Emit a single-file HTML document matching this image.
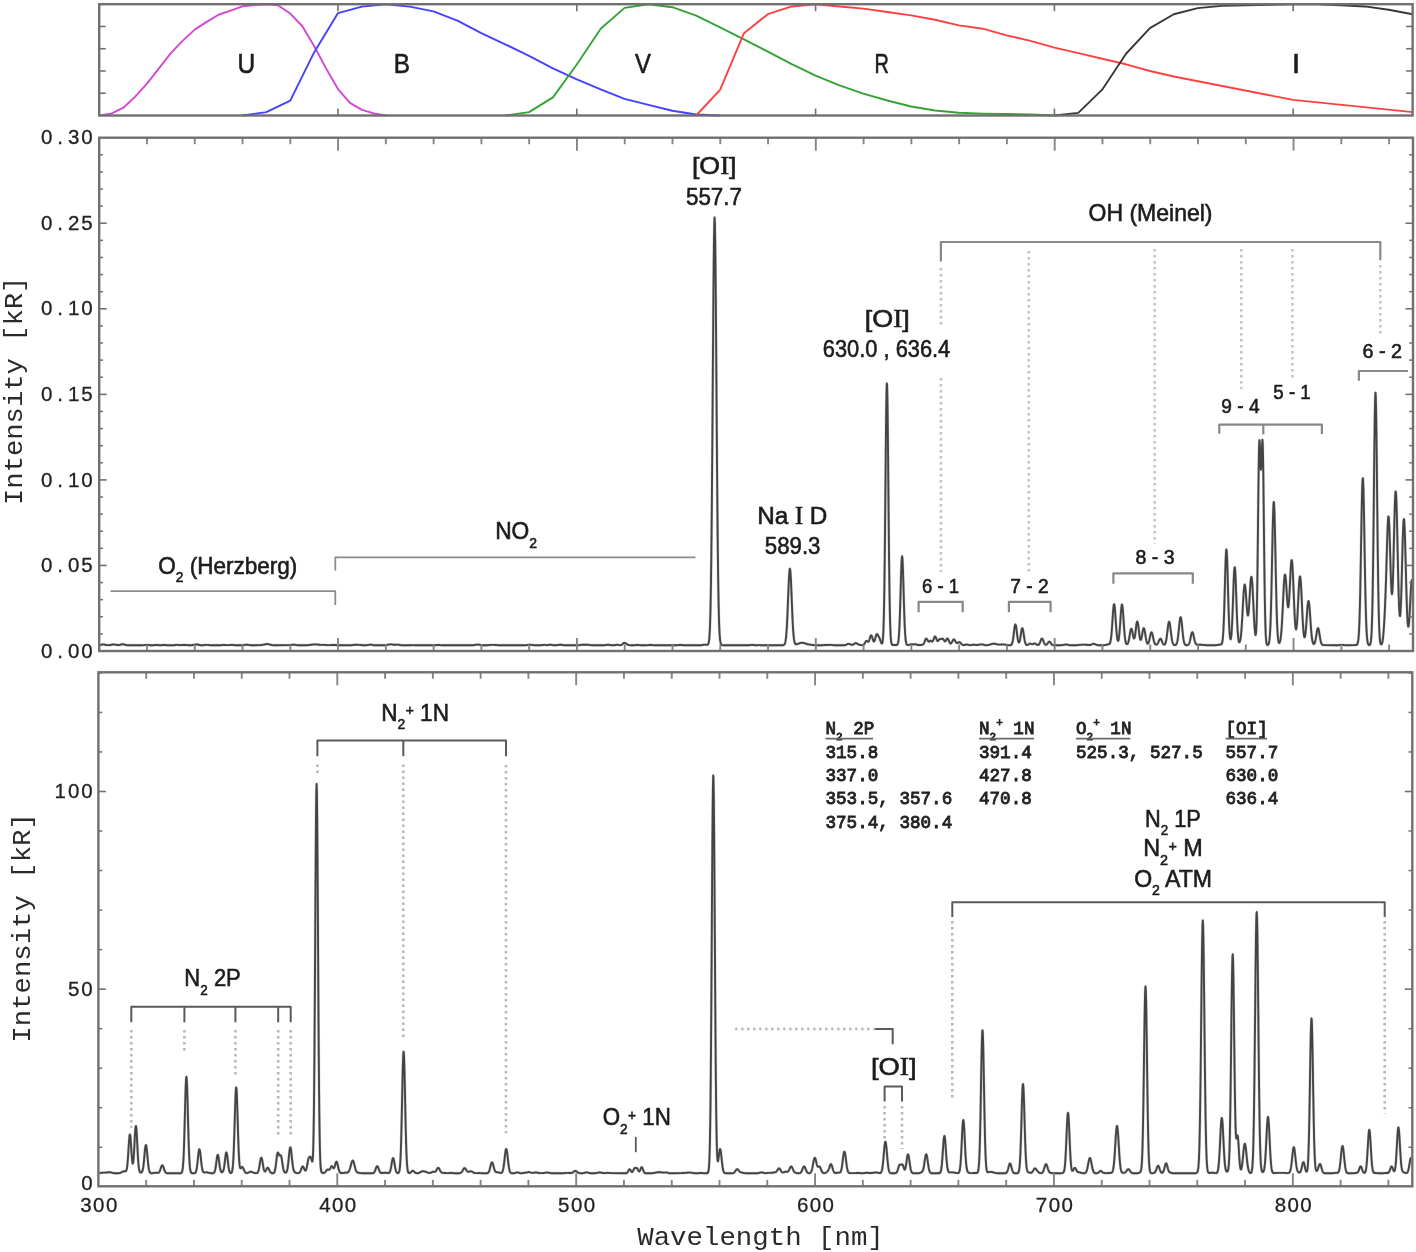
<!DOCTYPE html>
<html><head><meta charset="utf-8"><title>Airglow spectrum</title>
<style>html,body{margin:0;padding:0;background:#fff;} svg{display:block;will-change:transform;} text{filter:grayscale(0%);}</style>
</head><body>
<svg width="1416" height="1252" viewBox="0 0 1416 1252">
<rect width="1416" height="1252" fill="#fff"/>
<line x1="99.20" y1="93.24" x2="105.70" y2="93.24" stroke="#707070" stroke-width="1.6" />
<line x1="1412.60" y1="93.24" x2="1406.10" y2="93.24" stroke="#707070" stroke-width="1.6" />
<line x1="99.20" y1="70.98" x2="105.70" y2="70.98" stroke="#707070" stroke-width="1.6" />
<line x1="1412.60" y1="70.98" x2="1406.10" y2="70.98" stroke="#707070" stroke-width="1.6" />
<line x1="99.20" y1="48.72" x2="105.70" y2="48.72" stroke="#707070" stroke-width="1.6" />
<line x1="1412.60" y1="48.72" x2="1406.10" y2="48.72" stroke="#707070" stroke-width="1.6" />
<line x1="99.20" y1="26.46" x2="105.70" y2="26.46" stroke="#707070" stroke-width="1.6" />
<line x1="1412.60" y1="26.46" x2="1406.10" y2="26.46" stroke="#707070" stroke-width="1.6" />
<line x1="338.00" y1="4.20" x2="338.00" y2="11.20" stroke="#707070" stroke-width="1.6" />
<line x1="338.00" y1="115.50" x2="338.00" y2="108.50" stroke="#707070" stroke-width="1.6" />
<line x1="576.80" y1="4.20" x2="576.80" y2="11.20" stroke="#707070" stroke-width="1.6" />
<line x1="576.80" y1="115.50" x2="576.80" y2="108.50" stroke="#707070" stroke-width="1.6" />
<line x1="815.60" y1="4.20" x2="815.60" y2="11.20" stroke="#707070" stroke-width="1.6" />
<line x1="815.60" y1="115.50" x2="815.60" y2="108.50" stroke="#707070" stroke-width="1.6" />
<line x1="1054.40" y1="4.20" x2="1054.40" y2="11.20" stroke="#707070" stroke-width="1.6" />
<line x1="1054.40" y1="115.50" x2="1054.40" y2="108.50" stroke="#707070" stroke-width="1.6" />
<line x1="1293.20" y1="4.20" x2="1293.20" y2="11.20" stroke="#707070" stroke-width="1.6" />
<line x1="1293.20" y1="115.50" x2="1293.20" y2="108.50" stroke="#707070" stroke-width="1.6" />
<path d="M99.20,115.50 L111.14,113.72 L123.08,107.93 L135.02,96.91 L146.96,83.56 L158.90,68.42 L170.84,53.17 L182.78,40.60 L194.72,29.58 L206.66,21.90 L218.60,14.77 L230.54,10.54 L242.48,6.31 L254.42,4.98 L266.36,4.20 L278.30,5.42 L290.24,13.55 L302.18,26.01 L314.12,45.94 L326.06,68.42 L338.00,89.01 L349.94,102.81 L361.88,109.82 L373.82,113.39 L385.76,115.50" fill="none" stroke="#d048d4" stroke-width="1.9" stroke-linejoin="round" />
<path d="M242.48,115.50 L266.36,112.16 L290.24,100.59 L314.12,52.39 L338.00,13.10 L361.88,6.65 L385.76,4.20 L409.64,6.65 L433.52,11.43 L457.40,20.56 L481.28,33.14 L505.16,44.27 L529.04,55.84 L552.92,68.31 L576.80,79.33 L600.68,89.34 L624.56,98.81 L648.44,104.93 L672.32,110.71 L696.20,114.50 L720.08,115.50" fill="none" stroke="#4242ff" stroke-width="1.9" stroke-linejoin="round" />
<path d="M505.16,115.50 L529.04,112.16 L552.92,97.36 L576.80,64.52 L600.68,28.69 L624.56,7.87 L648.44,4.20 L672.32,7.21 L696.20,15.55 L720.08,27.35 L743.96,39.37 L767.84,51.61 L791.72,64.19 L815.60,75.54 L839.48,85.45 L863.36,93.57 L887.24,100.47 L911.12,106.48 L935.00,110.49 L958.88,112.72 L982.76,113.61 L1006.64,114.05 L1030.52,114.50 L1054.40,115.50" fill="none" stroke="#36a236" stroke-width="1.9" stroke-linejoin="round" />
<path d="M696.20,115.50 L720.08,89.90 L743.96,33.14 L767.84,14.22 L791.72,6.43 L815.60,4.20 L839.48,6.43 L863.36,8.65 L887.24,11.99 L911.12,15.33 L935.00,19.78 L958.88,25.35 L982.76,28.69 L1006.64,35.36 L1030.52,40.93 L1054.40,47.61 L1078.28,53.17 L1102.16,58.74 L1126.04,64.30 L1149.92,70.98 L1173.80,76.55 L1293.20,99.92 L1412.60,112.16" fill="none" stroke="#ff4040" stroke-width="1.9" stroke-linejoin="round" />
<path d="M1054.40,115.50 L1078.28,112.83 L1102.16,89.68 L1126.04,53.73 L1149.92,28.13 L1173.80,14.22 L1197.68,8.10 L1221.56,5.87 L1245.44,5.31 L1269.32,4.76 L1293.20,4.20 L1317.08,4.20 L1340.96,5.31 L1364.84,6.43 L1388.72,9.77 L1412.60,14.22" fill="none" stroke="#383838" stroke-width="1.9" stroke-linejoin="round" />
<rect x="99.2" y="4.2" width="1313.40" height="111.30" fill="none" stroke="#707070" stroke-width="2.4"/>
<text id="t0" x="246.00" y="72.70" font-family="Liberation Sans" font-size="27" text-anchor="middle" fill="#1c1c1c" stroke="#1c1c1c" stroke-width="0.6" transform="matrix(0.9068 0 0 1.0000 23.27 0.00)" >U</text>
<text id="t1" x="402.20" y="72.70" font-family="Liberation Sans" font-size="27" text-anchor="middle" fill="#1c1c1c" stroke="#1c1c1c" stroke-width="0.6" transform="matrix(0.8983 0 0 1.0000 40.63 0.00)" >B</text>
<text id="t2" x="643.00" y="72.70" font-family="Liberation Sans" font-size="27" text-anchor="middle" fill="#1c1c1c" stroke="#1c1c1c" stroke-width="0.6" transform="matrix(0.8829 0 0 1.0000 75.34 0.00)" >V</text>
<text id="t3" x="881.60" y="72.70" font-family="Liberation Sans" font-size="27" text-anchor="middle" fill="#1c1c1c" stroke="#1c1c1c" stroke-width="0.6" transform="matrix(0.7373 0 0 1.0000 231.70 0.00)" >R</text>
<text id="t4" x="1296.00" y="72.70" font-family="Liberation Sans" font-size="27" text-anchor="middle" fill="#1c1c1c" stroke="#1c1c1c" stroke-width="0.6" transform="matrix(1.0814 0 0 1.0000 -105.51 0.00)" >I</text>
<path d="M100.20,645.03 100.50,644.97 100.80,644.90 101.10,644.82 101.40,644.73 101.70,644.64 102.00,644.55 102.30,644.47 102.60,644.40 102.90,644.36 103.20,644.34 103.50,644.35 103.80,644.38 104.10,644.44 104.40,644.52 104.70,644.61 105.00,644.71 105.30,644.81 105.60,644.89 105.90,644.96 106.20,645.01 106.50,645.05 106.80,645.08 109.80,645.07 110.10,645.04 110.40,645.01 110.70,644.96 111.00,644.90 111.30,644.83 111.60,644.75 111.90,644.67 112.20,644.59 112.50,644.53 112.80,644.48 113.10,644.46 113.70,644.46 114.00,644.49 114.30,644.53 114.60,644.58 114.90,644.63 115.20,644.68 115.50,644.73 115.80,644.78 116.10,644.82 116.40,644.86 116.70,644.89 117.00,644.92 117.30,644.94 118.80,644.97 119.10,644.94 119.40,644.91 119.70,644.87 120.00,644.81 120.30,644.75 120.60,644.68 120.90,644.60 121.20,644.52 121.50,644.45 121.80,644.38 122.10,644.33 122.40,644.29 123.00,644.28 123.30,644.31 123.60,644.36 123.90,644.42 124.20,644.50 124.50,644.59 124.80,644.68 125.10,644.77 125.40,644.86 125.70,644.94 126.00,645.01 126.30,645.07 126.60,645.12 126.90,645.16 127.20,645.20 127.50,645.22 127.80,645.24 143.10,645.20 143.40,645.17 143.70,645.15 144.00,645.11 144.30,645.07 144.60,645.03 144.90,644.99 145.20,644.94 145.50,644.90 145.80,644.87 146.10,644.84 147.30,644.83 147.60,644.86 147.90,644.89 148.20,644.94 148.50,644.98 148.80,645.03 149.10,645.08 149.40,645.12 149.70,645.16 150.00,645.19 150.30,645.22 150.60,645.24 153.30,645.23 153.60,645.21 153.90,645.19 154.20,645.16 154.50,645.12 154.80,645.09 155.10,645.05 155.40,645.02 155.70,644.99 156.00,644.97 157.20,644.98 157.50,645.00 157.80,645.03 158.10,645.06 158.40,645.10 158.70,645.13 159.00,645.16 159.30,645.18 161.10,645.19 161.40,645.16 161.70,645.13 162.00,645.10 162.30,645.06 162.60,645.03 162.90,645.00 163.20,644.97 164.40,644.96 164.70,644.98 165.00,645.01 165.30,645.04 165.60,645.08 165.90,645.12 166.20,645.15 166.50,645.18 166.80,645.21 167.10,645.23 173.70,645.24 174.00,645.21 174.30,645.18 174.60,645.14 174.90,645.10 175.20,645.05 175.50,645.00 175.80,644.95 176.10,644.90 176.40,644.87 176.70,644.84 177.60,644.85 177.90,644.87 178.20,644.91 178.50,644.95 178.80,644.99 179.10,645.03 179.40,645.06 179.70,645.09 181.50,645.07 181.80,645.05 182.10,645.03 182.40,645.00 182.70,644.98 183.00,644.96 185.40,644.96 185.70,644.98 186.00,645.01 186.30,645.03 186.60,645.06 186.90,645.09 187.20,645.12 187.50,645.14 187.80,645.16 188.10,645.18 191.10,645.18 191.40,645.15 191.70,645.12 192.00,645.09 192.30,645.06 192.60,645.02 192.90,644.97 193.20,644.93 193.50,644.88 193.80,644.84 194.10,644.79 194.40,644.74 194.70,644.69 195.00,644.64 195.30,644.59 195.60,644.54 195.90,644.50 196.20,644.46 196.50,644.43 197.10,644.43 197.40,644.45 197.70,644.50 198.00,644.56 198.30,644.64 198.60,644.72 198.90,644.81 199.20,644.90 199.50,644.98 199.80,645.05 200.10,645.10 200.40,645.15 200.70,645.19 201.00,645.21 202.80,645.20 203.10,645.18 203.40,645.15 203.70,645.12 204.00,645.08 204.30,645.04 204.60,645.00 204.90,644.96 205.20,644.92 205.50,644.88 205.80,644.85 206.10,644.83 207.30,644.83 207.60,644.85 207.90,644.88 208.20,644.92 208.50,644.96 208.80,645.00 209.10,645.05 209.40,645.09 209.70,645.12 210.00,645.16 210.30,645.19 210.60,645.21 210.90,645.23 220.80,645.20 221.10,645.18 221.40,645.16 221.70,645.13 222.00,645.11 222.30,645.09 222.60,645.06 225.60,645.07 225.90,645.09 226.20,645.11 228.60,645.14 228.90,645.11 229.20,645.08 229.50,645.05 229.80,645.02 230.10,644.98 230.40,644.95 230.70,644.93 231.00,644.90 232.20,644.91 232.50,644.93 232.80,644.96 233.10,645.00 233.40,645.03 233.70,645.07 234.00,645.11 234.30,645.15 234.60,645.18 234.90,645.20 235.20,645.23 242.70,645.24 243.00,645.21 243.30,645.19 243.60,645.15 243.90,645.11 244.20,645.07 244.50,645.02 244.80,644.96 245.10,644.91 245.40,644.86 245.70,644.81 246.00,644.78 246.30,644.75 247.20,644.73 247.50,644.76 247.80,644.79 248.10,644.83 248.40,644.88 248.70,644.93 249.00,644.98 249.30,645.03 249.60,645.08 249.90,645.12 250.20,645.16 250.50,645.19 250.80,645.21 260.40,645.15 260.70,645.12 261.00,645.09 261.30,645.05 261.60,645.01 261.90,644.97 262.20,644.91 262.50,644.86 262.80,644.80 263.10,644.75 263.40,644.69 263.70,644.63 264.00,644.57 264.30,644.51 264.60,644.45 264.90,644.40 265.20,644.34 265.50,644.28 265.80,644.22 266.10,644.17 266.40,644.13 266.70,644.09 267.00,644.06 267.60,644.06 267.90,644.08 268.20,644.11 268.50,644.17 268.80,644.23 269.10,644.31 269.40,644.39 269.70,644.48 270.00,644.57 270.30,644.65 270.60,644.74 270.90,644.82 271.20,644.89 271.50,644.96 271.80,645.02 272.10,645.07 272.40,645.12 272.70,645.16 273.00,645.19 273.30,645.22 273.60,645.24 289.80,645.08 290.10,645.06 290.40,645.03 290.70,645.00 291.00,644.97 291.30,644.93 291.60,644.90 291.90,644.86 292.20,644.83 292.50,644.80 292.80,644.78 294.30,644.78 294.60,644.80 294.90,644.84 295.20,644.87 295.50,644.91 295.80,644.95 296.10,644.99 296.40,645.03 296.70,645.07 297.00,645.11 297.30,645.14 297.60,645.17 297.90,645.20 298.20,645.22 306.90,645.22 307.20,645.20 307.50,645.17 307.80,645.14 308.10,645.10 308.40,645.06 308.70,645.02 309.00,644.98 309.30,644.94 309.60,644.90 309.90,644.86 310.20,644.83 310.50,644.79 310.80,644.76 311.10,644.74 311.40,644.71 311.70,644.68 312.00,644.66 312.30,644.63 312.60,644.60 312.90,644.57 313.20,644.53 313.50,644.50 313.80,644.46 314.10,644.43 314.40,644.41 314.70,644.38 315.90,644.39 316.20,644.41 316.50,644.44 316.80,644.47 317.10,644.51 317.40,644.55 317.70,644.58 318.00,644.62 318.30,644.66 318.60,644.69 318.90,644.72 319.20,644.75 319.50,644.77 319.80,644.79 324.90,644.92 325.20,644.95 325.50,644.97 325.80,645.00 326.10,645.03 326.40,645.06 326.70,645.08 327.00,645.11 327.30,645.14 327.60,645.16 330.30,645.17 330.60,645.14 330.90,645.12 331.20,645.09 331.50,645.06 331.80,645.03 332.10,645.00 332.40,644.97 332.70,644.95 334.50,644.95 334.80,644.97 335.10,645.00 335.40,645.03 335.70,645.06 336.00,645.09 336.30,645.12 336.60,645.15 336.90,645.18 337.20,645.20 351.00,645.22 351.30,645.20 351.60,645.17 351.90,645.14 352.20,645.11 352.50,645.07 352.80,645.03 353.10,644.99 353.40,644.95 353.70,644.91 354.00,644.87 354.30,644.83 354.60,644.80 354.90,644.78 359.70,644.85 360.00,644.88 360.30,644.92 360.60,644.96 360.90,645.01 361.20,645.06 361.50,645.11 361.80,645.15 362.10,645.19 362.40,645.22 362.70,645.24 365.70,645.24 366.00,645.22 366.30,645.19 366.60,645.15 366.90,645.11 367.20,645.07 367.50,645.03 367.80,644.98 368.10,644.93 368.40,644.89 368.70,644.84 369.00,644.80 369.30,644.75 369.60,644.71 369.90,644.68 370.20,644.65 371.10,644.64 371.40,644.67 371.70,644.72 372.00,644.78 372.30,644.85 372.60,644.92 372.90,645.00 373.20,645.07 373.50,645.13 373.80,645.18 374.10,645.21 374.40,645.24 374.70,645.26 385.20,645.25 385.50,645.23 385.80,645.19 386.10,645.15 386.40,645.10 386.70,645.04 387.00,644.97 387.30,644.89 387.60,644.81 387.90,644.73 388.20,644.65 388.50,644.58 388.80,644.52 389.10,644.46 389.40,644.42 389.70,644.39 391.50,644.40 391.80,644.42 392.10,644.46 392.40,644.50 392.70,644.54 393.00,644.59 393.30,644.64 393.60,644.69 393.90,644.73 394.20,644.77 394.50,644.80 395.40,644.81 395.70,644.79 396.00,644.76 396.30,644.72 396.60,644.67 396.90,644.64 397.20,644.61 397.80,644.60 398.10,644.62 398.40,644.66 398.70,644.72 399.00,644.78 399.30,644.85 399.60,644.92 399.90,644.99 400.20,645.05 400.50,645.11 400.80,645.16 401.10,645.19 401.40,645.22 401.70,645.25 410.70,645.24 411.00,645.22 411.30,645.20 411.60,645.17 411.90,645.14 412.20,645.11 412.50,645.09 413.70,645.10 414.00,645.12 414.30,645.15 414.60,645.18 414.90,645.20 415.20,645.23 415.50,645.25 435.00,645.25 435.30,645.23 435.60,645.20 435.90,645.17 436.20,645.13 436.50,645.08 436.80,645.04 437.10,645.00 437.40,644.96 437.70,644.93 438.60,644.92 438.90,644.95 439.20,644.98 439.50,645.02 439.80,645.06 440.10,645.10 440.40,645.14 440.70,645.17 441.00,645.19 472.20,645.23 472.50,645.21 472.80,645.18 473.10,645.15 473.40,645.12 473.70,645.08 474.00,645.04 474.30,645.00 474.60,644.95 474.90,644.91 475.20,644.86 475.50,644.82 475.80,644.77 476.10,644.74 476.40,644.70 476.70,644.67 477.00,644.65 478.50,644.62 478.80,644.65 479.10,644.68 479.40,644.72 479.70,644.78 480.00,644.83 480.30,644.90 480.60,644.96 480.90,645.02 481.20,645.08 481.50,645.13 481.80,645.17 482.10,645.21 482.40,645.23 482.70,645.25 487.50,645.21 487.80,645.19 488.10,645.17 488.40,645.14 488.70,645.11 489.00,645.08 489.30,645.04 489.60,645.01 489.90,644.97 490.20,644.94 490.50,644.90 490.80,644.87 491.10,644.85 491.40,644.83 494.10,644.85 494.40,644.87 494.70,644.89 495.00,644.92 495.30,644.95 495.60,644.97 495.90,645.00 496.20,645.03 496.50,645.06 496.80,645.09 497.10,645.11 497.40,645.14 497.70,645.16 498.00,645.18 525.30,645.22 525.60,645.19 525.90,645.17 526.20,645.14 526.50,645.10 526.80,645.07 527.10,645.03 527.40,644.99 527.70,644.95 528.00,644.91 528.30,644.87 528.60,644.84 528.90,644.81 529.20,644.79 530.70,644.80 531.00,644.83 531.30,644.86 531.60,644.89 531.90,644.93 532.20,644.97 532.50,645.01 532.80,645.05 533.10,645.09 533.40,645.13 533.70,645.16 534.00,645.19 534.30,645.21 540.60,645.24 540.90,645.22 541.20,645.19 541.50,645.15 541.80,645.11 542.10,645.06 542.40,645.01 542.70,644.95 543.00,644.91 543.30,644.87 543.60,644.84 544.50,644.83 544.80,644.86 545.10,644.90 545.40,644.94 545.70,644.99 546.00,645.04 546.30,645.08 546.60,645.11 547.50,645.12 547.80,645.09 548.10,645.05 548.40,644.99 548.70,644.93 549.00,644.87 549.30,644.81 549.60,644.76 549.90,644.73 550.50,644.72 550.80,644.75 551.10,644.80 551.40,644.86 551.70,644.92 552.00,644.99 552.30,645.05 552.60,645.11 552.90,645.16 553.20,645.20 553.50,645.23 553.80,645.25 556.20,645.23 556.50,645.21 556.80,645.18 557.10,645.14 557.40,645.10 557.70,645.05 558.00,645.00 558.30,644.94 558.60,644.89 558.90,644.84 559.20,644.79 559.50,644.76 559.80,644.73 560.70,644.74 561.00,644.77 561.30,644.81 561.60,644.85 561.90,644.90 562.20,644.96 562.50,645.01 562.80,645.06 563.10,645.11 563.40,645.15 563.70,645.19 564.00,645.21 564.30,645.24 578.10,645.22 578.40,645.20 578.70,645.18 579.00,645.15 579.30,645.12 579.60,645.09 579.90,645.05 580.20,645.01 580.50,644.97 580.80,644.92 581.10,644.88 581.40,644.84 581.70,644.80 582.00,644.77 582.30,644.74 582.60,644.71 587.40,644.71 587.70,644.73 588.00,644.76 588.30,644.80 588.60,644.83 588.90,644.87 589.20,644.92 589.50,644.96 589.80,645.00 590.10,645.03 590.40,645.07 590.70,645.10 591.00,645.13 591.30,645.16 591.60,645.18 591.90,645.21 603.90,645.24 604.20,645.22 604.50,645.20 604.80,645.17 605.10,645.13 605.40,645.09 605.70,645.04 606.00,644.99 606.30,644.95 606.60,644.90 606.90,644.86 607.20,644.82 607.50,644.79 608.70,644.80 609.00,644.83 609.30,644.87 609.60,644.91 609.90,644.96 610.20,645.01 610.50,645.05 610.80,645.10 611.10,645.14 611.40,645.17 611.70,645.20 612.00,645.22 613.80,645.23 614.10,645.20 614.40,645.17 614.70,645.12 615.00,645.07 615.30,645.01 615.60,644.95 615.90,644.89 616.20,644.84 616.50,644.81 617.10,644.79 617.40,644.82 617.70,644.86 618.00,644.91 618.30,644.97 618.60,645.03 618.90,645.08 619.20,645.13 619.50,645.16 620.10,645.17 620.40,645.14 620.70,645.09 621.00,645.02 621.30,644.91 621.60,644.76 621.90,644.58 622.20,644.36 622.50,644.12 622.80,643.85 623.10,643.59 623.40,643.34 623.70,643.12 624.00,642.96 624.30,642.86 624.60,642.84 624.90,642.88 625.20,643.00 625.50,643.17 625.80,643.38 626.10,643.61 626.40,643.84 626.70,644.06 627.00,644.27 627.30,644.45 627.60,644.60 627.90,644.73 628.20,644.84 628.50,644.92 628.80,645.00 629.10,645.06 629.40,645.10 629.70,645.14 630.00,645.18 630.30,645.20 630.60,645.23 634.20,645.25 634.50,645.23 634.80,645.20 635.10,645.17 635.40,645.14 635.70,645.10 636.00,645.06 636.30,645.02 636.60,644.98 636.90,644.96 637.80,644.94 638.10,644.96 638.40,644.99 638.70,645.03 639.00,645.07 639.30,645.11 639.60,645.15 639.90,645.18 640.20,645.21 640.50,645.24 647.10,645.19 647.40,645.17 647.70,645.15 648.00,645.12 648.30,645.10 648.60,645.08 648.90,645.06 651.90,645.05 652.20,645.07 652.50,645.10 652.80,645.12 653.10,645.14 653.40,645.17 653.70,645.19 676.80,645.23 677.10,645.21 677.40,645.18 677.70,645.16 678.00,645.13 678.30,645.09 678.60,645.06 678.90,645.03 679.20,645.01 681.00,645.01 681.30,645.03 681.60,645.06 681.90,645.09 682.20,645.12 682.50,645.15 682.80,645.18 683.10,645.21 683.40,645.23 700.80,645.24 701.10,645.21 701.40,645.18 701.70,645.14 702.00,645.09 702.30,645.04 702.60,644.97 702.90,644.91 703.20,644.84 703.50,644.77 703.80,644.71 704.10,644.67 704.40,644.64 705.00,644.63 705.30,644.66 705.60,644.69 705.90,644.74 706.20,644.79 706.50,644.83 706.80,644.86 707.10,644.86 707.40,644.81 707.70,644.66 708.00,644.37 708.30,643.85 708.60,642.95 708.90,641.48 709.20,639.17 709.50,635.66 709.80,630.47 710.10,623.05 710.40,612.76 710.70,598.91 711.00,580.88 711.30,558.15 711.60,530.44 711.90,497.85 712.20,460.92 712.50,420.73 712.80,378.87 713.10,337.41 713.40,298.73 713.70,265.32 714.00,239.49 714.30,223.16 714.60,217.57 714.90,223.15 715.20,239.47 715.50,265.27 715.80,298.67 716.10,337.33 716.40,378.78 716.70,420.62 717.00,460.80 717.30,497.71 717.60,530.29 717.90,557.98 718.20,580.71 718.50,598.74 718.80,612.59 719.10,622.89 719.40,630.32 719.70,635.52 720.00,639.05 720.30,641.39 720.60,642.89 720.90,643.83 721.20,644.40 721.50,644.75 721.80,644.95 722.10,645.07 722.40,645.14 722.70,645.19 723.00,645.22 748.50,645.24 748.80,645.21 749.10,645.19 749.40,645.15 749.70,645.11 750.00,645.07 750.30,645.03 750.60,644.98 750.90,644.94 751.20,644.91 751.50,644.88 752.70,644.88 753.00,644.90 753.30,644.94 753.60,644.98 753.90,645.02 754.20,645.07 754.50,645.11 754.80,645.15 755.10,645.18 755.40,645.20 756.90,645.20 757.20,645.18 757.50,645.15 757.80,645.13 759.60,645.13 759.90,645.15 760.20,645.18 760.50,645.20 760.80,645.23 761.10,645.25 782.70,645.26 783.00,645.23 783.30,645.18 783.60,645.10 783.90,644.96 784.20,644.73 784.50,644.37 784.80,643.81 785.10,642.98 785.40,641.78 785.70,640.08 786.00,637.76 786.30,634.69 786.60,630.76 786.90,625.91 787.20,620.14 787.50,613.51 787.80,606.23 788.10,598.57 788.40,590.93 788.70,583.76 789.00,577.54 789.30,572.72 789.60,569.68 789.90,568.66 790.20,569.75 790.50,572.85 790.80,577.72 791.10,583.98 791.40,591.18 791.70,598.83 792.00,606.48 792.30,613.74 792.60,620.33 792.90,626.06 793.20,630.84 793.50,634.70 793.80,637.69 794.10,639.92 794.40,641.53 794.70,642.64 795.00,643.38 795.30,643.84 795.60,644.10 795.90,644.22 796.20,644.26 796.50,644.24 796.80,644.18 797.10,644.09 797.40,644.00 797.70,643.89 798.00,643.78 798.30,643.67 798.60,643.56 798.90,643.45 799.20,643.34 799.50,643.24 799.80,643.15 800.10,643.07 800.40,642.99 800.70,642.93 801.00,642.88 801.30,642.84 801.60,642.81 802.50,642.82 802.80,642.85 803.10,642.89 803.40,642.95 803.70,643.01 804.00,643.09 804.30,643.17 804.60,643.26 804.90,643.36 805.20,643.46 805.50,643.56 805.80,643.67 806.10,643.77 806.40,643.87 806.70,643.96 807.00,644.05 807.30,644.14 807.60,644.22 807.90,644.29 808.20,644.35 808.50,644.41 808.80,644.46 809.10,644.51 809.40,644.56 809.70,644.60 810.00,644.64 810.30,644.67 810.60,644.71 810.90,644.74 811.20,644.78 811.50,644.82 811.80,644.86 812.10,644.90 812.40,644.94 812.70,644.97 813.00,645.01 813.30,645.05 813.60,645.08 813.90,645.11 814.20,645.14 814.50,645.17 814.80,645.19 815.10,645.21 822.60,645.23 822.90,645.21 823.20,645.18 823.50,645.15 823.80,645.12 824.10,645.08 824.40,645.05 824.70,645.01 825.00,644.98 825.30,644.96 830.70,644.83 831.00,644.85 831.30,644.89 831.60,644.93 831.90,644.98 832.20,645.03 832.50,645.08 832.80,645.13 833.10,645.17 833.40,645.20 833.70,645.23 834.00,645.25 844.20,645.25 844.50,645.22 844.80,645.18 845.10,645.12 845.40,645.04 845.70,644.94 846.00,644.82 846.30,644.68 846.60,644.53 846.90,644.37 847.20,644.22 847.50,644.08 847.80,643.97 848.10,643.90 848.40,643.86 848.70,643.87 849.00,643.92 849.30,644.00 849.60,644.11 849.90,644.23 850.20,644.36 850.50,644.48 850.80,644.59 851.10,644.68 851.40,644.74 851.70,644.78 852.30,644.78 852.60,644.72 852.90,644.63 853.20,644.50 853.50,644.34 853.80,644.15 854.10,643.94 854.40,643.73 854.70,643.53 855.00,643.35 855.30,643.23 855.60,643.16 855.90,643.14 856.20,643.19 856.50,643.29 856.80,643.43 857.10,643.60 857.40,643.77 857.70,643.95 858.00,644.13 858.30,644.29 858.60,644.43 858.90,644.56 859.20,644.67 859.50,644.77 859.80,644.86 860.10,644.93 860.40,645.00 860.70,645.06 861.00,645.11 861.30,645.14 861.60,645.17 862.20,645.17 862.50,645.14 862.80,645.07 863.10,644.96 863.40,644.79 863.70,644.55 864.00,644.24 864.30,643.86 864.60,643.40 864.90,642.90 865.20,642.39 865.50,641.91 865.80,641.49 866.10,641.19 866.40,641.02 866.70,641.00 867.00,641.10 867.30,641.29 867.60,641.51 867.90,641.68 868.20,641.73 868.50,641.59 868.80,641.23 869.10,640.62 869.40,639.80 869.70,638.83 870.00,637.79 870.30,636.81 870.60,636.01 870.90,635.48 871.20,635.30 871.50,635.50 871.80,636.05 872.10,636.88 872.40,637.90 872.70,638.96 873.00,639.95 873.30,640.76 873.60,641.29 873.90,641.49 874.20,641.33 874.50,640.83 874.80,640.03 875.10,639.00 875.40,637.84 875.70,636.69 876.00,635.65 876.30,634.83 876.60,634.30 876.90,634.09 877.20,634.16 877.50,634.46 877.80,634.92 878.10,635.44 878.40,635.99 878.70,636.53 879.00,637.09 879.30,637.69 879.60,638.37 879.90,639.14 880.20,639.98 880.50,640.86 880.80,641.72 881.10,642.49 881.40,643.09 881.70,643.44 882.00,643.44 882.30,642.91 882.60,641.59 882.90,639.11 883.20,634.90 883.50,628.26 883.80,618.36 884.10,604.39 884.40,585.71 884.70,562.06 885.00,533.87 885.30,502.34 885.60,469.55 885.90,438.27 886.20,411.61 886.50,392.55 886.80,383.38 887.10,385.23 887.40,397.87 887.70,419.74 888.00,448.27 888.30,480.38 888.60,513.02 888.90,543.62 889.20,570.38 889.50,592.38 889.80,609.46 890.10,622.00 890.40,630.76 890.70,636.56 891.00,640.23 891.30,642.44 891.60,643.71 891.90,644.41 892.20,644.77 892.50,644.95 892.80,645.02 893.10,645.05 896.40,644.99 896.70,644.94 897.00,644.83 897.30,644.60 897.60,644.16 897.90,643.41 898.20,642.16 898.50,640.21 898.80,637.31 899.10,633.19 899.40,627.63 899.70,620.50 900.00,611.84 900.30,601.93 900.60,591.27 900.90,580.63 901.20,570.93 901.50,563.12 901.80,558.05 902.10,556.30 902.40,558.07 902.70,563.16 903.00,570.98 903.30,580.70 903.60,591.34 903.90,602.00 904.20,611.91 904.50,620.56 904.80,627.68 905.10,633.24 905.40,637.35 905.70,640.25 906.00,642.20 906.30,643.44 906.60,644.19 906.90,644.62 907.20,644.85 907.50,644.95 907.80,644.99 908.10,644.99 908.40,644.96 908.70,644.92 909.00,644.87 909.30,644.80 909.60,644.72 909.90,644.62 910.20,644.52 910.50,644.43 910.80,644.34 911.10,644.27 911.40,644.24 911.70,644.23 912.00,644.26 912.30,644.31 912.60,644.36 912.90,644.41 913.20,644.44 913.50,644.44 913.80,644.41 914.10,644.36 914.40,644.29 914.70,644.24 915.00,644.20 915.30,644.19 915.60,644.23 915.90,644.30 916.20,644.40 916.50,644.52 916.80,644.65 917.10,644.77 917.40,644.88 917.70,644.96 918.00,645.01 918.30,645.04 919.20,645.03 919.50,645.01 919.80,644.98 920.10,644.96 920.40,644.94 921.60,644.88 921.90,644.86 922.20,644.81 922.50,644.73 922.80,644.59 923.10,644.38 923.40,644.07 923.70,643.65 924.00,643.10 924.30,642.45 924.60,641.71 924.90,640.92 925.20,640.16 925.50,639.48 925.80,638.96 926.10,638.65 926.40,638.59 926.70,638.76 927.00,639.14 927.30,639.66 927.60,640.24 927.90,640.78 928.20,641.23 928.50,641.52 928.80,641.63 929.10,641.58 929.40,641.40 929.70,641.17 930.00,640.95 930.30,640.80 930.60,640.76 930.90,640.83 931.20,641.01 931.50,641.22 931.80,641.42 932.10,641.52 932.40,641.46 932.70,641.21 933.00,640.74 933.30,640.08 933.60,639.29 933.90,638.45 934.20,637.65 934.50,637.01 934.80,636.60 935.10,636.48 935.40,636.67 935.70,637.15 936.00,637.83 936.30,638.63 936.60,639.44 936.90,640.14 937.20,640.66 937.50,640.95 937.80,641.00 938.10,640.82 938.40,640.49 938.70,640.09 939.00,639.69 939.30,639.36 939.60,639.14 939.90,639.05 940.20,639.05 940.50,639.09 940.80,639.13 941.10,639.12 941.40,639.05 941.70,638.92 942.00,638.78 942.30,638.69 942.60,638.68 942.90,638.82 943.20,639.10 943.50,639.51 943.80,640.01 944.10,640.51 944.40,640.95 944.70,641.26 945.00,641.38 945.30,641.28 945.60,640.99 945.90,640.53 946.20,639.98 946.50,639.42 946.80,638.94 947.10,638.61 947.40,638.50 947.70,638.64 948.00,639.00 948.30,639.55 948.60,640.24 948.90,640.98 949.20,641.71 949.50,642.36 949.80,642.89 950.10,643.26 950.40,643.47 950.70,643.50 951.00,643.37 951.30,643.09 951.60,642.68 951.90,642.17 952.20,641.60 952.50,641.01 952.80,640.45 953.10,639.99 953.40,639.65 953.70,639.47 954.00,639.48 954.30,639.66 954.60,640.00 954.90,640.45 955.20,640.97 955.50,641.51 955.80,642.01 956.10,642.44 956.40,642.77 956.70,642.98 957.00,643.06 957.30,643.04 957.60,642.92 957.90,642.75 958.20,642.54 958.50,642.35 958.80,642.19 959.10,642.10 959.40,642.10 959.70,642.19 960.00,642.38 960.30,642.64 960.60,642.96 960.90,643.31 961.20,643.67 961.50,644.00 961.80,644.30 962.10,644.55 962.40,644.75 962.70,644.90 963.00,645.00 963.30,645.06 963.60,645.08 963.90,645.07 964.20,645.03 964.50,644.97 964.80,644.89 965.10,644.81 965.40,644.72 965.70,644.64 966.00,644.57 966.30,644.52 966.60,644.50 966.90,644.51 967.20,644.54 967.50,644.59 967.80,644.67 968.10,644.75 968.40,644.84 968.70,644.92 969.00,645.00 969.30,645.06 969.60,645.11 969.90,645.14 970.50,645.14 970.80,645.12 971.10,645.08 971.40,645.03 971.70,644.98 972.00,644.92 972.30,644.86 972.60,644.81 972.90,644.77 973.20,644.73 974.10,644.73 974.40,644.76 974.70,644.80 975.00,644.85 975.30,644.89 975.60,644.93 975.90,644.97 976.20,644.99 977.10,644.99 977.40,644.97 977.70,644.94 978.00,644.89 978.30,644.84 978.60,644.79 978.90,644.73 979.20,644.67 979.50,644.61 979.80,644.55 980.10,644.49 980.40,644.44 980.70,644.40 981.00,644.37 981.90,644.37 982.20,644.41 982.50,644.46 982.80,644.53 983.10,644.61 983.40,644.70 983.70,644.79 984.00,644.88 984.30,644.95 984.60,645.02 984.90,645.08 985.20,645.12 985.50,645.16 985.80,645.18 987.00,645.16 987.30,645.13 987.60,645.10 987.90,645.06 988.20,645.01 988.50,644.95 988.80,644.88 989.10,644.80 989.40,644.72 989.70,644.63 990.00,644.54 990.30,644.44 990.60,644.34 990.90,644.25 991.20,644.16 991.50,644.07 991.80,643.99 992.10,643.93 992.40,643.87 992.70,643.82 993.00,643.79 993.30,643.76 994.50,643.77 994.80,643.80 995.10,643.84 995.40,643.88 995.70,643.94 996.00,644.00 996.30,644.07 996.60,644.15 996.90,644.23 997.20,644.32 997.50,644.40 997.80,644.47 998.10,644.54 998.40,644.59 998.70,644.63 999.00,644.66 999.90,644.65 1000.20,644.62 1000.50,644.58 1000.80,644.54 1001.10,644.50 1001.40,644.46 1001.70,644.43 1002.00,644.41 1003.20,644.42 1003.50,644.45 1003.80,644.48 1004.10,644.52 1004.40,644.57 1004.70,644.62 1005.00,644.67 1005.30,644.71 1005.60,644.76 1005.90,644.80 1006.20,644.84 1006.50,644.88 1006.80,644.92 1007.10,644.96 1007.40,645.00 1007.70,645.03 1008.00,645.07 1008.30,645.11 1008.60,645.14 1008.90,645.17 1009.20,645.19 1010.10,645.22 1010.40,645.19 1010.70,645.13 1011.00,645.00 1011.30,644.79 1011.60,644.45 1011.90,643.93 1012.20,643.16 1012.50,642.10 1012.80,640.68 1013.10,638.89 1013.40,636.77 1013.70,634.38 1014.00,631.87 1014.30,629.43 1014.60,627.28 1014.90,625.64 1015.20,624.69 1015.50,624.54 1015.80,625.20 1016.10,626.60 1016.40,628.58 1016.70,630.91 1017.00,633.39 1017.30,635.79 1017.60,637.95 1017.90,639.75 1018.20,641.11 1018.50,642.01 1018.80,642.44 1019.10,642.42 1019.40,641.94 1019.70,641.03 1020.00,639.72 1020.30,638.06 1020.60,636.15 1020.90,634.12 1021.20,632.13 1021.50,630.38 1021.80,629.05 1022.10,628.28 1022.40,628.17 1022.70,628.74 1023.00,629.91 1023.30,631.55 1023.60,633.50 1023.90,635.57 1024.20,637.59 1024.50,639.43 1024.80,641.00 1025.10,642.27 1025.40,643.24 1025.70,643.95 1026.00,644.43 1026.30,644.73 1026.60,644.90 1026.90,644.97 1027.20,644.95 1027.50,644.88 1027.80,644.76 1028.10,644.60 1028.40,644.42 1028.70,644.22 1029.00,644.03 1029.30,643.86 1029.60,643.72 1029.90,643.65 1030.20,643.63 1030.50,643.66 1030.80,643.75 1031.10,643.86 1031.40,643.98 1031.70,644.09 1032.00,644.16 1032.30,644.19 1032.60,644.15 1032.90,644.07 1033.20,643.95 1033.50,643.81 1033.80,643.67 1034.10,643.56 1034.40,643.50 1034.70,643.50 1035.00,643.57 1035.30,643.69 1035.60,643.87 1035.90,644.07 1036.20,644.28 1036.50,644.49 1036.80,644.67 1037.10,644.82 1037.40,644.93 1037.70,644.98 1038.00,644.97 1038.30,644.89 1038.60,644.74 1038.90,644.48 1039.20,644.11 1039.50,643.62 1039.80,643.01 1040.10,642.29 1040.40,641.51 1040.70,640.70 1041.00,639.93 1041.30,639.29 1041.60,638.83 1041.90,638.61 1042.20,638.66 1042.50,638.96 1042.80,639.49 1043.10,640.18 1043.40,640.96 1043.70,641.77 1044.00,642.54 1044.30,643.22 1044.60,643.78 1044.90,644.22 1045.20,644.53 1045.50,644.71 1045.80,644.79 1046.10,644.77 1046.40,644.65 1046.70,644.45 1047.00,644.16 1047.30,643.81 1047.60,643.40 1047.90,642.97 1048.20,642.55 1048.50,642.18 1048.80,641.89 1049.10,641.73 1049.40,641.71 1049.70,641.83 1050.00,642.07 1050.30,642.42 1050.60,642.83 1050.90,643.26 1051.20,643.69 1051.50,644.07 1051.80,644.40 1052.10,644.67 1052.40,644.87 1052.70,645.02 1053.00,645.13 1053.30,645.20 1053.60,645.24 1053.90,645.27 1060.80,645.20 1061.10,645.18 1061.40,645.15 1061.70,645.12 1062.00,645.09 1062.30,645.06 1062.60,645.02 1062.90,644.98 1063.20,644.93 1063.50,644.88 1063.80,644.83 1064.10,644.78 1064.40,644.73 1064.70,644.68 1065.00,644.63 1065.30,644.59 1065.60,644.56 1066.50,644.57 1066.80,644.60 1067.10,644.65 1067.40,644.71 1067.70,644.78 1068.00,644.85 1068.30,644.92 1068.60,644.98 1068.90,645.04 1069.20,645.09 1069.50,645.13 1069.80,645.16 1070.10,645.19 1070.40,645.22 1076.10,645.24 1076.40,645.22 1076.70,645.19 1077.00,645.16 1077.30,645.13 1077.60,645.09 1077.90,645.05 1078.20,645.01 1078.50,644.98 1078.80,644.95 1079.10,644.92 1080.90,644.84 1081.20,644.82 1081.50,644.79 1081.80,644.76 1082.10,644.73 1082.40,644.70 1082.70,644.67 1083.00,644.64 1083.30,644.62 1084.80,644.62 1085.10,644.65 1085.40,644.68 1085.70,644.72 1086.00,644.76 1086.30,644.80 1086.60,644.84 1086.90,644.89 1087.20,644.93 1087.50,644.97 1087.80,645.01 1088.10,645.04 1088.40,645.06 1089.30,645.07 1089.60,645.05 1089.90,645.01 1090.20,644.95 1090.50,644.87 1090.80,644.77 1091.10,644.66 1091.40,644.52 1091.70,644.39 1092.00,644.25 1092.30,644.11 1092.60,644.00 1092.90,643.92 1093.20,643.86 1093.80,643.87 1094.10,643.92 1094.40,644.00 1094.70,644.11 1095.00,644.22 1095.30,644.35 1095.60,644.47 1095.90,644.59 1096.20,644.70 1096.50,644.81 1096.80,644.90 1097.10,644.98 1097.40,645.05 1097.70,645.10 1098.00,645.15 1098.30,645.19 1098.60,645.22 1098.90,645.24 1103.40,645.23 1103.70,645.21 1104.00,645.18 1104.30,645.15 1104.60,645.11 1104.90,645.07 1105.20,645.01 1105.50,644.95 1105.80,644.89 1106.10,644.82 1106.40,644.75 1106.70,644.67 1107.00,644.60 1107.30,644.54 1107.60,644.48 1107.90,644.43 1108.20,644.38 1108.50,644.32 1108.80,644.24 1109.10,644.11 1109.40,643.89 1109.70,643.53 1110.00,642.97 1110.30,642.10 1110.60,640.85 1110.90,639.10 1111.20,636.77 1111.50,633.82 1111.80,630.24 1112.10,626.13 1112.40,621.65 1112.70,617.08 1113.00,612.73 1113.30,608.97 1113.60,606.14 1113.90,604.52 1114.20,604.28 1114.50,605.44 1114.80,607.88 1115.10,611.35 1115.40,615.53 1115.70,620.06 1116.00,624.59 1116.30,628.82 1116.60,632.54 1116.90,635.62 1117.20,637.98 1117.50,639.63 1117.80,640.56 1118.10,640.80 1118.40,640.35 1118.70,639.19 1119.00,637.32 1119.30,634.73 1119.60,631.44 1119.90,627.55 1120.20,623.21 1120.50,618.67 1120.80,614.24 1121.10,610.29 1121.40,607.16 1121.70,605.17 1122.00,604.51 1122.30,605.25 1122.60,607.32 1122.90,610.51 1123.20,614.51 1123.50,618.97 1123.80,623.53 1124.10,627.89 1124.40,631.81 1124.70,635.16 1125.00,637.88 1125.30,639.99 1125.60,641.56 1125.90,642.67 1126.20,643.42 1126.50,643.88 1126.80,644.12 1127.10,644.15 1127.40,644.00 1127.70,643.66 1128.00,643.09 1128.30,642.27 1128.60,641.19 1128.90,639.83 1129.20,638.23 1129.50,636.45 1129.80,634.59 1130.10,632.77 1130.40,631.13 1130.70,629.83 1131.00,628.99 1131.30,628.70 1131.60,628.97 1131.90,629.76 1132.20,631.00 1132.50,632.52 1132.80,634.15 1133.10,635.72 1133.40,637.06 1133.70,638.00 1134.00,638.44 1134.30,638.30 1134.60,637.55 1134.90,636.21 1135.20,634.35 1135.50,632.09 1135.80,629.61 1136.10,627.12 1136.40,624.86 1136.70,623.06 1137.00,621.90 1137.30,621.51 1137.60,621.94 1137.90,623.14 1138.20,624.99 1138.50,627.30 1138.80,629.86 1139.10,632.43 1139.40,634.82 1139.70,636.85 1140.00,638.42 1140.30,639.45 1140.60,639.90 1140.90,639.80 1141.20,639.17 1141.50,638.07 1141.80,636.62 1142.10,634.92 1142.40,633.13 1142.70,631.41 1143.00,629.92 1143.30,628.82 1143.60,628.23 1143.90,628.20 1144.20,628.75 1144.50,629.83 1144.80,631.33 1145.10,633.12 1145.40,635.03 1145.70,636.94 1146.00,638.71 1146.30,640.26 1146.60,641.54 1146.90,642.51 1147.20,643.19 1147.50,643.57 1147.80,643.66 1148.10,643.49 1148.40,643.04 1148.70,642.33 1149.00,641.38 1149.30,640.20 1149.60,638.85 1149.90,637.40 1150.20,635.95 1150.50,634.60 1150.80,633.48 1151.10,632.69 1151.40,632.31 1151.70,632.38 1152.00,632.89 1152.30,633.79 1152.60,634.99 1152.90,636.37 1153.20,637.82 1153.50,639.24 1153.80,640.54 1154.10,641.66 1154.40,642.59 1154.70,643.31 1155.00,643.84 1155.30,644.20 1155.60,644.43 1155.90,644.55 1156.20,644.58 1156.50,644.52 1156.80,644.39 1157.10,644.17 1157.40,643.85 1157.70,643.44 1158.00,642.92 1158.30,642.32 1158.60,641.64 1158.90,640.94 1159.20,640.25 1159.50,639.64 1159.80,639.15 1160.10,638.84 1160.40,638.75 1160.70,638.87 1161.00,639.21 1161.30,639.73 1161.60,640.38 1161.90,641.10 1162.20,641.84 1162.50,642.54 1162.80,643.17 1163.10,643.70 1163.40,644.12 1163.70,644.41 1164.00,644.59 1164.30,644.63 1164.60,644.52 1164.90,644.26 1165.20,643.79 1165.50,643.09 1165.80,642.11 1166.10,640.80 1166.40,639.15 1166.70,637.15 1167.00,634.86 1167.30,632.36 1167.60,629.77 1167.90,627.27 1168.20,625.05 1168.50,623.29 1168.80,622.16 1169.10,621.74 1169.40,622.10 1169.70,623.18 1170.00,624.89 1170.30,627.07 1170.60,629.53 1170.90,632.08 1171.20,634.57 1171.50,636.85 1171.80,638.84 1172.10,640.50 1172.40,641.83 1172.70,642.86 1173.00,643.62 1173.30,644.16 1173.60,644.53 1173.90,644.79 1174.20,644.95 1174.50,645.05 1174.80,645.09 1175.10,645.09 1175.40,645.04 1175.70,644.91 1176.00,644.69 1176.30,644.34 1176.60,643.81 1176.90,643.03 1177.20,641.95 1177.50,640.52 1177.80,638.68 1178.10,636.44 1178.40,633.82 1178.70,630.91 1179.00,627.84 1179.30,624.81 1179.60,622.02 1179.90,619.72 1180.20,618.10 1180.50,617.31 1180.80,617.43 1181.10,618.44 1181.40,620.26 1181.70,622.71 1182.00,625.57 1182.30,628.63 1182.60,631.66 1182.90,634.50 1183.20,637.02 1183.50,639.16 1183.80,640.89 1184.10,642.23 1184.40,643.23 1184.70,643.95 1185.00,644.44 1185.30,644.77 1185.60,644.99 1185.90,645.12 1186.20,645.19 1186.50,645.23 1187.10,645.22 1187.40,645.17 1187.70,645.09 1188.00,644.95 1188.30,644.73 1188.60,644.40 1188.90,643.94 1189.20,643.31 1189.50,642.48 1189.80,641.46 1190.10,640.24 1190.40,638.86 1190.70,637.39 1191.00,635.93 1191.30,634.57 1191.60,633.43 1191.90,632.63 1192.20,632.24 1192.50,632.29 1192.80,632.78 1193.10,633.65 1193.40,634.82 1193.70,636.18 1194.00,637.62 1194.30,639.02 1194.60,640.31 1194.90,641.43 1195.20,642.35 1195.50,643.09 1195.80,643.64 1196.10,644.04 1196.40,644.33 1196.70,644.52 1197.00,644.65 1197.30,644.74 1197.60,644.79 1197.90,644.82 1201.20,644.79 1201.50,644.81 1201.80,644.83 1202.10,644.85 1203.90,644.95 1204.20,644.97 1204.50,645.00 1204.80,645.03 1205.10,645.06 1205.40,645.10 1205.70,645.14 1206.00,645.17 1206.30,645.20 1206.60,645.23 1206.90,645.25 1215.00,645.23 1215.30,645.20 1215.60,645.18 1215.90,645.15 1216.20,645.11 1216.50,645.07 1216.80,645.03 1217.10,644.98 1217.40,644.94 1217.70,644.89 1218.00,644.84 1218.30,644.80 1218.60,644.76 1218.90,644.73 1219.20,644.70 1219.50,644.67 1219.80,644.65 1220.10,644.63 1220.40,644.60 1220.70,644.55 1221.00,644.45 1221.30,644.27 1221.60,643.93 1221.90,643.34 1222.20,642.36 1222.50,640.80 1222.80,638.43 1223.10,635.01 1223.40,630.28 1223.70,624.05 1224.00,616.22 1224.30,606.90 1224.60,596.40 1224.90,585.28 1225.20,574.29 1225.50,564.36 1225.80,556.41 1226.10,551.26 1226.40,549.45 1226.70,551.17 1227.00,556.24 1227.30,564.11 1227.60,573.98 1227.90,584.91 1228.20,596.00 1228.50,606.46 1228.80,615.74 1229.10,623.50 1229.40,629.62 1229.70,634.13 1230.00,637.15 1230.30,638.84 1230.60,639.32 1230.90,638.65 1231.20,636.82 1231.50,633.80 1231.80,629.51 1232.10,623.92 1232.40,617.09 1232.70,609.20 1233.00,600.61 1233.30,591.81 1233.60,583.45 1233.90,576.23 1234.20,570.80 1234.50,567.70 1234.80,567.25 1235.10,569.50 1235.40,574.21 1235.70,580.92 1236.00,589.00 1236.30,597.74 1236.60,606.49 1236.90,614.69 1237.20,621.94 1237.50,628.03 1237.80,632.88 1238.10,636.55 1238.40,639.17 1238.70,640.89 1239.00,641.88 1239.30,642.27 1239.60,642.14 1239.90,641.54 1240.20,640.46 1240.50,638.88 1240.80,636.74 1241.10,634.00 1241.40,630.62 1241.70,626.60 1242.00,621.98 1242.30,616.85 1242.60,611.38 1242.90,605.77 1243.20,600.30 1243.50,595.24 1243.80,590.91 1244.10,587.55 1244.40,585.40 1244.70,584.59 1245.00,585.14 1245.30,587.00 1245.60,589.97 1245.90,593.80 1246.20,598.15 1246.50,602.65 1246.80,606.93 1247.10,610.63 1247.40,613.43 1247.70,615.12 1248.00,615.52 1248.30,614.58 1248.60,612.33 1248.90,608.90 1249.20,604.53 1249.50,599.51 1249.80,594.20 1250.10,589.00 1250.40,584.32 1250.70,580.53 1251.00,577.95 1251.30,576.80 1251.60,577.19 1251.90,579.12 1252.20,582.49 1252.50,587.06 1252.80,592.55 1253.10,598.64 1253.40,604.98 1253.70,611.27 1254.00,617.22 1254.30,622.62 1254.60,627.28 1254.90,631.05 1255.20,633.74 1255.50,635.09 1255.80,634.72 1256.10,632.08 1256.40,626.46 1256.70,617.05 1257.00,603.17 1257.30,584.49 1257.60,561.35 1257.90,534.94 1258.20,507.41 1258.50,481.57 1258.80,460.37 1259.10,446.20 1259.40,440.21 1259.70,441.85 1260.00,448.96 1260.30,458.22 1260.60,466.07 1260.90,469.68 1261.20,467.79 1261.50,461.05 1261.80,451.84 1262.10,443.57 1262.40,439.77 1262.70,443.05 1263.00,454.55 1263.30,473.65 1263.60,498.33 1263.90,525.73 1264.20,552.96 1264.50,577.63 1264.80,598.25 1265.10,614.26 1265.40,625.87 1265.70,633.76 1266.00,638.79 1266.30,641.80 1266.60,643.50 1266.90,644.39 1267.20,644.81 1267.50,644.96 1267.80,644.93 1268.10,644.74 1268.40,644.36 1268.70,643.70 1269.00,642.63 1269.30,640.98 1269.60,638.52 1269.90,634.98 1270.20,630.07 1270.50,623.51 1270.80,615.08 1271.10,604.67 1271.40,592.36 1271.70,578.44 1272.00,563.43 1272.30,548.14 1272.60,533.52 1272.90,520.65 1273.20,510.56 1273.50,504.11 1273.80,501.90 1274.10,504.11 1274.40,510.55 1274.70,520.64 1275.00,533.51 1275.30,548.12 1275.60,563.41 1275.90,578.40 1276.20,592.31 1276.50,604.60 1276.80,614.97 1277.10,623.37 1277.40,629.87 1277.70,634.71 1278.00,638.16 1278.30,640.49 1278.60,641.95 1278.90,642.74 1279.20,643.01 1279.50,642.85 1279.80,642.29 1280.10,641.33 1280.40,639.92 1280.70,638.00 1281.00,635.49 1281.30,632.34 1281.60,628.49 1281.90,623.94 1282.20,618.72 1282.50,612.93 1282.80,606.73 1283.10,600.35 1283.40,594.06 1283.70,588.18 1284.00,583.02 1284.30,578.90 1284.60,576.04 1284.90,574.63 1285.20,574.73 1285.50,576.28 1285.80,579.13 1286.10,583.02 1286.40,587.59 1286.70,592.45 1287.00,597.17 1287.30,601.35 1287.60,604.62 1287.90,606.68 1288.20,607.31 1288.50,606.41 1288.80,603.99 1289.10,600.15 1289.40,595.14 1289.70,589.27 1290.00,582.95 1290.30,576.64 1290.60,570.80 1290.90,565.89 1291.20,562.30 1291.50,560.33 1291.80,560.14 1292.10,561.81 1292.40,565.22 1292.70,570.17 1293.00,576.35 1293.30,583.40 1293.60,590.90 1293.90,598.46 1294.20,605.71 1294.50,612.34 1294.80,618.09 1295.10,622.77 1295.40,626.26 1295.70,628.46 1296.00,629.35 1296.30,628.90 1296.60,627.16 1296.90,624.18 1297.20,620.07 1297.50,615.00 1297.80,609.20 1298.10,602.95 1298.40,596.60 1298.70,590.53 1299.00,585.13 1299.30,580.78 1299.60,577.79 1299.90,576.39 1300.20,576.69 1300.50,578.66 1300.80,582.16 1301.10,586.95 1301.40,592.70 1301.70,599.04 1302.00,605.59 1302.30,612.03 1302.60,618.05 1302.90,623.43 1303.20,628.02 1303.50,631.72 1303.80,634.50 1304.10,636.34 1304.40,637.27 1304.70,637.29 1305.00,636.45 1305.30,634.77 1305.60,632.31 1305.90,629.14 1306.20,625.38 1306.50,621.21 1306.80,616.83 1307.10,612.50 1307.40,608.51 1307.70,605.15 1308.00,602.67 1308.30,601.27 1308.60,601.06 1308.90,602.07 1309.20,604.22 1309.50,607.32 1309.80,611.15 1310.10,615.43 1310.40,619.88 1310.70,624.26 1311.00,628.35 1311.30,632.01 1311.60,635.15 1311.90,637.74 1312.20,639.79 1312.50,641.36 1312.80,642.50 1313.10,643.27 1313.40,643.74 1313.70,643.95 1314.00,643.92 1314.30,643.66 1314.60,643.15 1314.90,642.39 1315.20,641.35 1315.50,640.03 1315.80,638.46 1316.10,636.67 1316.40,634.77 1316.70,632.86 1317.00,631.11 1317.30,629.65 1317.60,628.63 1317.90,628.14 1318.20,628.25 1318.50,628.94 1318.80,630.14 1319.10,631.73 1319.40,633.57 1319.70,635.50 1320.00,637.39 1320.30,639.12 1320.60,640.63 1320.90,641.88 1321.20,642.86 1321.50,643.60 1321.80,644.13 1322.10,644.50 1322.40,644.75 1322.70,644.90 1323.00,645.00 1323.30,645.06 1323.60,645.10 1323.90,645.12 1337.40,645.23 1337.70,645.21 1338.00,645.18 1338.30,645.16 1338.60,645.13 1338.90,645.09 1339.20,645.06 1339.50,645.03 1339.80,644.99 1340.10,644.96 1340.40,644.93 1340.70,644.91 1342.50,644.90 1342.80,644.92 1343.10,644.94 1343.40,644.98 1343.70,645.01 1344.00,645.04 1344.30,645.08 1344.60,645.11 1344.90,645.14 1345.20,645.17 1345.50,645.19 1345.80,645.22 1353.60,645.17 1353.90,645.15 1355.40,645.06 1355.70,645.03 1356.00,645.00 1356.30,644.94 1356.60,644.83 1356.90,644.64 1357.20,644.30 1357.50,643.74 1357.80,642.81 1358.10,641.36 1358.40,639.13 1358.70,635.86 1359.00,631.22 1359.30,624.87 1359.60,616.50 1359.90,605.90 1360.20,593.00 1360.50,577.97 1360.80,561.24 1361.10,543.54 1361.40,525.87 1361.70,509.40 1362.00,495.38 1362.30,484.97 1362.60,479.08 1362.90,478.25 1363.20,482.56 1363.50,491.60 1363.80,504.59 1364.10,520.43 1364.40,537.88 1364.70,555.72 1365.00,572.89 1365.30,588.55 1365.60,602.20 1365.90,613.56 1366.20,622.64 1366.50,629.62 1366.80,634.78 1367.10,638.46 1367.40,640.99 1367.70,642.66 1368.00,643.73 1368.30,644.39 1368.60,644.77 1368.90,644.97 1369.20,645.04 1369.50,644.99 1369.80,644.80 1370.10,644.41 1370.40,643.69 1370.70,642.45 1371.00,640.41 1371.30,637.19 1371.60,632.28 1371.90,625.13 1372.20,615.10 1372.50,601.65 1372.80,584.38 1373.10,563.19 1373.40,538.45 1373.70,511.04 1374.00,482.43 1374.30,454.53 1374.60,429.57 1374.90,409.76 1375.20,397.01 1375.50,392.60 1375.80,396.99 1376.10,409.72 1376.40,429.51 1376.70,454.46 1377.00,482.34 1377.30,510.94 1377.60,538.34 1377.90,563.08 1378.20,584.27 1378.50,601.54 1378.80,615.00 1379.10,625.03 1379.40,632.19 1379.70,637.10 1380.00,640.32 1380.30,642.35 1380.60,643.54 1380.90,644.17 1381.20,644.40 1381.50,644.30 1381.80,643.89 1382.10,643.12 1382.40,641.93 1382.70,640.23 1383.00,637.94 1383.30,635.02 1383.60,631.44 1383.90,627.24 1384.20,622.43 1384.50,617.05 1384.80,611.09 1385.10,604.47 1385.40,597.13 1385.70,588.96 1386.00,579.94 1386.30,570.17 1386.60,559.89 1386.90,549.52 1387.20,539.59 1387.50,530.74 1387.80,523.59 1388.10,518.69 1388.40,516.45 1388.70,517.07 1389.00,520.51 1389.30,526.53 1389.60,534.66 1389.90,544.28 1390.20,554.68 1390.50,565.08 1390.80,574.76 1391.10,583.02 1391.40,589.29 1391.70,593.12 1392.00,594.19 1392.30,592.37 1392.60,587.68 1392.90,580.29 1393.20,570.56 1393.50,559.03 1393.80,546.35 1394.10,533.31 1394.40,520.77 1394.70,509.60 1395.00,500.58 1395.30,494.41 1395.60,491.54 1395.90,492.22 1396.20,496.42 1396.50,503.86 1396.80,514.02 1397.10,526.24 1397.40,539.76 1397.70,553.78 1398.00,567.54 1398.30,580.38 1398.60,591.75 1398.90,601.24 1399.20,608.55 1399.50,613.50 1399.80,615.99 1400.10,616.01 1400.40,613.58 1400.70,608.83 1401.00,601.93 1401.30,593.16 1401.60,582.89 1401.90,571.63 1402.20,559.96 1402.50,548.59 1402.80,538.21 1403.10,529.54 1403.40,523.18 1403.70,519.62 1404.00,519.12 1404.30,521.72 1404.60,527.24 1404.90,535.27 1405.20,545.25 1405.50,556.52 1405.80,568.38 1406.10,580.17 1406.40,591.31 1406.70,601.32 1407.00,609.87 1407.30,616.75 1407.60,621.84 1407.90,625.12 1408.20,626.65 1408.50,626.52 1408.80,624.85 1409.10,621.82 1409.40,617.64 1409.70,612.54 1410.00,606.84 1410.30,600.87 1410.60,595.00 1410.90,589.63 1411.20,585.14 1411.50,581.84 1411.80,579.98 1412.00,579.62" fill="none" stroke="#d4d4d4" stroke-width="2.9" stroke-linejoin="round"/>
<path d="M100.20,645.03 100.50,644.97 100.80,644.90 101.10,644.82 101.40,644.73 101.70,644.64 102.00,644.55 102.30,644.47 102.60,644.40 102.90,644.36 103.20,644.34 103.50,644.35 103.80,644.38 104.10,644.44 104.40,644.52 104.70,644.61 105.00,644.71 105.30,644.81 105.60,644.89 105.90,644.96 106.20,645.01 106.50,645.05 106.80,645.08 109.80,645.07 110.10,645.04 110.40,645.01 110.70,644.96 111.00,644.90 111.30,644.83 111.60,644.75 111.90,644.67 112.20,644.59 112.50,644.53 112.80,644.48 113.10,644.46 113.70,644.46 114.00,644.49 114.30,644.53 114.60,644.58 114.90,644.63 115.20,644.68 115.50,644.73 115.80,644.78 116.10,644.82 116.40,644.86 116.70,644.89 117.00,644.92 117.30,644.94 118.80,644.97 119.10,644.94 119.40,644.91 119.70,644.87 120.00,644.81 120.30,644.75 120.60,644.68 120.90,644.60 121.20,644.52 121.50,644.45 121.80,644.38 122.10,644.33 122.40,644.29 123.00,644.28 123.30,644.31 123.60,644.36 123.90,644.42 124.20,644.50 124.50,644.59 124.80,644.68 125.10,644.77 125.40,644.86 125.70,644.94 126.00,645.01 126.30,645.07 126.60,645.12 126.90,645.16 127.20,645.20 127.50,645.22 127.80,645.24 143.10,645.20 143.40,645.17 143.70,645.15 144.00,645.11 144.30,645.07 144.60,645.03 144.90,644.99 145.20,644.94 145.50,644.90 145.80,644.87 146.10,644.84 147.30,644.83 147.60,644.86 147.90,644.89 148.20,644.94 148.50,644.98 148.80,645.03 149.10,645.08 149.40,645.12 149.70,645.16 150.00,645.19 150.30,645.22 150.60,645.24 153.30,645.23 153.60,645.21 153.90,645.19 154.20,645.16 154.50,645.12 154.80,645.09 155.10,645.05 155.40,645.02 155.70,644.99 156.00,644.97 157.20,644.98 157.50,645.00 157.80,645.03 158.10,645.06 158.40,645.10 158.70,645.13 159.00,645.16 159.30,645.18 161.10,645.19 161.40,645.16 161.70,645.13 162.00,645.10 162.30,645.06 162.60,645.03 162.90,645.00 163.20,644.97 164.40,644.96 164.70,644.98 165.00,645.01 165.30,645.04 165.60,645.08 165.90,645.12 166.20,645.15 166.50,645.18 166.80,645.21 167.10,645.23 173.70,645.24 174.00,645.21 174.30,645.18 174.60,645.14 174.90,645.10 175.20,645.05 175.50,645.00 175.80,644.95 176.10,644.90 176.40,644.87 176.70,644.84 177.60,644.85 177.90,644.87 178.20,644.91 178.50,644.95 178.80,644.99 179.10,645.03 179.40,645.06 179.70,645.09 181.50,645.07 181.80,645.05 182.10,645.03 182.40,645.00 182.70,644.98 183.00,644.96 185.40,644.96 185.70,644.98 186.00,645.01 186.30,645.03 186.60,645.06 186.90,645.09 187.20,645.12 187.50,645.14 187.80,645.16 188.10,645.18 191.10,645.18 191.40,645.15 191.70,645.12 192.00,645.09 192.30,645.06 192.60,645.02 192.90,644.97 193.20,644.93 193.50,644.88 193.80,644.84 194.10,644.79 194.40,644.74 194.70,644.69 195.00,644.64 195.30,644.59 195.60,644.54 195.90,644.50 196.20,644.46 196.50,644.43 197.10,644.43 197.40,644.45 197.70,644.50 198.00,644.56 198.30,644.64 198.60,644.72 198.90,644.81 199.20,644.90 199.50,644.98 199.80,645.05 200.10,645.10 200.40,645.15 200.70,645.19 201.00,645.21 202.80,645.20 203.10,645.18 203.40,645.15 203.70,645.12 204.00,645.08 204.30,645.04 204.60,645.00 204.90,644.96 205.20,644.92 205.50,644.88 205.80,644.85 206.10,644.83 207.30,644.83 207.60,644.85 207.90,644.88 208.20,644.92 208.50,644.96 208.80,645.00 209.10,645.05 209.40,645.09 209.70,645.12 210.00,645.16 210.30,645.19 210.60,645.21 210.90,645.23 220.80,645.20 221.10,645.18 221.40,645.16 221.70,645.13 222.00,645.11 222.30,645.09 222.60,645.06 225.60,645.07 225.90,645.09 226.20,645.11 228.60,645.14 228.90,645.11 229.20,645.08 229.50,645.05 229.80,645.02 230.10,644.98 230.40,644.95 230.70,644.93 231.00,644.90 232.20,644.91 232.50,644.93 232.80,644.96 233.10,645.00 233.40,645.03 233.70,645.07 234.00,645.11 234.30,645.15 234.60,645.18 234.90,645.20 235.20,645.23 242.70,645.24 243.00,645.21 243.30,645.19 243.60,645.15 243.90,645.11 244.20,645.07 244.50,645.02 244.80,644.96 245.10,644.91 245.40,644.86 245.70,644.81 246.00,644.78 246.30,644.75 247.20,644.73 247.50,644.76 247.80,644.79 248.10,644.83 248.40,644.88 248.70,644.93 249.00,644.98 249.30,645.03 249.60,645.08 249.90,645.12 250.20,645.16 250.50,645.19 250.80,645.21 260.40,645.15 260.70,645.12 261.00,645.09 261.30,645.05 261.60,645.01 261.90,644.97 262.20,644.91 262.50,644.86 262.80,644.80 263.10,644.75 263.40,644.69 263.70,644.63 264.00,644.57 264.30,644.51 264.60,644.45 264.90,644.40 265.20,644.34 265.50,644.28 265.80,644.22 266.10,644.17 266.40,644.13 266.70,644.09 267.00,644.06 267.60,644.06 267.90,644.08 268.20,644.11 268.50,644.17 268.80,644.23 269.10,644.31 269.40,644.39 269.70,644.48 270.00,644.57 270.30,644.65 270.60,644.74 270.90,644.82 271.20,644.89 271.50,644.96 271.80,645.02 272.10,645.07 272.40,645.12 272.70,645.16 273.00,645.19 273.30,645.22 273.60,645.24 289.80,645.08 290.10,645.06 290.40,645.03 290.70,645.00 291.00,644.97 291.30,644.93 291.60,644.90 291.90,644.86 292.20,644.83 292.50,644.80 292.80,644.78 294.30,644.78 294.60,644.80 294.90,644.84 295.20,644.87 295.50,644.91 295.80,644.95 296.10,644.99 296.40,645.03 296.70,645.07 297.00,645.11 297.30,645.14 297.60,645.17 297.90,645.20 298.20,645.22 306.90,645.22 307.20,645.20 307.50,645.17 307.80,645.14 308.10,645.10 308.40,645.06 308.70,645.02 309.00,644.98 309.30,644.94 309.60,644.90 309.90,644.86 310.20,644.83 310.50,644.79 310.80,644.76 311.10,644.74 311.40,644.71 311.70,644.68 312.00,644.66 312.30,644.63 312.60,644.60 312.90,644.57 313.20,644.53 313.50,644.50 313.80,644.46 314.10,644.43 314.40,644.41 314.70,644.38 315.90,644.39 316.20,644.41 316.50,644.44 316.80,644.47 317.10,644.51 317.40,644.55 317.70,644.58 318.00,644.62 318.30,644.66 318.60,644.69 318.90,644.72 319.20,644.75 319.50,644.77 319.80,644.79 324.90,644.92 325.20,644.95 325.50,644.97 325.80,645.00 326.10,645.03 326.40,645.06 326.70,645.08 327.00,645.11 327.30,645.14 327.60,645.16 330.30,645.17 330.60,645.14 330.90,645.12 331.20,645.09 331.50,645.06 331.80,645.03 332.10,645.00 332.40,644.97 332.70,644.95 334.50,644.95 334.80,644.97 335.10,645.00 335.40,645.03 335.70,645.06 336.00,645.09 336.30,645.12 336.60,645.15 336.90,645.18 337.20,645.20 351.00,645.22 351.30,645.20 351.60,645.17 351.90,645.14 352.20,645.11 352.50,645.07 352.80,645.03 353.10,644.99 353.40,644.95 353.70,644.91 354.00,644.87 354.30,644.83 354.60,644.80 354.90,644.78 359.70,644.85 360.00,644.88 360.30,644.92 360.60,644.96 360.90,645.01 361.20,645.06 361.50,645.11 361.80,645.15 362.10,645.19 362.40,645.22 362.70,645.24 365.70,645.24 366.00,645.22 366.30,645.19 366.60,645.15 366.90,645.11 367.20,645.07 367.50,645.03 367.80,644.98 368.10,644.93 368.40,644.89 368.70,644.84 369.00,644.80 369.30,644.75 369.60,644.71 369.90,644.68 370.20,644.65 371.10,644.64 371.40,644.67 371.70,644.72 372.00,644.78 372.30,644.85 372.60,644.92 372.90,645.00 373.20,645.07 373.50,645.13 373.80,645.18 374.10,645.21 374.40,645.24 374.70,645.26 385.20,645.25 385.50,645.23 385.80,645.19 386.10,645.15 386.40,645.10 386.70,645.04 387.00,644.97 387.30,644.89 387.60,644.81 387.90,644.73 388.20,644.65 388.50,644.58 388.80,644.52 389.10,644.46 389.40,644.42 389.70,644.39 391.50,644.40 391.80,644.42 392.10,644.46 392.40,644.50 392.70,644.54 393.00,644.59 393.30,644.64 393.60,644.69 393.90,644.73 394.20,644.77 394.50,644.80 395.40,644.81 395.70,644.79 396.00,644.76 396.30,644.72 396.60,644.67 396.90,644.64 397.20,644.61 397.80,644.60 398.10,644.62 398.40,644.66 398.70,644.72 399.00,644.78 399.30,644.85 399.60,644.92 399.90,644.99 400.20,645.05 400.50,645.11 400.80,645.16 401.10,645.19 401.40,645.22 401.70,645.25 410.70,645.24 411.00,645.22 411.30,645.20 411.60,645.17 411.90,645.14 412.20,645.11 412.50,645.09 413.70,645.10 414.00,645.12 414.30,645.15 414.60,645.18 414.90,645.20 415.20,645.23 415.50,645.25 435.00,645.25 435.30,645.23 435.60,645.20 435.90,645.17 436.20,645.13 436.50,645.08 436.80,645.04 437.10,645.00 437.40,644.96 437.70,644.93 438.60,644.92 438.90,644.95 439.20,644.98 439.50,645.02 439.80,645.06 440.10,645.10 440.40,645.14 440.70,645.17 441.00,645.19 472.20,645.23 472.50,645.21 472.80,645.18 473.10,645.15 473.40,645.12 473.70,645.08 474.00,645.04 474.30,645.00 474.60,644.95 474.90,644.91 475.20,644.86 475.50,644.82 475.80,644.77 476.10,644.74 476.40,644.70 476.70,644.67 477.00,644.65 478.50,644.62 478.80,644.65 479.10,644.68 479.40,644.72 479.70,644.78 480.00,644.83 480.30,644.90 480.60,644.96 480.90,645.02 481.20,645.08 481.50,645.13 481.80,645.17 482.10,645.21 482.40,645.23 482.70,645.25 487.50,645.21 487.80,645.19 488.10,645.17 488.40,645.14 488.70,645.11 489.00,645.08 489.30,645.04 489.60,645.01 489.90,644.97 490.20,644.94 490.50,644.90 490.80,644.87 491.10,644.85 491.40,644.83 494.10,644.85 494.40,644.87 494.70,644.89 495.00,644.92 495.30,644.95 495.60,644.97 495.90,645.00 496.20,645.03 496.50,645.06 496.80,645.09 497.10,645.11 497.40,645.14 497.70,645.16 498.00,645.18 525.30,645.22 525.60,645.19 525.90,645.17 526.20,645.14 526.50,645.10 526.80,645.07 527.10,645.03 527.40,644.99 527.70,644.95 528.00,644.91 528.30,644.87 528.60,644.84 528.90,644.81 529.20,644.79 530.70,644.80 531.00,644.83 531.30,644.86 531.60,644.89 531.90,644.93 532.20,644.97 532.50,645.01 532.80,645.05 533.10,645.09 533.40,645.13 533.70,645.16 534.00,645.19 534.30,645.21 540.60,645.24 540.90,645.22 541.20,645.19 541.50,645.15 541.80,645.11 542.10,645.06 542.40,645.01 542.70,644.95 543.00,644.91 543.30,644.87 543.60,644.84 544.50,644.83 544.80,644.86 545.10,644.90 545.40,644.94 545.70,644.99 546.00,645.04 546.30,645.08 546.60,645.11 547.50,645.12 547.80,645.09 548.10,645.05 548.40,644.99 548.70,644.93 549.00,644.87 549.30,644.81 549.60,644.76 549.90,644.73 550.50,644.72 550.80,644.75 551.10,644.80 551.40,644.86 551.70,644.92 552.00,644.99 552.30,645.05 552.60,645.11 552.90,645.16 553.20,645.20 553.50,645.23 553.80,645.25 556.20,645.23 556.50,645.21 556.80,645.18 557.10,645.14 557.40,645.10 557.70,645.05 558.00,645.00 558.30,644.94 558.60,644.89 558.90,644.84 559.20,644.79 559.50,644.76 559.80,644.73 560.70,644.74 561.00,644.77 561.30,644.81 561.60,644.85 561.90,644.90 562.20,644.96 562.50,645.01 562.80,645.06 563.10,645.11 563.40,645.15 563.70,645.19 564.00,645.21 564.30,645.24 578.10,645.22 578.40,645.20 578.70,645.18 579.00,645.15 579.30,645.12 579.60,645.09 579.90,645.05 580.20,645.01 580.50,644.97 580.80,644.92 581.10,644.88 581.40,644.84 581.70,644.80 582.00,644.77 582.30,644.74 582.60,644.71 587.40,644.71 587.70,644.73 588.00,644.76 588.30,644.80 588.60,644.83 588.90,644.87 589.20,644.92 589.50,644.96 589.80,645.00 590.10,645.03 590.40,645.07 590.70,645.10 591.00,645.13 591.30,645.16 591.60,645.18 591.90,645.21 603.90,645.24 604.20,645.22 604.50,645.20 604.80,645.17 605.10,645.13 605.40,645.09 605.70,645.04 606.00,644.99 606.30,644.95 606.60,644.90 606.90,644.86 607.20,644.82 607.50,644.79 608.70,644.80 609.00,644.83 609.30,644.87 609.60,644.91 609.90,644.96 610.20,645.01 610.50,645.05 610.80,645.10 611.10,645.14 611.40,645.17 611.70,645.20 612.00,645.22 613.80,645.23 614.10,645.20 614.40,645.17 614.70,645.12 615.00,645.07 615.30,645.01 615.60,644.95 615.90,644.89 616.20,644.84 616.50,644.81 617.10,644.79 617.40,644.82 617.70,644.86 618.00,644.91 618.30,644.97 618.60,645.03 618.90,645.08 619.20,645.13 619.50,645.16 620.10,645.17 620.40,645.14 620.70,645.09 621.00,645.02 621.30,644.91 621.60,644.76 621.90,644.58 622.20,644.36 622.50,644.12 622.80,643.85 623.10,643.59 623.40,643.34 623.70,643.12 624.00,642.96 624.30,642.86 624.60,642.84 624.90,642.88 625.20,643.00 625.50,643.17 625.80,643.38 626.10,643.61 626.40,643.84 626.70,644.06 627.00,644.27 627.30,644.45 627.60,644.60 627.90,644.73 628.20,644.84 628.50,644.92 628.80,645.00 629.10,645.06 629.40,645.10 629.70,645.14 630.00,645.18 630.30,645.20 630.60,645.23 634.20,645.25 634.50,645.23 634.80,645.20 635.10,645.17 635.40,645.14 635.70,645.10 636.00,645.06 636.30,645.02 636.60,644.98 636.90,644.96 637.80,644.94 638.10,644.96 638.40,644.99 638.70,645.03 639.00,645.07 639.30,645.11 639.60,645.15 639.90,645.18 640.20,645.21 640.50,645.24 647.10,645.19 647.40,645.17 647.70,645.15 648.00,645.12 648.30,645.10 648.60,645.08 648.90,645.06 651.90,645.05 652.20,645.07 652.50,645.10 652.80,645.12 653.10,645.14 653.40,645.17 653.70,645.19 676.80,645.23 677.10,645.21 677.40,645.18 677.70,645.16 678.00,645.13 678.30,645.09 678.60,645.06 678.90,645.03 679.20,645.01 681.00,645.01 681.30,645.03 681.60,645.06 681.90,645.09 682.20,645.12 682.50,645.15 682.80,645.18 683.10,645.21 683.40,645.23 700.80,645.24 701.10,645.21 701.40,645.18 701.70,645.14 702.00,645.09 702.30,645.04 702.60,644.97 702.90,644.91 703.20,644.84 703.50,644.77 703.80,644.71 704.10,644.67 704.40,644.64 705.00,644.63 705.30,644.66 705.60,644.69 705.90,644.74 706.20,644.79 706.50,644.83 706.80,644.86 707.10,644.86 707.40,644.81 707.70,644.66 708.00,644.37 708.30,643.85 708.60,642.95 708.90,641.48 709.20,639.17 709.50,635.66 709.80,630.47 710.10,623.05 710.40,612.76 710.70,598.91 711.00,580.88 711.30,558.15 711.60,530.44 711.90,497.85 712.20,460.92 712.50,420.73 712.80,378.87 713.10,337.41 713.40,298.73 713.70,265.32 714.00,239.49 714.30,223.16 714.60,217.57 714.90,223.15 715.20,239.47 715.50,265.27 715.80,298.67 716.10,337.33 716.40,378.78 716.70,420.62 717.00,460.80 717.30,497.71 717.60,530.29 717.90,557.98 718.20,580.71 718.50,598.74 718.80,612.59 719.10,622.89 719.40,630.32 719.70,635.52 720.00,639.05 720.30,641.39 720.60,642.89 720.90,643.83 721.20,644.40 721.50,644.75 721.80,644.95 722.10,645.07 722.40,645.14 722.70,645.19 723.00,645.22 748.50,645.24 748.80,645.21 749.10,645.19 749.40,645.15 749.70,645.11 750.00,645.07 750.30,645.03 750.60,644.98 750.90,644.94 751.20,644.91 751.50,644.88 752.70,644.88 753.00,644.90 753.30,644.94 753.60,644.98 753.90,645.02 754.20,645.07 754.50,645.11 754.80,645.15 755.10,645.18 755.40,645.20 756.90,645.20 757.20,645.18 757.50,645.15 757.80,645.13 759.60,645.13 759.90,645.15 760.20,645.18 760.50,645.20 760.80,645.23 761.10,645.25 782.70,645.26 783.00,645.23 783.30,645.18 783.60,645.10 783.90,644.96 784.20,644.73 784.50,644.37 784.80,643.81 785.10,642.98 785.40,641.78 785.70,640.08 786.00,637.76 786.30,634.69 786.60,630.76 786.90,625.91 787.20,620.14 787.50,613.51 787.80,606.23 788.10,598.57 788.40,590.93 788.70,583.76 789.00,577.54 789.30,572.72 789.60,569.68 789.90,568.66 790.20,569.75 790.50,572.85 790.80,577.72 791.10,583.98 791.40,591.18 791.70,598.83 792.00,606.48 792.30,613.74 792.60,620.33 792.90,626.06 793.20,630.84 793.50,634.70 793.80,637.69 794.10,639.92 794.40,641.53 794.70,642.64 795.00,643.38 795.30,643.84 795.60,644.10 795.90,644.22 796.20,644.26 796.50,644.24 796.80,644.18 797.10,644.09 797.40,644.00 797.70,643.89 798.00,643.78 798.30,643.67 798.60,643.56 798.90,643.45 799.20,643.34 799.50,643.24 799.80,643.15 800.10,643.07 800.40,642.99 800.70,642.93 801.00,642.88 801.30,642.84 801.60,642.81 802.50,642.82 802.80,642.85 803.10,642.89 803.40,642.95 803.70,643.01 804.00,643.09 804.30,643.17 804.60,643.26 804.90,643.36 805.20,643.46 805.50,643.56 805.80,643.67 806.10,643.77 806.40,643.87 806.70,643.96 807.00,644.05 807.30,644.14 807.60,644.22 807.90,644.29 808.20,644.35 808.50,644.41 808.80,644.46 809.10,644.51 809.40,644.56 809.70,644.60 810.00,644.64 810.30,644.67 810.60,644.71 810.90,644.74 811.20,644.78 811.50,644.82 811.80,644.86 812.10,644.90 812.40,644.94 812.70,644.97 813.00,645.01 813.30,645.05 813.60,645.08 813.90,645.11 814.20,645.14 814.50,645.17 814.80,645.19 815.10,645.21 822.60,645.23 822.90,645.21 823.20,645.18 823.50,645.15 823.80,645.12 824.10,645.08 824.40,645.05 824.70,645.01 825.00,644.98 825.30,644.96 830.70,644.83 831.00,644.85 831.30,644.89 831.60,644.93 831.90,644.98 832.20,645.03 832.50,645.08 832.80,645.13 833.10,645.17 833.40,645.20 833.70,645.23 834.00,645.25 844.20,645.25 844.50,645.22 844.80,645.18 845.10,645.12 845.40,645.04 845.70,644.94 846.00,644.82 846.30,644.68 846.60,644.53 846.90,644.37 847.20,644.22 847.50,644.08 847.80,643.97 848.10,643.90 848.40,643.86 848.70,643.87 849.00,643.92 849.30,644.00 849.60,644.11 849.90,644.23 850.20,644.36 850.50,644.48 850.80,644.59 851.10,644.68 851.40,644.74 851.70,644.78 852.30,644.78 852.60,644.72 852.90,644.63 853.20,644.50 853.50,644.34 853.80,644.15 854.10,643.94 854.40,643.73 854.70,643.53 855.00,643.35 855.30,643.23 855.60,643.16 855.90,643.14 856.20,643.19 856.50,643.29 856.80,643.43 857.10,643.60 857.40,643.77 857.70,643.95 858.00,644.13 858.30,644.29 858.60,644.43 858.90,644.56 859.20,644.67 859.50,644.77 859.80,644.86 860.10,644.93 860.40,645.00 860.70,645.06 861.00,645.11 861.30,645.14 861.60,645.17 862.20,645.17 862.50,645.14 862.80,645.07 863.10,644.96 863.40,644.79 863.70,644.55 864.00,644.24 864.30,643.86 864.60,643.40 864.90,642.90 865.20,642.39 865.50,641.91 865.80,641.49 866.10,641.19 866.40,641.02 866.70,641.00 867.00,641.10 867.30,641.29 867.60,641.51 867.90,641.68 868.20,641.73 868.50,641.59 868.80,641.23 869.10,640.62 869.40,639.80 869.70,638.83 870.00,637.79 870.30,636.81 870.60,636.01 870.90,635.48 871.20,635.30 871.50,635.50 871.80,636.05 872.10,636.88 872.40,637.90 872.70,638.96 873.00,639.95 873.30,640.76 873.60,641.29 873.90,641.49 874.20,641.33 874.50,640.83 874.80,640.03 875.10,639.00 875.40,637.84 875.70,636.69 876.00,635.65 876.30,634.83 876.60,634.30 876.90,634.09 877.20,634.16 877.50,634.46 877.80,634.92 878.10,635.44 878.40,635.99 878.70,636.53 879.00,637.09 879.30,637.69 879.60,638.37 879.90,639.14 880.20,639.98 880.50,640.86 880.80,641.72 881.10,642.49 881.40,643.09 881.70,643.44 882.00,643.44 882.30,642.91 882.60,641.59 882.90,639.11 883.20,634.90 883.50,628.26 883.80,618.36 884.10,604.39 884.40,585.71 884.70,562.06 885.00,533.87 885.30,502.34 885.60,469.55 885.90,438.27 886.20,411.61 886.50,392.55 886.80,383.38 887.10,385.23 887.40,397.87 887.70,419.74 888.00,448.27 888.30,480.38 888.60,513.02 888.90,543.62 889.20,570.38 889.50,592.38 889.80,609.46 890.10,622.00 890.40,630.76 890.70,636.56 891.00,640.23 891.30,642.44 891.60,643.71 891.90,644.41 892.20,644.77 892.50,644.95 892.80,645.02 893.10,645.05 896.40,644.99 896.70,644.94 897.00,644.83 897.30,644.60 897.60,644.16 897.90,643.41 898.20,642.16 898.50,640.21 898.80,637.31 899.10,633.19 899.40,627.63 899.70,620.50 900.00,611.84 900.30,601.93 900.60,591.27 900.90,580.63 901.20,570.93 901.50,563.12 901.80,558.05 902.10,556.30 902.40,558.07 902.70,563.16 903.00,570.98 903.30,580.70 903.60,591.34 903.90,602.00 904.20,611.91 904.50,620.56 904.80,627.68 905.10,633.24 905.40,637.35 905.70,640.25 906.00,642.20 906.30,643.44 906.60,644.19 906.90,644.62 907.20,644.85 907.50,644.95 907.80,644.99 908.10,644.99 908.40,644.96 908.70,644.92 909.00,644.87 909.30,644.80 909.60,644.72 909.90,644.62 910.20,644.52 910.50,644.43 910.80,644.34 911.10,644.27 911.40,644.24 911.70,644.23 912.00,644.26 912.30,644.31 912.60,644.36 912.90,644.41 913.20,644.44 913.50,644.44 913.80,644.41 914.10,644.36 914.40,644.29 914.70,644.24 915.00,644.20 915.30,644.19 915.60,644.23 915.90,644.30 916.20,644.40 916.50,644.52 916.80,644.65 917.10,644.77 917.40,644.88 917.70,644.96 918.00,645.01 918.30,645.04 919.20,645.03 919.50,645.01 919.80,644.98 920.10,644.96 920.40,644.94 921.60,644.88 921.90,644.86 922.20,644.81 922.50,644.73 922.80,644.59 923.10,644.38 923.40,644.07 923.70,643.65 924.00,643.10 924.30,642.45 924.60,641.71 924.90,640.92 925.20,640.16 925.50,639.48 925.80,638.96 926.10,638.65 926.40,638.59 926.70,638.76 927.00,639.14 927.30,639.66 927.60,640.24 927.90,640.78 928.20,641.23 928.50,641.52 928.80,641.63 929.10,641.58 929.40,641.40 929.70,641.17 930.00,640.95 930.30,640.80 930.60,640.76 930.90,640.83 931.20,641.01 931.50,641.22 931.80,641.42 932.10,641.52 932.40,641.46 932.70,641.21 933.00,640.74 933.30,640.08 933.60,639.29 933.90,638.45 934.20,637.65 934.50,637.01 934.80,636.60 935.10,636.48 935.40,636.67 935.70,637.15 936.00,637.83 936.30,638.63 936.60,639.44 936.90,640.14 937.20,640.66 937.50,640.95 937.80,641.00 938.10,640.82 938.40,640.49 938.70,640.09 939.00,639.69 939.30,639.36 939.60,639.14 939.90,639.05 940.20,639.05 940.50,639.09 940.80,639.13 941.10,639.12 941.40,639.05 941.70,638.92 942.00,638.78 942.30,638.69 942.60,638.68 942.90,638.82 943.20,639.10 943.50,639.51 943.80,640.01 944.10,640.51 944.40,640.95 944.70,641.26 945.00,641.38 945.30,641.28 945.60,640.99 945.90,640.53 946.20,639.98 946.50,639.42 946.80,638.94 947.10,638.61 947.40,638.50 947.70,638.64 948.00,639.00 948.30,639.55 948.60,640.24 948.90,640.98 949.20,641.71 949.50,642.36 949.80,642.89 950.10,643.26 950.40,643.47 950.70,643.50 951.00,643.37 951.30,643.09 951.60,642.68 951.90,642.17 952.20,641.60 952.50,641.01 952.80,640.45 953.10,639.99 953.40,639.65 953.70,639.47 954.00,639.48 954.30,639.66 954.60,640.00 954.90,640.45 955.20,640.97 955.50,641.51 955.80,642.01 956.10,642.44 956.40,642.77 956.70,642.98 957.00,643.06 957.30,643.04 957.60,642.92 957.90,642.75 958.20,642.54 958.50,642.35 958.80,642.19 959.10,642.10 959.40,642.10 959.70,642.19 960.00,642.38 960.30,642.64 960.60,642.96 960.90,643.31 961.20,643.67 961.50,644.00 961.80,644.30 962.10,644.55 962.40,644.75 962.70,644.90 963.00,645.00 963.30,645.06 963.60,645.08 963.90,645.07 964.20,645.03 964.50,644.97 964.80,644.89 965.10,644.81 965.40,644.72 965.70,644.64 966.00,644.57 966.30,644.52 966.60,644.50 966.90,644.51 967.20,644.54 967.50,644.59 967.80,644.67 968.10,644.75 968.40,644.84 968.70,644.92 969.00,645.00 969.30,645.06 969.60,645.11 969.90,645.14 970.50,645.14 970.80,645.12 971.10,645.08 971.40,645.03 971.70,644.98 972.00,644.92 972.30,644.86 972.60,644.81 972.90,644.77 973.20,644.73 974.10,644.73 974.40,644.76 974.70,644.80 975.00,644.85 975.30,644.89 975.60,644.93 975.90,644.97 976.20,644.99 977.10,644.99 977.40,644.97 977.70,644.94 978.00,644.89 978.30,644.84 978.60,644.79 978.90,644.73 979.20,644.67 979.50,644.61 979.80,644.55 980.10,644.49 980.40,644.44 980.70,644.40 981.00,644.37 981.90,644.37 982.20,644.41 982.50,644.46 982.80,644.53 983.10,644.61 983.40,644.70 983.70,644.79 984.00,644.88 984.30,644.95 984.60,645.02 984.90,645.08 985.20,645.12 985.50,645.16 985.80,645.18 987.00,645.16 987.30,645.13 987.60,645.10 987.90,645.06 988.20,645.01 988.50,644.95 988.80,644.88 989.10,644.80 989.40,644.72 989.70,644.63 990.00,644.54 990.30,644.44 990.60,644.34 990.90,644.25 991.20,644.16 991.50,644.07 991.80,643.99 992.10,643.93 992.40,643.87 992.70,643.82 993.00,643.79 993.30,643.76 994.50,643.77 994.80,643.80 995.10,643.84 995.40,643.88 995.70,643.94 996.00,644.00 996.30,644.07 996.60,644.15 996.90,644.23 997.20,644.32 997.50,644.40 997.80,644.47 998.10,644.54 998.40,644.59 998.70,644.63 999.00,644.66 999.90,644.65 1000.20,644.62 1000.50,644.58 1000.80,644.54 1001.10,644.50 1001.40,644.46 1001.70,644.43 1002.00,644.41 1003.20,644.42 1003.50,644.45 1003.80,644.48 1004.10,644.52 1004.40,644.57 1004.70,644.62 1005.00,644.67 1005.30,644.71 1005.60,644.76 1005.90,644.80 1006.20,644.84 1006.50,644.88 1006.80,644.92 1007.10,644.96 1007.40,645.00 1007.70,645.03 1008.00,645.07 1008.30,645.11 1008.60,645.14 1008.90,645.17 1009.20,645.19 1010.10,645.22 1010.40,645.19 1010.70,645.13 1011.00,645.00 1011.30,644.79 1011.60,644.45 1011.90,643.93 1012.20,643.16 1012.50,642.10 1012.80,640.68 1013.10,638.89 1013.40,636.77 1013.70,634.38 1014.00,631.87 1014.30,629.43 1014.60,627.28 1014.90,625.64 1015.20,624.69 1015.50,624.54 1015.80,625.20 1016.10,626.60 1016.40,628.58 1016.70,630.91 1017.00,633.39 1017.30,635.79 1017.60,637.95 1017.90,639.75 1018.20,641.11 1018.50,642.01 1018.80,642.44 1019.10,642.42 1019.40,641.94 1019.70,641.03 1020.00,639.72 1020.30,638.06 1020.60,636.15 1020.90,634.12 1021.20,632.13 1021.50,630.38 1021.80,629.05 1022.10,628.28 1022.40,628.17 1022.70,628.74 1023.00,629.91 1023.30,631.55 1023.60,633.50 1023.90,635.57 1024.20,637.59 1024.50,639.43 1024.80,641.00 1025.10,642.27 1025.40,643.24 1025.70,643.95 1026.00,644.43 1026.30,644.73 1026.60,644.90 1026.90,644.97 1027.20,644.95 1027.50,644.88 1027.80,644.76 1028.10,644.60 1028.40,644.42 1028.70,644.22 1029.00,644.03 1029.30,643.86 1029.60,643.72 1029.90,643.65 1030.20,643.63 1030.50,643.66 1030.80,643.75 1031.10,643.86 1031.40,643.98 1031.70,644.09 1032.00,644.16 1032.30,644.19 1032.60,644.15 1032.90,644.07 1033.20,643.95 1033.50,643.81 1033.80,643.67 1034.10,643.56 1034.40,643.50 1034.70,643.50 1035.00,643.57 1035.30,643.69 1035.60,643.87 1035.90,644.07 1036.20,644.28 1036.50,644.49 1036.80,644.67 1037.10,644.82 1037.40,644.93 1037.70,644.98 1038.00,644.97 1038.30,644.89 1038.60,644.74 1038.90,644.48 1039.20,644.11 1039.50,643.62 1039.80,643.01 1040.10,642.29 1040.40,641.51 1040.70,640.70 1041.00,639.93 1041.30,639.29 1041.60,638.83 1041.90,638.61 1042.20,638.66 1042.50,638.96 1042.80,639.49 1043.10,640.18 1043.40,640.96 1043.70,641.77 1044.00,642.54 1044.30,643.22 1044.60,643.78 1044.90,644.22 1045.20,644.53 1045.50,644.71 1045.80,644.79 1046.10,644.77 1046.40,644.65 1046.70,644.45 1047.00,644.16 1047.30,643.81 1047.60,643.40 1047.90,642.97 1048.20,642.55 1048.50,642.18 1048.80,641.89 1049.10,641.73 1049.40,641.71 1049.70,641.83 1050.00,642.07 1050.30,642.42 1050.60,642.83 1050.90,643.26 1051.20,643.69 1051.50,644.07 1051.80,644.40 1052.10,644.67 1052.40,644.87 1052.70,645.02 1053.00,645.13 1053.30,645.20 1053.60,645.24 1053.90,645.27 1060.80,645.20 1061.10,645.18 1061.40,645.15 1061.70,645.12 1062.00,645.09 1062.30,645.06 1062.60,645.02 1062.90,644.98 1063.20,644.93 1063.50,644.88 1063.80,644.83 1064.10,644.78 1064.40,644.73 1064.70,644.68 1065.00,644.63 1065.30,644.59 1065.60,644.56 1066.50,644.57 1066.80,644.60 1067.10,644.65 1067.40,644.71 1067.70,644.78 1068.00,644.85 1068.30,644.92 1068.60,644.98 1068.90,645.04 1069.20,645.09 1069.50,645.13 1069.80,645.16 1070.10,645.19 1070.40,645.22 1076.10,645.24 1076.40,645.22 1076.70,645.19 1077.00,645.16 1077.30,645.13 1077.60,645.09 1077.90,645.05 1078.20,645.01 1078.50,644.98 1078.80,644.95 1079.10,644.92 1080.90,644.84 1081.20,644.82 1081.50,644.79 1081.80,644.76 1082.10,644.73 1082.40,644.70 1082.70,644.67 1083.00,644.64 1083.30,644.62 1084.80,644.62 1085.10,644.65 1085.40,644.68 1085.70,644.72 1086.00,644.76 1086.30,644.80 1086.60,644.84 1086.90,644.89 1087.20,644.93 1087.50,644.97 1087.80,645.01 1088.10,645.04 1088.40,645.06 1089.30,645.07 1089.60,645.05 1089.90,645.01 1090.20,644.95 1090.50,644.87 1090.80,644.77 1091.10,644.66 1091.40,644.52 1091.70,644.39 1092.00,644.25 1092.30,644.11 1092.60,644.00 1092.90,643.92 1093.20,643.86 1093.80,643.87 1094.10,643.92 1094.40,644.00 1094.70,644.11 1095.00,644.22 1095.30,644.35 1095.60,644.47 1095.90,644.59 1096.20,644.70 1096.50,644.81 1096.80,644.90 1097.10,644.98 1097.40,645.05 1097.70,645.10 1098.00,645.15 1098.30,645.19 1098.60,645.22 1098.90,645.24 1103.40,645.23 1103.70,645.21 1104.00,645.18 1104.30,645.15 1104.60,645.11 1104.90,645.07 1105.20,645.01 1105.50,644.95 1105.80,644.89 1106.10,644.82 1106.40,644.75 1106.70,644.67 1107.00,644.60 1107.30,644.54 1107.60,644.48 1107.90,644.43 1108.20,644.38 1108.50,644.32 1108.80,644.24 1109.10,644.11 1109.40,643.89 1109.70,643.53 1110.00,642.97 1110.30,642.10 1110.60,640.85 1110.90,639.10 1111.20,636.77 1111.50,633.82 1111.80,630.24 1112.10,626.13 1112.40,621.65 1112.70,617.08 1113.00,612.73 1113.30,608.97 1113.60,606.14 1113.90,604.52 1114.20,604.28 1114.50,605.44 1114.80,607.88 1115.10,611.35 1115.40,615.53 1115.70,620.06 1116.00,624.59 1116.30,628.82 1116.60,632.54 1116.90,635.62 1117.20,637.98 1117.50,639.63 1117.80,640.56 1118.10,640.80 1118.40,640.35 1118.70,639.19 1119.00,637.32 1119.30,634.73 1119.60,631.44 1119.90,627.55 1120.20,623.21 1120.50,618.67 1120.80,614.24 1121.10,610.29 1121.40,607.16 1121.70,605.17 1122.00,604.51 1122.30,605.25 1122.60,607.32 1122.90,610.51 1123.20,614.51 1123.50,618.97 1123.80,623.53 1124.10,627.89 1124.40,631.81 1124.70,635.16 1125.00,637.88 1125.30,639.99 1125.60,641.56 1125.90,642.67 1126.20,643.42 1126.50,643.88 1126.80,644.12 1127.10,644.15 1127.40,644.00 1127.70,643.66 1128.00,643.09 1128.30,642.27 1128.60,641.19 1128.90,639.83 1129.20,638.23 1129.50,636.45 1129.80,634.59 1130.10,632.77 1130.40,631.13 1130.70,629.83 1131.00,628.99 1131.30,628.70 1131.60,628.97 1131.90,629.76 1132.20,631.00 1132.50,632.52 1132.80,634.15 1133.10,635.72 1133.40,637.06 1133.70,638.00 1134.00,638.44 1134.30,638.30 1134.60,637.55 1134.90,636.21 1135.20,634.35 1135.50,632.09 1135.80,629.61 1136.10,627.12 1136.40,624.86 1136.70,623.06 1137.00,621.90 1137.30,621.51 1137.60,621.94 1137.90,623.14 1138.20,624.99 1138.50,627.30 1138.80,629.86 1139.10,632.43 1139.40,634.82 1139.70,636.85 1140.00,638.42 1140.30,639.45 1140.60,639.90 1140.90,639.80 1141.20,639.17 1141.50,638.07 1141.80,636.62 1142.10,634.92 1142.40,633.13 1142.70,631.41 1143.00,629.92 1143.30,628.82 1143.60,628.23 1143.90,628.20 1144.20,628.75 1144.50,629.83 1144.80,631.33 1145.10,633.12 1145.40,635.03 1145.70,636.94 1146.00,638.71 1146.30,640.26 1146.60,641.54 1146.90,642.51 1147.20,643.19 1147.50,643.57 1147.80,643.66 1148.10,643.49 1148.40,643.04 1148.70,642.33 1149.00,641.38 1149.30,640.20 1149.60,638.85 1149.90,637.40 1150.20,635.95 1150.50,634.60 1150.80,633.48 1151.10,632.69 1151.40,632.31 1151.70,632.38 1152.00,632.89 1152.30,633.79 1152.60,634.99 1152.90,636.37 1153.20,637.82 1153.50,639.24 1153.80,640.54 1154.10,641.66 1154.40,642.59 1154.70,643.31 1155.00,643.84 1155.30,644.20 1155.60,644.43 1155.90,644.55 1156.20,644.58 1156.50,644.52 1156.80,644.39 1157.10,644.17 1157.40,643.85 1157.70,643.44 1158.00,642.92 1158.30,642.32 1158.60,641.64 1158.90,640.94 1159.20,640.25 1159.50,639.64 1159.80,639.15 1160.10,638.84 1160.40,638.75 1160.70,638.87 1161.00,639.21 1161.30,639.73 1161.60,640.38 1161.90,641.10 1162.20,641.84 1162.50,642.54 1162.80,643.17 1163.10,643.70 1163.40,644.12 1163.70,644.41 1164.00,644.59 1164.30,644.63 1164.60,644.52 1164.90,644.26 1165.20,643.79 1165.50,643.09 1165.80,642.11 1166.10,640.80 1166.40,639.15 1166.70,637.15 1167.00,634.86 1167.30,632.36 1167.60,629.77 1167.90,627.27 1168.20,625.05 1168.50,623.29 1168.80,622.16 1169.10,621.74 1169.40,622.10 1169.70,623.18 1170.00,624.89 1170.30,627.07 1170.60,629.53 1170.90,632.08 1171.20,634.57 1171.50,636.85 1171.80,638.84 1172.10,640.50 1172.40,641.83 1172.70,642.86 1173.00,643.62 1173.30,644.16 1173.60,644.53 1173.90,644.79 1174.20,644.95 1174.50,645.05 1174.80,645.09 1175.10,645.09 1175.40,645.04 1175.70,644.91 1176.00,644.69 1176.30,644.34 1176.60,643.81 1176.90,643.03 1177.20,641.95 1177.50,640.52 1177.80,638.68 1178.10,636.44 1178.40,633.82 1178.70,630.91 1179.00,627.84 1179.30,624.81 1179.60,622.02 1179.90,619.72 1180.20,618.10 1180.50,617.31 1180.80,617.43 1181.10,618.44 1181.40,620.26 1181.70,622.71 1182.00,625.57 1182.30,628.63 1182.60,631.66 1182.90,634.50 1183.20,637.02 1183.50,639.16 1183.80,640.89 1184.10,642.23 1184.40,643.23 1184.70,643.95 1185.00,644.44 1185.30,644.77 1185.60,644.99 1185.90,645.12 1186.20,645.19 1186.50,645.23 1187.10,645.22 1187.40,645.17 1187.70,645.09 1188.00,644.95 1188.30,644.73 1188.60,644.40 1188.90,643.94 1189.20,643.31 1189.50,642.48 1189.80,641.46 1190.10,640.24 1190.40,638.86 1190.70,637.39 1191.00,635.93 1191.30,634.57 1191.60,633.43 1191.90,632.63 1192.20,632.24 1192.50,632.29 1192.80,632.78 1193.10,633.65 1193.40,634.82 1193.70,636.18 1194.00,637.62 1194.30,639.02 1194.60,640.31 1194.90,641.43 1195.20,642.35 1195.50,643.09 1195.80,643.64 1196.10,644.04 1196.40,644.33 1196.70,644.52 1197.00,644.65 1197.30,644.74 1197.60,644.79 1197.90,644.82 1201.20,644.79 1201.50,644.81 1201.80,644.83 1202.10,644.85 1203.90,644.95 1204.20,644.97 1204.50,645.00 1204.80,645.03 1205.10,645.06 1205.40,645.10 1205.70,645.14 1206.00,645.17 1206.30,645.20 1206.60,645.23 1206.90,645.25 1215.00,645.23 1215.30,645.20 1215.60,645.18 1215.90,645.15 1216.20,645.11 1216.50,645.07 1216.80,645.03 1217.10,644.98 1217.40,644.94 1217.70,644.89 1218.00,644.84 1218.30,644.80 1218.60,644.76 1218.90,644.73 1219.20,644.70 1219.50,644.67 1219.80,644.65 1220.10,644.63 1220.40,644.60 1220.70,644.55 1221.00,644.45 1221.30,644.27 1221.60,643.93 1221.90,643.34 1222.20,642.36 1222.50,640.80 1222.80,638.43 1223.10,635.01 1223.40,630.28 1223.70,624.05 1224.00,616.22 1224.30,606.90 1224.60,596.40 1224.90,585.28 1225.20,574.29 1225.50,564.36 1225.80,556.41 1226.10,551.26 1226.40,549.45 1226.70,551.17 1227.00,556.24 1227.30,564.11 1227.60,573.98 1227.90,584.91 1228.20,596.00 1228.50,606.46 1228.80,615.74 1229.10,623.50 1229.40,629.62 1229.70,634.13 1230.00,637.15 1230.30,638.84 1230.60,639.32 1230.90,638.65 1231.20,636.82 1231.50,633.80 1231.80,629.51 1232.10,623.92 1232.40,617.09 1232.70,609.20 1233.00,600.61 1233.30,591.81 1233.60,583.45 1233.90,576.23 1234.20,570.80 1234.50,567.70 1234.80,567.25 1235.10,569.50 1235.40,574.21 1235.70,580.92 1236.00,589.00 1236.30,597.74 1236.60,606.49 1236.90,614.69 1237.20,621.94 1237.50,628.03 1237.80,632.88 1238.10,636.55 1238.40,639.17 1238.70,640.89 1239.00,641.88 1239.30,642.27 1239.60,642.14 1239.90,641.54 1240.20,640.46 1240.50,638.88 1240.80,636.74 1241.10,634.00 1241.40,630.62 1241.70,626.60 1242.00,621.98 1242.30,616.85 1242.60,611.38 1242.90,605.77 1243.20,600.30 1243.50,595.24 1243.80,590.91 1244.10,587.55 1244.40,585.40 1244.70,584.59 1245.00,585.14 1245.30,587.00 1245.60,589.97 1245.90,593.80 1246.20,598.15 1246.50,602.65 1246.80,606.93 1247.10,610.63 1247.40,613.43 1247.70,615.12 1248.00,615.52 1248.30,614.58 1248.60,612.33 1248.90,608.90 1249.20,604.53 1249.50,599.51 1249.80,594.20 1250.10,589.00 1250.40,584.32 1250.70,580.53 1251.00,577.95 1251.30,576.80 1251.60,577.19 1251.90,579.12 1252.20,582.49 1252.50,587.06 1252.80,592.55 1253.10,598.64 1253.40,604.98 1253.70,611.27 1254.00,617.22 1254.30,622.62 1254.60,627.28 1254.90,631.05 1255.20,633.74 1255.50,635.09 1255.80,634.72 1256.10,632.08 1256.40,626.46 1256.70,617.05 1257.00,603.17 1257.30,584.49 1257.60,561.35 1257.90,534.94 1258.20,507.41 1258.50,481.57 1258.80,460.37 1259.10,446.20 1259.40,440.21 1259.70,441.85 1260.00,448.96 1260.30,458.22 1260.60,466.07 1260.90,469.68 1261.20,467.79 1261.50,461.05 1261.80,451.84 1262.10,443.57 1262.40,439.77 1262.70,443.05 1263.00,454.55 1263.30,473.65 1263.60,498.33 1263.90,525.73 1264.20,552.96 1264.50,577.63 1264.80,598.25 1265.10,614.26 1265.40,625.87 1265.70,633.76 1266.00,638.79 1266.30,641.80 1266.60,643.50 1266.90,644.39 1267.20,644.81 1267.50,644.96 1267.80,644.93 1268.10,644.74 1268.40,644.36 1268.70,643.70 1269.00,642.63 1269.30,640.98 1269.60,638.52 1269.90,634.98 1270.20,630.07 1270.50,623.51 1270.80,615.08 1271.10,604.67 1271.40,592.36 1271.70,578.44 1272.00,563.43 1272.30,548.14 1272.60,533.52 1272.90,520.65 1273.20,510.56 1273.50,504.11 1273.80,501.90 1274.10,504.11 1274.40,510.55 1274.70,520.64 1275.00,533.51 1275.30,548.12 1275.60,563.41 1275.90,578.40 1276.20,592.31 1276.50,604.60 1276.80,614.97 1277.10,623.37 1277.40,629.87 1277.70,634.71 1278.00,638.16 1278.30,640.49 1278.60,641.95 1278.90,642.74 1279.20,643.01 1279.50,642.85 1279.80,642.29 1280.10,641.33 1280.40,639.92 1280.70,638.00 1281.00,635.49 1281.30,632.34 1281.60,628.49 1281.90,623.94 1282.20,618.72 1282.50,612.93 1282.80,606.73 1283.10,600.35 1283.40,594.06 1283.70,588.18 1284.00,583.02 1284.30,578.90 1284.60,576.04 1284.90,574.63 1285.20,574.73 1285.50,576.28 1285.80,579.13 1286.10,583.02 1286.40,587.59 1286.70,592.45 1287.00,597.17 1287.30,601.35 1287.60,604.62 1287.90,606.68 1288.20,607.31 1288.50,606.41 1288.80,603.99 1289.10,600.15 1289.40,595.14 1289.70,589.27 1290.00,582.95 1290.30,576.64 1290.60,570.80 1290.90,565.89 1291.20,562.30 1291.50,560.33 1291.80,560.14 1292.10,561.81 1292.40,565.22 1292.70,570.17 1293.00,576.35 1293.30,583.40 1293.60,590.90 1293.90,598.46 1294.20,605.71 1294.50,612.34 1294.80,618.09 1295.10,622.77 1295.40,626.26 1295.70,628.46 1296.00,629.35 1296.30,628.90 1296.60,627.16 1296.90,624.18 1297.20,620.07 1297.50,615.00 1297.80,609.20 1298.10,602.95 1298.40,596.60 1298.70,590.53 1299.00,585.13 1299.30,580.78 1299.60,577.79 1299.90,576.39 1300.20,576.69 1300.50,578.66 1300.80,582.16 1301.10,586.95 1301.40,592.70 1301.70,599.04 1302.00,605.59 1302.30,612.03 1302.60,618.05 1302.90,623.43 1303.20,628.02 1303.50,631.72 1303.80,634.50 1304.10,636.34 1304.40,637.27 1304.70,637.29 1305.00,636.45 1305.30,634.77 1305.60,632.31 1305.90,629.14 1306.20,625.38 1306.50,621.21 1306.80,616.83 1307.10,612.50 1307.40,608.51 1307.70,605.15 1308.00,602.67 1308.30,601.27 1308.60,601.06 1308.90,602.07 1309.20,604.22 1309.50,607.32 1309.80,611.15 1310.10,615.43 1310.40,619.88 1310.70,624.26 1311.00,628.35 1311.30,632.01 1311.60,635.15 1311.90,637.74 1312.20,639.79 1312.50,641.36 1312.80,642.50 1313.10,643.27 1313.40,643.74 1313.70,643.95 1314.00,643.92 1314.30,643.66 1314.60,643.15 1314.90,642.39 1315.20,641.35 1315.50,640.03 1315.80,638.46 1316.10,636.67 1316.40,634.77 1316.70,632.86 1317.00,631.11 1317.30,629.65 1317.60,628.63 1317.90,628.14 1318.20,628.25 1318.50,628.94 1318.80,630.14 1319.10,631.73 1319.40,633.57 1319.70,635.50 1320.00,637.39 1320.30,639.12 1320.60,640.63 1320.90,641.88 1321.20,642.86 1321.50,643.60 1321.80,644.13 1322.10,644.50 1322.40,644.75 1322.70,644.90 1323.00,645.00 1323.30,645.06 1323.60,645.10 1323.90,645.12 1337.40,645.23 1337.70,645.21 1338.00,645.18 1338.30,645.16 1338.60,645.13 1338.90,645.09 1339.20,645.06 1339.50,645.03 1339.80,644.99 1340.10,644.96 1340.40,644.93 1340.70,644.91 1342.50,644.90 1342.80,644.92 1343.10,644.94 1343.40,644.98 1343.70,645.01 1344.00,645.04 1344.30,645.08 1344.60,645.11 1344.90,645.14 1345.20,645.17 1345.50,645.19 1345.80,645.22 1353.60,645.17 1353.90,645.15 1355.40,645.06 1355.70,645.03 1356.00,645.00 1356.30,644.94 1356.60,644.83 1356.90,644.64 1357.20,644.30 1357.50,643.74 1357.80,642.81 1358.10,641.36 1358.40,639.13 1358.70,635.86 1359.00,631.22 1359.30,624.87 1359.60,616.50 1359.90,605.90 1360.20,593.00 1360.50,577.97 1360.80,561.24 1361.10,543.54 1361.40,525.87 1361.70,509.40 1362.00,495.38 1362.30,484.97 1362.60,479.08 1362.90,478.25 1363.20,482.56 1363.50,491.60 1363.80,504.59 1364.10,520.43 1364.40,537.88 1364.70,555.72 1365.00,572.89 1365.30,588.55 1365.60,602.20 1365.90,613.56 1366.20,622.64 1366.50,629.62 1366.80,634.78 1367.10,638.46 1367.40,640.99 1367.70,642.66 1368.00,643.73 1368.30,644.39 1368.60,644.77 1368.90,644.97 1369.20,645.04 1369.50,644.99 1369.80,644.80 1370.10,644.41 1370.40,643.69 1370.70,642.45 1371.00,640.41 1371.30,637.19 1371.60,632.28 1371.90,625.13 1372.20,615.10 1372.50,601.65 1372.80,584.38 1373.10,563.19 1373.40,538.45 1373.70,511.04 1374.00,482.43 1374.30,454.53 1374.60,429.57 1374.90,409.76 1375.20,397.01 1375.50,392.60 1375.80,396.99 1376.10,409.72 1376.40,429.51 1376.70,454.46 1377.00,482.34 1377.30,510.94 1377.60,538.34 1377.90,563.08 1378.20,584.27 1378.50,601.54 1378.80,615.00 1379.10,625.03 1379.40,632.19 1379.70,637.10 1380.00,640.32 1380.30,642.35 1380.60,643.54 1380.90,644.17 1381.20,644.40 1381.50,644.30 1381.80,643.89 1382.10,643.12 1382.40,641.93 1382.70,640.23 1383.00,637.94 1383.30,635.02 1383.60,631.44 1383.90,627.24 1384.20,622.43 1384.50,617.05 1384.80,611.09 1385.10,604.47 1385.40,597.13 1385.70,588.96 1386.00,579.94 1386.30,570.17 1386.60,559.89 1386.90,549.52 1387.20,539.59 1387.50,530.74 1387.80,523.59 1388.10,518.69 1388.40,516.45 1388.70,517.07 1389.00,520.51 1389.30,526.53 1389.60,534.66 1389.90,544.28 1390.20,554.68 1390.50,565.08 1390.80,574.76 1391.10,583.02 1391.40,589.29 1391.70,593.12 1392.00,594.19 1392.30,592.37 1392.60,587.68 1392.90,580.29 1393.20,570.56 1393.50,559.03 1393.80,546.35 1394.10,533.31 1394.40,520.77 1394.70,509.60 1395.00,500.58 1395.30,494.41 1395.60,491.54 1395.90,492.22 1396.20,496.42 1396.50,503.86 1396.80,514.02 1397.10,526.24 1397.40,539.76 1397.70,553.78 1398.00,567.54 1398.30,580.38 1398.60,591.75 1398.90,601.24 1399.20,608.55 1399.50,613.50 1399.80,615.99 1400.10,616.01 1400.40,613.58 1400.70,608.83 1401.00,601.93 1401.30,593.16 1401.60,582.89 1401.90,571.63 1402.20,559.96 1402.50,548.59 1402.80,538.21 1403.10,529.54 1403.40,523.18 1403.70,519.62 1404.00,519.12 1404.30,521.72 1404.60,527.24 1404.90,535.27 1405.20,545.25 1405.50,556.52 1405.80,568.38 1406.10,580.17 1406.40,591.31 1406.70,601.32 1407.00,609.87 1407.30,616.75 1407.60,621.84 1407.90,625.12 1408.20,626.65 1408.50,626.52 1408.80,624.85 1409.10,621.82 1409.40,617.64 1409.70,612.54 1410.00,606.84 1410.30,600.87 1410.60,595.00 1410.90,589.63 1411.20,585.14 1411.50,581.84 1411.80,579.98 1412.00,579.62" fill="none" stroke="#444444" stroke-width="1.9" stroke-linejoin="round"/>
<line x1="99.20" y1="633.89" x2="103.00" y2="633.89" stroke="#707070" stroke-width="1.5" />
<line x1="1413.00" y1="633.89" x2="1409.20" y2="633.89" stroke="#707070" stroke-width="1.5" />
<line x1="99.20" y1="616.78" x2="103.00" y2="616.78" stroke="#707070" stroke-width="1.5" />
<line x1="1413.00" y1="616.78" x2="1409.20" y2="616.78" stroke="#707070" stroke-width="1.5" />
<line x1="99.20" y1="599.67" x2="103.00" y2="599.67" stroke="#707070" stroke-width="1.5" />
<line x1="1413.00" y1="599.67" x2="1409.20" y2="599.67" stroke="#707070" stroke-width="1.5" />
<line x1="99.20" y1="582.56" x2="103.00" y2="582.56" stroke="#707070" stroke-width="1.5" />
<line x1="1413.00" y1="582.56" x2="1409.20" y2="582.56" stroke="#707070" stroke-width="1.5" />
<line x1="99.20" y1="548.34" x2="103.00" y2="548.34" stroke="#707070" stroke-width="1.5" />
<line x1="1413.00" y1="548.34" x2="1409.20" y2="548.34" stroke="#707070" stroke-width="1.5" />
<line x1="99.20" y1="531.23" x2="103.00" y2="531.23" stroke="#707070" stroke-width="1.5" />
<line x1="1413.00" y1="531.23" x2="1409.20" y2="531.23" stroke="#707070" stroke-width="1.5" />
<line x1="99.20" y1="514.12" x2="103.00" y2="514.12" stroke="#707070" stroke-width="1.5" />
<line x1="1413.00" y1="514.12" x2="1409.20" y2="514.12" stroke="#707070" stroke-width="1.5" />
<line x1="99.20" y1="497.01" x2="103.00" y2="497.01" stroke="#707070" stroke-width="1.5" />
<line x1="1413.00" y1="497.01" x2="1409.20" y2="497.01" stroke="#707070" stroke-width="1.5" />
<line x1="99.20" y1="462.79" x2="103.00" y2="462.79" stroke="#707070" stroke-width="1.5" />
<line x1="1413.00" y1="462.79" x2="1409.20" y2="462.79" stroke="#707070" stroke-width="1.5" />
<line x1="99.20" y1="445.68" x2="103.00" y2="445.68" stroke="#707070" stroke-width="1.5" />
<line x1="1413.00" y1="445.68" x2="1409.20" y2="445.68" stroke="#707070" stroke-width="1.5" />
<line x1="99.20" y1="428.57" x2="103.00" y2="428.57" stroke="#707070" stroke-width="1.5" />
<line x1="1413.00" y1="428.57" x2="1409.20" y2="428.57" stroke="#707070" stroke-width="1.5" />
<line x1="99.20" y1="411.46" x2="103.00" y2="411.46" stroke="#707070" stroke-width="1.5" />
<line x1="1413.00" y1="411.46" x2="1409.20" y2="411.46" stroke="#707070" stroke-width="1.5" />
<line x1="99.20" y1="377.24" x2="103.00" y2="377.24" stroke="#707070" stroke-width="1.5" />
<line x1="1413.00" y1="377.24" x2="1409.20" y2="377.24" stroke="#707070" stroke-width="1.5" />
<line x1="99.20" y1="360.13" x2="103.00" y2="360.13" stroke="#707070" stroke-width="1.5" />
<line x1="1413.00" y1="360.13" x2="1409.20" y2="360.13" stroke="#707070" stroke-width="1.5" />
<line x1="99.20" y1="343.02" x2="103.00" y2="343.02" stroke="#707070" stroke-width="1.5" />
<line x1="1413.00" y1="343.02" x2="1409.20" y2="343.02" stroke="#707070" stroke-width="1.5" />
<line x1="99.20" y1="325.91" x2="103.00" y2="325.91" stroke="#707070" stroke-width="1.5" />
<line x1="1413.00" y1="325.91" x2="1409.20" y2="325.91" stroke="#707070" stroke-width="1.5" />
<line x1="99.20" y1="291.69" x2="103.00" y2="291.69" stroke="#707070" stroke-width="1.5" />
<line x1="1413.00" y1="291.69" x2="1409.20" y2="291.69" stroke="#707070" stroke-width="1.5" />
<line x1="99.20" y1="274.58" x2="103.00" y2="274.58" stroke="#707070" stroke-width="1.5" />
<line x1="1413.00" y1="274.58" x2="1409.20" y2="274.58" stroke="#707070" stroke-width="1.5" />
<line x1="99.20" y1="257.47" x2="103.00" y2="257.47" stroke="#707070" stroke-width="1.5" />
<line x1="1413.00" y1="257.47" x2="1409.20" y2="257.47" stroke="#707070" stroke-width="1.5" />
<line x1="99.20" y1="240.36" x2="103.00" y2="240.36" stroke="#707070" stroke-width="1.5" />
<line x1="1413.00" y1="240.36" x2="1409.20" y2="240.36" stroke="#707070" stroke-width="1.5" />
<line x1="99.20" y1="206.14" x2="103.00" y2="206.14" stroke="#707070" stroke-width="1.5" />
<line x1="1413.00" y1="206.14" x2="1409.20" y2="206.14" stroke="#707070" stroke-width="1.5" />
<line x1="99.20" y1="189.03" x2="103.00" y2="189.03" stroke="#707070" stroke-width="1.5" />
<line x1="1413.00" y1="189.03" x2="1409.20" y2="189.03" stroke="#707070" stroke-width="1.5" />
<line x1="99.20" y1="171.92" x2="103.00" y2="171.92" stroke="#707070" stroke-width="1.5" />
<line x1="1413.00" y1="171.92" x2="1409.20" y2="171.92" stroke="#707070" stroke-width="1.5" />
<line x1="99.20" y1="154.81" x2="103.00" y2="154.81" stroke="#707070" stroke-width="1.5" />
<line x1="1413.00" y1="154.81" x2="1409.20" y2="154.81" stroke="#707070" stroke-width="1.5" />
<line x1="99.20" y1="565.45" x2="106.70" y2="565.45" stroke="#707070" stroke-width="1.6" />
<line x1="1413.00" y1="565.45" x2="1405.50" y2="565.45" stroke="#707070" stroke-width="1.6" />
<line x1="99.20" y1="479.90" x2="106.70" y2="479.90" stroke="#707070" stroke-width="1.6" />
<line x1="1413.00" y1="479.90" x2="1405.50" y2="479.90" stroke="#707070" stroke-width="1.6" />
<line x1="99.20" y1="394.35" x2="106.70" y2="394.35" stroke="#707070" stroke-width="1.6" />
<line x1="1413.00" y1="394.35" x2="1405.50" y2="394.35" stroke="#707070" stroke-width="1.6" />
<line x1="99.20" y1="308.80" x2="106.70" y2="308.80" stroke="#707070" stroke-width="1.6" />
<line x1="1413.00" y1="308.80" x2="1405.50" y2="308.80" stroke="#707070" stroke-width="1.6" />
<line x1="99.20" y1="223.25" x2="106.70" y2="223.25" stroke="#707070" stroke-width="1.6" />
<line x1="1413.00" y1="223.25" x2="1405.50" y2="223.25" stroke="#707070" stroke-width="1.6" />
<line x1="146.97" y1="137.70" x2="146.97" y2="144.20" stroke="#858585" stroke-width="1.9" />
<line x1="146.97" y1="651.00" x2="146.97" y2="644.50" stroke="#858585" stroke-width="1.9" />
<line x1="194.75" y1="137.70" x2="194.75" y2="144.20" stroke="#858585" stroke-width="1.9" />
<line x1="194.75" y1="651.00" x2="194.75" y2="644.50" stroke="#858585" stroke-width="1.9" />
<line x1="242.52" y1="137.70" x2="242.52" y2="144.20" stroke="#858585" stroke-width="1.9" />
<line x1="242.52" y1="651.00" x2="242.52" y2="644.50" stroke="#858585" stroke-width="1.9" />
<line x1="290.30" y1="137.70" x2="290.30" y2="144.20" stroke="#858585" stroke-width="1.9" />
<line x1="290.30" y1="651.00" x2="290.30" y2="644.50" stroke="#858585" stroke-width="1.9" />
<line x1="338.07" y1="137.70" x2="338.07" y2="150.70" stroke="#858585" stroke-width="1.9" />
<line x1="338.07" y1="651.00" x2="338.07" y2="638.00" stroke="#858585" stroke-width="1.9" />
<line x1="385.85" y1="137.70" x2="385.85" y2="144.20" stroke="#858585" stroke-width="1.9" />
<line x1="385.85" y1="651.00" x2="385.85" y2="644.50" stroke="#858585" stroke-width="1.9" />
<line x1="433.62" y1="137.70" x2="433.62" y2="144.20" stroke="#858585" stroke-width="1.9" />
<line x1="433.62" y1="651.00" x2="433.62" y2="644.50" stroke="#858585" stroke-width="1.9" />
<line x1="481.40" y1="137.70" x2="481.40" y2="144.20" stroke="#858585" stroke-width="1.9" />
<line x1="481.40" y1="651.00" x2="481.40" y2="644.50" stroke="#858585" stroke-width="1.9" />
<line x1="529.17" y1="137.70" x2="529.17" y2="144.20" stroke="#858585" stroke-width="1.9" />
<line x1="529.17" y1="651.00" x2="529.17" y2="644.50" stroke="#858585" stroke-width="1.9" />
<line x1="576.95" y1="137.70" x2="576.95" y2="150.70" stroke="#858585" stroke-width="1.9" />
<line x1="576.95" y1="651.00" x2="576.95" y2="638.00" stroke="#858585" stroke-width="1.9" />
<line x1="624.72" y1="137.70" x2="624.72" y2="144.20" stroke="#858585" stroke-width="1.9" />
<line x1="624.72" y1="651.00" x2="624.72" y2="644.50" stroke="#858585" stroke-width="1.9" />
<line x1="672.49" y1="137.70" x2="672.49" y2="144.20" stroke="#858585" stroke-width="1.9" />
<line x1="672.49" y1="651.00" x2="672.49" y2="644.50" stroke="#858585" stroke-width="1.9" />
<line x1="720.27" y1="137.70" x2="720.27" y2="144.20" stroke="#858585" stroke-width="1.9" />
<line x1="720.27" y1="651.00" x2="720.27" y2="644.50" stroke="#858585" stroke-width="1.9" />
<line x1="768.04" y1="137.70" x2="768.04" y2="144.20" stroke="#858585" stroke-width="1.9" />
<line x1="768.04" y1="651.00" x2="768.04" y2="644.50" stroke="#858585" stroke-width="1.9" />
<line x1="815.82" y1="137.70" x2="815.82" y2="150.70" stroke="#858585" stroke-width="1.9" />
<line x1="815.82" y1="651.00" x2="815.82" y2="638.00" stroke="#858585" stroke-width="1.9" />
<line x1="863.59" y1="137.70" x2="863.59" y2="144.20" stroke="#858585" stroke-width="1.9" />
<line x1="863.59" y1="651.00" x2="863.59" y2="644.50" stroke="#858585" stroke-width="1.9" />
<line x1="911.37" y1="137.70" x2="911.37" y2="144.20" stroke="#858585" stroke-width="1.9" />
<line x1="911.37" y1="651.00" x2="911.37" y2="644.50" stroke="#858585" stroke-width="1.9" />
<line x1="959.14" y1="137.70" x2="959.14" y2="144.20" stroke="#858585" stroke-width="1.9" />
<line x1="959.14" y1="651.00" x2="959.14" y2="644.50" stroke="#858585" stroke-width="1.9" />
<line x1="1006.92" y1="137.70" x2="1006.92" y2="144.20" stroke="#858585" stroke-width="1.9" />
<line x1="1006.92" y1="651.00" x2="1006.92" y2="644.50" stroke="#858585" stroke-width="1.9" />
<line x1="1054.69" y1="137.70" x2="1054.69" y2="150.70" stroke="#858585" stroke-width="1.9" />
<line x1="1054.69" y1="651.00" x2="1054.69" y2="638.00" stroke="#858585" stroke-width="1.9" />
<line x1="1102.47" y1="137.70" x2="1102.47" y2="144.20" stroke="#858585" stroke-width="1.9" />
<line x1="1102.47" y1="651.00" x2="1102.47" y2="644.50" stroke="#858585" stroke-width="1.9" />
<line x1="1150.24" y1="137.70" x2="1150.24" y2="144.20" stroke="#858585" stroke-width="1.9" />
<line x1="1150.24" y1="651.00" x2="1150.24" y2="644.50" stroke="#858585" stroke-width="1.9" />
<line x1="1198.01" y1="137.70" x2="1198.01" y2="144.20" stroke="#858585" stroke-width="1.9" />
<line x1="1198.01" y1="651.00" x2="1198.01" y2="644.50" stroke="#858585" stroke-width="1.9" />
<line x1="1245.79" y1="137.70" x2="1245.79" y2="144.20" stroke="#858585" stroke-width="1.9" />
<line x1="1245.79" y1="651.00" x2="1245.79" y2="644.50" stroke="#858585" stroke-width="1.9" />
<line x1="1293.56" y1="137.70" x2="1293.56" y2="150.70" stroke="#858585" stroke-width="1.9" />
<line x1="1293.56" y1="651.00" x2="1293.56" y2="638.00" stroke="#858585" stroke-width="1.9" />
<line x1="1341.34" y1="137.70" x2="1341.34" y2="144.20" stroke="#858585" stroke-width="1.9" />
<line x1="1341.34" y1="651.00" x2="1341.34" y2="644.50" stroke="#858585" stroke-width="1.9" />
<line x1="1389.11" y1="137.70" x2="1389.11" y2="144.20" stroke="#858585" stroke-width="1.9" />
<line x1="1389.11" y1="651.00" x2="1389.11" y2="644.50" stroke="#858585" stroke-width="1.9" />
<rect x="99.2" y="137.7" width="1313.80" height="513.30" fill="none" stroke="#707070" stroke-width="2.4"/>
<text id="t5" x="46.80 60.20 73.60 87.00" y="144.30" font-family="Liberation Sans" font-size="20.5" text-anchor="middle" fill="#222" stroke="#222" stroke-width="0.3">0.30</text>
<text id="t6" x="46.80 60.20 73.60 87.00" y="229.85" font-family="Liberation Sans" font-size="20.5" text-anchor="middle" fill="#222" stroke="#222" stroke-width="0.3">0.25</text>
<text id="t7" x="46.80 60.20 73.60 87.00" y="315.40" font-family="Liberation Sans" font-size="20.5" text-anchor="middle" fill="#222" stroke="#222" stroke-width="0.3">0.10</text>
<text id="t8" x="46.80 60.20 73.60 87.00" y="400.95" font-family="Liberation Sans" font-size="20.5" text-anchor="middle" fill="#222" stroke="#222" stroke-width="0.3">0.15</text>
<text id="t9" x="46.80 60.20 73.60 87.00" y="486.50" font-family="Liberation Sans" font-size="20.5" text-anchor="middle" fill="#222" stroke="#222" stroke-width="0.3">0.10</text>
<text id="t10" x="46.80 60.20 73.60 87.00" y="572.05" font-family="Liberation Sans" font-size="20.5" text-anchor="middle" fill="#222" stroke="#222" stroke-width="0.3">0.05</text>
<text id="t11" x="46.80 60.20 73.60 87.00" y="657.60" font-family="Liberation Sans" font-size="20.5" text-anchor="middle" fill="#222" stroke="#222" stroke-width="0.3">0.00</text>
<text x="0" y="0" font-family="Liberation Mono" font-size="25.5" text-anchor="middle" fill="#2a2a2a" stroke="none" textLength="228.4" lengthAdjust="spacingAndGlyphs" transform="translate(21.6,390.8) rotate(-90)">Intensity [kR]</text>
<text id="t12" x="158.60" y="573.70" font-family="Liberation Sans" font-size="24.5" text-anchor="start" fill="#1c1c1c" stroke="#1c1c1c" stroke-width="0.6" transform="matrix(0.9200 0 0 1.0000 12.27 0.00)" >O<tspan font-size="15" dy="8.5">2</tspan><tspan dy="-8.5"> (Herzberg)</tspan></text>
<path d="M110.50,591.20 L335.30,591.20 L335.30,605.00" fill="none" stroke="#8c8c8c" stroke-width="1.8" stroke-linejoin="round" stroke-linecap="butt" stroke-linejoin="miter"/>
<path d="M335.30,570.50 L335.30,557.30 L695.40,557.30" fill="none" stroke="#8c8c8c" stroke-width="1.8" stroke-linejoin="round" stroke-linecap="butt" stroke-linejoin="miter"/>
<text id="t13" x="496.70" y="539.10" font-family="Liberation Sans" font-size="24.5" text-anchor="start" fill="#1c1c1c" stroke="#1c1c1c" stroke-width="0.6" transform="matrix(0.9309 0 0 1.0000 32.77 0.00)" >NO<tspan font-size="15" dy="8.5">2</tspan></text>
<text id="t14" x="713.50" y="174.50" font-family="Liberation Sans" font-size="24.5" text-anchor="middle" fill="#1c1c1c" stroke="#1c1c1c" stroke-width="0.6" transform="matrix(1.0934 0 0 1.0000 -65.92 0.00)" >[O<tspan font-family="Liberation Serif">I</tspan>]</text>
<text id="t15" x="714.00" y="204.90" font-family="Liberation Sans" font-size="24.8" text-anchor="middle" fill="#1c1c1c" stroke="#1c1c1c" stroke-width="0.6" transform="matrix(0.9039 0 0 1.0000 68.58 0.00)" >557.7</text>
<text id="t16" x="792.30" y="524.00" font-family="Liberation Sans" font-size="24.5" text-anchor="middle" fill="#1c1c1c" stroke="#1c1c1c" stroke-width="0.6" transform="matrix(0.9918 0 0 1.0000 6.41 0.00)" >Na <tspan font-family="Liberation Serif">I</tspan> D</text>
<text id="t17" x="792.30" y="554.30" font-family="Liberation Sans" font-size="24.8" text-anchor="middle" fill="#1c1c1c" stroke="#1c1c1c" stroke-width="0.6" transform="matrix(0.8978 0 0 1.0000 81.33 0.00)" >589.3</text>
<text id="t18" x="887.30" y="327.50" font-family="Liberation Sans" font-size="24.5" text-anchor="middle" fill="#1c1c1c" stroke="#1c1c1c" stroke-width="0.6" transform="matrix(1.0993 0 0 1.0000 -88.18 0.00)" >[O<tspan font-family="Liberation Serif">I</tspan>]</text>
<text id="t19" x="886.80" y="357.30" font-family="Liberation Sans" font-size="24.5" text-anchor="middle" fill="#1c1c1c" stroke="#1c1c1c" stroke-width="0.6" transform="matrix(0.8915 0 0 1.0000 95.98 0.00)" >630.0 , 636.4</text>
<text id="t20" x="1150.00" y="221.20" font-family="Liberation Sans" font-size="24.0" text-anchor="middle" fill="#1c1c1c" stroke="#1c1c1c" stroke-width="0.6" transform="matrix(0.9583 0 0 1.0000 48.50 0.00)" >OH (Meinel)</text>
<path d="M940.90,261.40 L940.90,242.00 L1380.30,242.00 L1380.30,260.30" fill="none" stroke="#888888" stroke-width="2.2" stroke-linejoin="round" stroke-linecap="butt" stroke-linejoin="miter"/>
<line x1="940.90" y1="268.00" x2="940.90" y2="326.00" stroke="#c4c4c4" stroke-width="2.6" stroke-dasharray="2.6 3.4"/>
<line x1="940.90" y1="378.00" x2="940.90" y2="572.00" stroke="#c4c4c4" stroke-width="2.6" stroke-dasharray="2.6 3.4"/>
<line x1="1028.80" y1="251.00" x2="1028.80" y2="572.00" stroke="#c4c4c4" stroke-width="2.6" stroke-dasharray="2.6 3.4"/>
<line x1="1154.70" y1="249.00" x2="1154.70" y2="543.50" stroke="#c4c4c4" stroke-width="2.6" stroke-dasharray="2.6 3.4"/>
<line x1="1241.30" y1="249.00" x2="1241.30" y2="389.00" stroke="#c4c4c4" stroke-width="2.6" stroke-dasharray="2.6 3.4"/>
<line x1="1292.40" y1="249.00" x2="1292.40" y2="381.00" stroke="#c4c4c4" stroke-width="2.6" stroke-dasharray="2.6 3.4"/>
<line x1="1380.30" y1="265.00" x2="1380.30" y2="333.40" stroke="#c4c4c4" stroke-width="2.6" stroke-dasharray="2.6 3.4"/>
<text id="t21" x="940.50" y="592.70" font-family="Liberation Sans" font-size="21" text-anchor="middle" fill="#1c1c1c" stroke="#1c1c1c" stroke-width="0.6" transform="matrix(0.8840 0 0 1.0000 109.21 0.00)" >6 - 1</text>
<path d="M918.60,612.30 L918.60,601.90 L962.70,601.90 L962.70,612.30" fill="none" stroke="#888888" stroke-width="2.2" stroke-linejoin="round" stroke-linecap="butt" stroke-linejoin="miter"/>
<text id="t22" x="1029.60" y="592.70" font-family="Liberation Sans" font-size="21" text-anchor="middle" fill="#1c1c1c" stroke="#1c1c1c" stroke-width="0.6" transform="matrix(0.9131 0 0 1.0000 89.34 0.00)" >7 - 2</text>
<path d="M1008.90,612.30 L1008.90,601.90 L1050.60,601.90 L1050.60,612.30" fill="none" stroke="#888888" stroke-width="2.2" stroke-linejoin="round" stroke-linecap="butt" stroke-linejoin="miter"/>
<text id="t23" x="1154.90" y="563.80" font-family="Liberation Sans" font-size="21" text-anchor="middle" fill="#1c1c1c" stroke="#1c1c1c" stroke-width="0.6" transform="matrix(0.9291 0 0 1.0000 82.00 0.00)" >8 - 3</text>
<path d="M1113.40,583.80 L1113.40,573.40 L1192.80,573.40 L1192.80,583.80" fill="none" stroke="#888888" stroke-width="2.2" stroke-linejoin="round" stroke-linecap="butt" stroke-linejoin="miter"/>
<text id="t24" x="1240.60" y="412.80" font-family="Liberation Sans" font-size="21" text-anchor="middle" fill="#1c1c1c" stroke="#1c1c1c" stroke-width="0.6" transform="matrix(0.9112 0 0 1.0000 110.02 0.00)" >9 - 4</text>
<text id="t25" x="1292.00" y="398.80" font-family="Liberation Sans" font-size="21" text-anchor="middle" fill="#1c1c1c" stroke="#1c1c1c" stroke-width="0.6" transform="matrix(0.8902 0 0 1.0000 141.89 0.00)" >5 - 1</text>
<path d="M1219.30,433.70 L1219.30,424.70 L1321.90,424.70 L1321.90,434.00" fill="none" stroke="#888888" stroke-width="2.2" stroke-linejoin="round" stroke-linecap="butt" stroke-linejoin="miter"/>
<line x1="1263.30" y1="424.70" x2="1263.30" y2="434.30" stroke="#888888" stroke-width="2.2" />
<text id="t26" x="1382.40" y="358.00" font-family="Liberation Sans" font-size="21" text-anchor="middle" fill="#1c1c1c" stroke="#1c1c1c" stroke-width="0.6" transform="matrix(0.9435 0 0 1.0000 77.95 0.00)" >6 - 2</text>
<path d="M1358.90,380.70 L1358.90,371.00 L1408.00,371.00" fill="none" stroke="#888888" stroke-width="2.2" stroke-linejoin="round" stroke-linecap="butt" stroke-linejoin="miter"/>
<path d="M99.40,1173.13 99.70,1173.09 100.00,1173.05 100.30,1173.01 100.60,1172.97 100.90,1172.92 101.20,1172.88 101.50,1172.83 101.80,1172.79 102.10,1172.75 102.40,1172.72 102.70,1172.69 103.00,1172.67 106.00,1172.59 106.30,1172.56 106.60,1172.53 106.90,1172.48 107.20,1172.44 107.50,1172.39 107.80,1172.33 108.10,1172.29 108.40,1172.24 108.70,1172.21 109.00,1172.19 109.60,1172.19 109.90,1172.22 110.20,1172.26 110.50,1172.31 110.80,1172.38 111.10,1172.45 111.40,1172.53 111.70,1172.62 112.00,1172.70 112.30,1172.78 112.60,1172.86 112.90,1172.93 113.20,1173.00 113.50,1173.06 113.80,1173.11 114.10,1173.15 114.40,1173.19 114.70,1173.21 115.00,1173.24 118.00,1173.25 118.30,1173.23 118.60,1173.20 118.90,1173.16 119.20,1173.12 119.50,1173.06 119.80,1172.99 120.10,1172.91 120.40,1172.81 120.70,1172.69 121.00,1172.56 121.30,1172.42 121.60,1172.26 121.90,1172.10 122.20,1171.94 122.50,1171.79 122.80,1171.64 123.10,1171.52 123.40,1171.41 123.70,1171.33 124.00,1171.29 125.20,1171.29 125.50,1171.26 125.80,1171.13 126.10,1170.83 126.40,1170.25 126.70,1169.26 127.00,1167.72 127.30,1165.50 127.60,1162.50 127.90,1158.72 128.20,1154.28 128.50,1149.43 128.80,1144.58 129.10,1140.20 129.40,1136.82 129.70,1134.85 130.00,1134.56 130.30,1135.98 130.60,1138.91 130.90,1142.96 131.20,1147.60 131.50,1152.30 131.80,1156.58 132.10,1160.03 132.40,1162.39 132.70,1163.48 133.00,1163.22 133.30,1161.57 133.60,1158.59 133.90,1154.39 134.20,1149.23 134.50,1143.50 134.80,1137.74 135.10,1132.55 135.40,1128.56 135.70,1126.29 136.00,1126.07 136.30,1127.92 136.60,1131.63 136.90,1136.72 137.20,1142.60 137.50,1148.65 137.80,1154.36 138.10,1159.36 138.40,1163.44 138.70,1166.57 139.00,1168.84 139.30,1170.39 139.60,1171.39 139.90,1171.99 140.20,1172.34 140.50,1172.52 140.80,1172.58 141.10,1172.56 141.40,1172.46 141.70,1172.24 142.00,1171.87 142.30,1171.28 142.60,1170.39 142.90,1169.12 143.20,1167.39 143.50,1165.18 143.80,1162.48 144.10,1159.38 144.40,1156.04 144.70,1152.71 145.00,1149.66 145.30,1147.19 145.60,1145.58 145.90,1145.01 146.20,1145.54 146.50,1147.10 146.80,1149.54 147.10,1152.57 147.40,1155.90 147.70,1159.26 148.00,1162.39 148.30,1165.13 148.60,1167.41 148.90,1169.20 149.20,1170.54 149.50,1171.50 149.80,1172.16 150.10,1172.59 150.40,1172.87 150.70,1173.04 151.00,1173.14 151.30,1173.19 151.60,1173.21 152.20,1173.21 152.50,1173.19 152.80,1173.16 153.10,1173.12 153.40,1173.07 153.70,1173.02 154.00,1172.96 154.30,1172.91 154.60,1172.86 154.90,1172.81 155.20,1172.78 156.10,1172.77 156.40,1172.80 156.70,1172.83 157.00,1172.86 157.30,1172.89 157.60,1172.90 157.90,1172.88 158.20,1172.81 158.50,1172.68 158.80,1172.46 159.10,1172.14 159.40,1171.70 159.70,1171.13 160.00,1170.43 160.30,1169.62 160.60,1168.74 160.90,1167.84 161.20,1166.98 161.50,1166.24 161.80,1165.68 162.10,1165.36 162.40,1165.32 162.70,1165.55 163.00,1166.03 163.30,1166.72 163.60,1167.55 163.90,1168.45 164.20,1169.35 164.50,1170.19 164.80,1170.94 165.10,1171.57 165.40,1172.08 165.70,1172.46 166.00,1172.75 166.30,1172.95 166.60,1173.08 166.90,1173.17 167.20,1173.23 167.50,1173.26 180.40,1173.27 180.70,1173.23 181.00,1173.15 181.30,1173.00 181.60,1172.72 181.90,1172.23 182.20,1171.39 182.50,1170.01 182.80,1167.88 183.10,1164.72 183.40,1160.24 183.70,1154.20 184.00,1146.47 184.30,1137.08 184.60,1126.33 184.90,1114.77 185.20,1103.23 185.50,1092.70 185.80,1084.22 186.10,1078.71 186.40,1076.80 186.70,1078.71 187.00,1084.22 187.30,1092.70 187.60,1103.23 187.90,1114.77 188.20,1126.33 188.50,1137.08 188.80,1146.47 189.10,1154.20 189.40,1160.24 189.70,1164.72 190.00,1167.88 190.30,1170.01 190.60,1171.39 190.90,1172.23 191.20,1172.72 191.50,1173.00 191.80,1173.15 192.10,1173.23 192.40,1173.27 193.90,1173.27 194.20,1173.24 194.50,1173.18 194.80,1173.08 195.10,1172.91 195.40,1172.61 195.70,1172.15 196.00,1171.46 196.30,1170.46 196.60,1169.10 196.90,1167.31 197.20,1165.11 197.50,1162.54 197.80,1159.71 198.10,1156.81 198.40,1154.08 198.70,1151.77 199.00,1150.13 199.30,1149.34 199.60,1149.49 199.90,1150.56 200.20,1152.43 200.50,1154.90 200.80,1157.69 201.10,1160.56 201.40,1163.29 201.70,1165.71 202.00,1167.73 202.30,1169.32 202.60,1170.50 202.90,1171.32 203.20,1171.86 203.50,1172.18 203.80,1172.36 204.10,1172.43 204.40,1172.44 204.70,1172.42 205.00,1172.39 205.30,1172.35 205.60,1172.33 206.50,1172.31 206.80,1172.34 207.10,1172.38 207.40,1172.43 207.70,1172.49 208.00,1172.56 208.30,1172.63 208.60,1172.70 208.90,1172.78 209.20,1172.85 209.50,1172.92 209.80,1172.98 210.10,1173.04 210.40,1173.09 210.70,1173.13 211.00,1173.17 211.30,1173.19 211.60,1173.21 212.50,1173.22 212.80,1173.20 213.10,1173.15 213.40,1173.07 213.70,1172.92 214.00,1172.68 214.30,1172.29 214.60,1171.72 214.90,1170.88 215.20,1169.72 215.50,1168.21 215.80,1166.35 216.10,1164.19 216.40,1161.87 216.70,1159.55 217.00,1157.49 217.30,1155.90 217.60,1154.99 217.90,1154.88 218.20,1155.58 218.50,1157.00 218.80,1158.96 219.10,1161.23 219.40,1163.56 219.70,1165.76 220.00,1167.67 220.30,1169.23 220.60,1170.41 220.90,1171.24 221.20,1171.78 221.50,1172.09 221.80,1172.22 222.10,1172.20 222.40,1172.06 222.70,1171.77 223.00,1171.31 223.30,1170.61 223.60,1169.60 223.90,1168.24 224.20,1166.47 224.50,1164.33 224.80,1161.88 225.10,1159.30 225.40,1156.81 225.70,1154.68 226.00,1153.16 226.30,1152.47 226.60,1152.69 226.90,1153.80 227.20,1155.68 227.50,1158.08 227.80,1160.74 228.10,1163.40 228.40,1165.85 228.70,1167.94 229.00,1169.62 229.30,1170.88 229.60,1171.78 229.90,1172.38 230.20,1172.75 230.50,1172.95 230.80,1173.02 231.10,1172.96 231.40,1172.75 231.70,1172.33 232.00,1171.59 232.30,1170.37 232.60,1168.48 232.90,1165.66 233.20,1161.68 233.50,1156.30 233.80,1149.42 234.10,1141.06 234.40,1131.49 234.70,1121.20 235.00,1110.93 235.30,1101.55 235.60,1094.01 235.90,1089.10 236.20,1087.40 236.50,1089.10 236.80,1093.99 237.10,1101.52 237.40,1110.86 237.70,1121.08 238.00,1131.29 238.30,1140.74 238.60,1148.92 238.90,1155.55 239.20,1160.59 239.50,1164.15 239.80,1166.44 240.10,1167.73 240.40,1168.27 240.70,1168.30 241.00,1168.05 241.30,1167.68 241.60,1167.32 241.90,1167.08 242.20,1167.00 242.50,1167.13 242.80,1167.45 243.10,1167.94 243.40,1168.57 243.70,1169.26 244.00,1169.97 244.30,1170.65 244.60,1171.26 244.90,1171.79 245.20,1172.21 245.50,1172.54 245.80,1172.78 246.10,1172.95 246.40,1173.05 246.70,1173.09 247.00,1173.09 247.30,1173.05 247.60,1172.98 247.90,1172.87 248.20,1172.74 248.50,1172.58 248.80,1172.41 249.10,1172.24 249.40,1172.08 249.70,1171.95 250.00,1171.85 250.30,1171.80 250.60,1171.78 250.90,1171.80 251.20,1171.85 251.50,1171.93 251.80,1172.02 252.10,1172.12 252.40,1172.22 252.70,1172.32 253.00,1172.43 253.30,1172.53 253.60,1172.64 253.90,1172.73 254.20,1172.83 254.50,1172.91 254.80,1172.99 255.10,1173.05 255.40,1173.10 255.70,1173.14 256.00,1173.16 256.30,1173.16 256.60,1173.13 256.90,1173.05 257.20,1172.90 257.50,1172.65 257.80,1172.26 258.10,1171.69 258.40,1170.89 258.70,1169.82 259.00,1168.48 259.30,1166.89 259.60,1165.09 259.90,1163.21 260.20,1161.38 260.50,1159.77 260.80,1158.54 261.10,1157.84 261.40,1157.73 261.70,1158.24 262.00,1159.31 262.30,1160.80 262.60,1162.57 262.90,1164.43 263.20,1166.24 263.50,1167.87 263.80,1169.22 264.10,1170.25 264.40,1170.96 264.70,1171.35 265.00,1171.45 265.30,1171.30 265.60,1170.94 265.90,1170.43 266.20,1169.83 266.50,1169.20 266.80,1168.61 267.10,1168.12 267.40,1167.81 267.70,1167.70 268.00,1167.81 268.30,1168.13 268.60,1168.62 268.90,1169.23 269.20,1169.90 269.50,1170.58 269.80,1171.20 270.10,1171.74 270.40,1172.19 270.70,1172.54 271.00,1172.80 271.30,1172.99 271.60,1173.11 271.90,1173.19 272.20,1173.23 272.80,1173.24 273.10,1173.20 273.40,1173.12 273.70,1172.97 274.00,1172.70 274.30,1172.27 274.60,1171.61 274.90,1170.65 275.20,1169.32 275.50,1167.60 275.80,1165.49 276.10,1163.07 276.40,1160.50 276.70,1157.98 277.00,1155.74 277.30,1154.00 277.60,1152.91 277.90,1152.51 278.20,1152.71 278.50,1153.34 278.80,1154.15 279.10,1154.90 279.40,1155.40 279.70,1155.59 280.00,1155.52 280.30,1155.34 280.60,1155.27 280.90,1155.50 281.20,1156.19 281.50,1157.39 281.80,1159.04 282.10,1161.02 282.40,1163.14 282.70,1165.22 283.00,1167.12 283.30,1168.72 283.60,1170.00 283.90,1170.95 284.20,1171.62 284.50,1172.08 284.80,1172.37 285.10,1172.54 285.40,1172.63 285.70,1172.63 286.00,1172.52 286.30,1172.28 286.60,1171.86 286.90,1171.17 287.20,1170.14 287.50,1168.71 287.80,1166.82 288.10,1164.48 288.40,1161.73 288.70,1158.69 289.00,1155.57 289.30,1152.61 289.60,1150.09 289.90,1148.27 290.20,1147.35 290.50,1147.43 290.80,1148.47 291.10,1150.37 291.40,1152.90 291.70,1155.79 292.00,1158.78 292.30,1161.64 292.60,1164.21 292.90,1166.38 293.20,1168.12 293.50,1169.47 293.80,1170.47 294.10,1171.20 294.40,1171.71 294.70,1172.08 295.00,1172.34 295.30,1172.53 295.60,1172.68 295.90,1172.80 296.20,1172.89 296.50,1172.96 296.80,1173.02 297.10,1173.07 297.40,1173.11 297.70,1173.13 298.30,1173.12 298.60,1173.07 298.90,1172.97 299.20,1172.81 299.50,1172.58 299.80,1172.24 300.10,1171.78 300.40,1171.21 300.70,1170.52 301.00,1169.75 301.30,1168.93 301.60,1168.13 301.90,1167.42 302.20,1166.88 302.50,1166.54 302.80,1166.47 303.10,1166.64 303.40,1167.05 303.70,1167.63 304.00,1168.31 304.30,1169.02 304.60,1169.67 304.90,1170.20 305.20,1170.53 305.50,1170.62 305.80,1170.41 306.10,1169.86 306.40,1168.97 306.70,1167.74 307.00,1166.22 307.30,1164.53 307.60,1162.79 307.90,1161.15 308.20,1159.75 308.50,1158.66 308.80,1157.88 309.10,1157.37 309.40,1157.04 309.70,1156.83 310.00,1156.70 310.30,1156.71 310.60,1156.93 310.90,1157.45 311.20,1158.32 311.50,1159.46 311.80,1160.64 312.10,1161.48 312.40,1161.38 312.70,1159.54 313.00,1154.93 313.30,1146.32 313.60,1132.32 313.90,1111.59 314.20,1083.12 314.50,1046.60 314.80,1002.82 315.10,953.99 315.40,903.72 315.70,856.74 316.00,818.22 316.30,792.88 316.60,784.01 316.90,792.80 317.20,818.05 317.50,856.50 317.80,903.43 318.10,953.68 318.40,1002.56 318.70,1046.46 319.00,1083.24 319.30,1112.16 319.60,1133.57 319.90,1148.57 320.20,1158.50 320.50,1164.75 320.80,1168.49 321.10,1170.62 321.40,1171.79 321.70,1172.40 322.00,1172.71 322.30,1172.87 322.60,1172.95 322.90,1172.99 323.50,1172.97 323.80,1172.92 324.10,1172.83 324.40,1172.70 324.70,1172.51 325.00,1172.26 325.30,1171.95 325.60,1171.60 325.90,1171.21 326.20,1170.80 326.50,1170.42 326.80,1170.08 327.10,1169.81 327.40,1169.64 327.70,1169.56 328.00,1169.57 328.30,1169.64 328.60,1169.72 328.90,1169.75 329.20,1169.70 329.50,1169.50 329.80,1169.15 330.10,1168.65 330.40,1168.05 330.70,1167.41 331.00,1166.82 331.30,1166.38 331.60,1166.15 331.90,1166.16 332.20,1166.40 332.50,1166.83 332.80,1167.34 333.10,1167.82 333.40,1168.17 333.70,1168.29 334.00,1168.11 334.30,1167.62 334.60,1166.84 334.90,1165.83 335.20,1164.71 335.50,1163.61 335.80,1162.66 336.10,1161.99 336.40,1161.69 336.70,1161.82 337.00,1162.37 337.30,1163.28 337.60,1164.46 337.90,1165.79 338.20,1167.16 338.50,1168.46 338.80,1169.62 339.10,1170.60 339.40,1171.38 339.70,1171.96 340.00,1172.39 340.30,1172.68 340.60,1172.86 340.90,1172.97 341.20,1173.03 341.50,1173.06 342.10,1173.05 342.40,1173.03 342.70,1173.00 343.00,1172.97 343.30,1172.94 343.60,1172.90 343.90,1172.87 344.20,1172.83 344.50,1172.80 344.80,1172.78 345.10,1172.75 346.00,1172.70 346.30,1172.68 346.60,1172.65 346.90,1172.61 347.20,1172.54 347.50,1172.44 347.80,1172.29 348.10,1172.08 348.40,1171.80 348.70,1171.42 349.00,1170.94 349.30,1170.34 349.60,1169.62 349.90,1168.77 350.20,1167.79 350.50,1166.72 350.80,1165.57 351.10,1164.41 351.40,1163.29 351.70,1162.28 352.00,1161.45 352.30,1160.86 352.60,1160.57 352.90,1160.60 353.20,1160.96 353.50,1161.61 353.80,1162.52 354.10,1163.62 354.40,1164.83 354.70,1166.07 355.00,1167.29 355.30,1168.41 355.60,1169.41 355.90,1170.26 356.20,1170.95 356.50,1171.49 356.80,1171.90 357.10,1172.19 357.40,1172.40 357.70,1172.55 358.00,1172.65 358.30,1172.72 358.60,1172.77 358.90,1172.82 359.20,1172.87 359.50,1172.91 359.80,1172.96 360.10,1173.00 360.40,1173.05 360.70,1173.09 361.00,1173.13 361.30,1173.16 361.60,1173.20 361.90,1173.22 362.20,1173.24 372.10,1173.28 372.40,1173.26 372.70,1173.22 373.00,1173.16 373.30,1173.06 373.60,1172.90 373.90,1172.67 374.20,1172.34 374.50,1171.89 374.80,1171.33 375.10,1170.64 375.40,1169.84 375.70,1168.99 376.00,1168.14 376.30,1167.37 376.60,1166.75 376.90,1166.34 377.20,1166.20 377.50,1166.34 377.80,1166.74 378.10,1167.37 378.40,1168.14 378.70,1168.99 379.00,1169.83 379.30,1170.62 379.60,1171.30 379.90,1171.86 380.20,1172.29 380.50,1172.61 380.80,1172.82 381.10,1172.95 381.40,1173.02 381.70,1173.05 382.00,1173.04 382.30,1173.02 382.60,1172.98 382.90,1172.94 383.20,1172.89 383.50,1172.85 383.80,1172.81 384.10,1172.78 384.40,1172.75 385.30,1172.75 385.60,1172.77 385.90,1172.80 386.20,1172.84 386.50,1172.88 386.80,1172.93 387.10,1172.97 387.40,1173.02 387.70,1173.05 388.30,1173.06 388.60,1173.02 388.90,1172.91 389.20,1172.72 389.50,1172.40 389.80,1171.91 390.10,1171.22 390.40,1170.27 390.70,1169.06 391.00,1167.59 391.30,1165.90 391.60,1164.08 391.90,1162.26 392.20,1160.60 392.50,1159.27 392.80,1158.40 393.10,1158.10 393.40,1158.40 393.70,1159.27 394.00,1160.60 394.30,1162.26 394.60,1164.08 394.90,1165.90 395.20,1167.60 395.50,1169.07 395.80,1170.29 396.10,1171.24 396.40,1171.95 396.70,1172.44 397.00,1172.77 397.30,1172.97 397.60,1173.08 397.90,1173.10 398.20,1173.04 398.50,1172.86 398.80,1172.50 399.10,1171.86 399.40,1170.78 399.70,1169.02 400.00,1166.30 400.30,1162.29 400.60,1156.61 400.90,1148.98 401.20,1139.23 401.50,1127.40 401.80,1113.86 402.10,1099.31 402.40,1084.80 402.70,1071.57 403.00,1060.93 403.30,1054.03 403.60,1051.65 403.90,1054.09 404.20,1061.06 404.50,1071.75 404.80,1085.03 405.10,1099.58 405.40,1114.14 405.70,1127.69 406.00,1139.51 406.30,1149.25 406.60,1156.85 406.90,1162.49 407.20,1166.48 407.50,1169.16 407.80,1170.88 408.10,1171.93 408.40,1172.54 408.70,1172.87 409.00,1173.01 409.30,1173.05 409.60,1173.00 409.90,1172.90 410.20,1172.74 410.50,1172.53 410.80,1172.27 411.10,1171.98 411.40,1171.68 411.70,1171.39 412.00,1171.13 412.30,1170.94 412.60,1170.82 412.90,1170.81 413.20,1170.89 413.50,1171.06 413.80,1171.30 414.10,1171.58 414.40,1171.88 414.70,1172.18 415.00,1172.44 415.30,1172.67 415.60,1172.85 415.90,1172.99 416.20,1173.09 416.50,1173.15 416.80,1173.18 417.40,1173.18 417.70,1173.15 418.00,1173.11 418.30,1173.04 418.60,1172.96 418.90,1172.85 419.20,1172.73 419.50,1172.59 419.80,1172.44 420.10,1172.27 420.40,1172.10 420.70,1171.93 421.00,1171.77 421.30,1171.63 421.60,1171.51 421.90,1171.41 422.20,1171.34 422.50,1171.30 423.40,1171.30 423.70,1171.34 424.00,1171.38 424.30,1171.44 424.60,1171.50 424.90,1171.58 425.20,1171.66 425.50,1171.75 425.80,1171.85 426.10,1171.95 426.40,1172.06 426.70,1172.18 427.00,1172.29 427.30,1172.41 427.60,1172.52 427.90,1172.62 428.20,1172.71 428.50,1172.79 428.80,1172.86 429.10,1172.90 429.40,1172.92 429.70,1172.92 430.00,1172.89 430.30,1172.83 430.60,1172.74 430.90,1172.63 431.20,1172.49 431.50,1172.34 431.80,1172.19 432.10,1172.05 432.40,1171.93 432.70,1171.85 433.00,1171.80 433.30,1171.79 433.60,1171.81 433.90,1171.86 434.20,1171.90 434.50,1171.92 434.80,1171.88 435.10,1171.78 435.40,1171.59 435.70,1171.29 436.00,1170.89 436.30,1170.41 436.60,1169.86 436.90,1169.31 437.20,1168.78 437.50,1168.33 437.80,1168.02 438.10,1167.86 438.40,1167.89 438.70,1168.10 439.00,1168.46 439.30,1168.95 439.60,1169.51 439.90,1170.10 440.20,1170.67 440.50,1171.20 440.80,1171.65 441.10,1172.02 441.40,1172.31 441.70,1172.52 442.00,1172.67 442.30,1172.76 442.60,1172.83 442.90,1172.87 443.20,1172.89 444.40,1172.96 444.70,1172.98 445.00,1173.01 445.30,1173.03 445.60,1173.06 445.90,1173.09 446.20,1173.11 446.50,1173.13 448.30,1173.15 448.60,1173.13 448.90,1173.09 449.20,1173.06 449.50,1173.02 449.80,1172.98 450.10,1172.94 450.40,1172.92 451.30,1172.91 451.60,1172.93 451.90,1172.97 452.20,1173.01 452.50,1173.05 452.80,1173.10 453.10,1173.14 453.40,1173.18 453.70,1173.21 454.00,1173.23 454.30,1173.26 458.80,1173.24 459.10,1173.21 459.40,1173.18 459.70,1173.13 460.00,1173.07 460.30,1172.98 460.60,1172.87 460.90,1172.71 461.20,1172.50 461.50,1172.22 461.80,1171.88 462.10,1171.47 462.40,1170.99 462.70,1170.45 463.00,1169.90 463.30,1169.35 463.60,1168.86 463.90,1168.46 464.20,1168.20 464.50,1168.09 464.80,1168.14 465.10,1168.34 465.40,1168.68 465.70,1169.11 466.00,1169.58 466.30,1170.07 466.60,1170.52 466.90,1170.91 467.20,1171.23 467.50,1171.47 467.80,1171.63 468.10,1171.72 468.40,1171.75 468.70,1171.73 469.00,1171.67 469.30,1171.59 469.60,1171.51 469.90,1171.42 470.20,1171.35 470.50,1171.31 470.80,1171.30 471.10,1171.32 471.40,1171.39 471.70,1171.50 472.00,1171.64 472.30,1171.80 472.60,1171.99 472.90,1172.17 473.20,1172.36 473.50,1172.53 473.80,1172.69 474.10,1172.82 474.40,1172.93 474.70,1173.02 475.00,1173.08 475.30,1173.13 475.60,1173.15 477.10,1173.12 477.40,1173.10 477.70,1173.08 479.80,1173.07 480.10,1173.09 480.40,1173.12 480.70,1173.14 481.00,1173.17 481.30,1173.19 481.60,1173.21 486.40,1173.28 486.70,1173.25 487.00,1173.22 487.30,1173.15 487.60,1173.05 487.90,1172.89 488.20,1172.65 488.50,1172.30 488.80,1171.82 489.10,1171.19 489.40,1170.39 489.70,1169.42 490.00,1168.31 490.30,1167.10 490.60,1165.86 490.90,1164.68 491.20,1163.66 491.50,1162.89 491.80,1162.44 492.10,1162.36 492.40,1162.66 492.70,1163.29 493.00,1164.19 493.30,1165.28 493.60,1166.46 493.90,1167.62 494.20,1168.71 494.50,1169.66 494.80,1170.44 495.10,1171.04 495.40,1171.49 495.70,1171.80 496.00,1172.00 496.30,1172.12 496.60,1172.19 496.90,1172.23 497.20,1172.26 497.50,1172.29 497.80,1172.32 498.10,1172.37 498.40,1172.43 498.70,1172.49 499.00,1172.57 499.30,1172.64 499.60,1172.72 499.90,1172.80 500.20,1172.86 500.50,1172.91 500.80,1172.94 501.10,1172.93 501.40,1172.86 501.70,1172.70 502.00,1172.43 502.30,1171.99 502.60,1171.33 502.90,1170.40 503.20,1169.14 503.50,1167.51 503.80,1165.50 504.10,1163.15 504.40,1160.54 504.70,1157.80 505.00,1155.12 505.30,1152.70 505.60,1150.77 505.90,1149.49 506.20,1149.01 506.50,1149.36 506.80,1150.51 507.10,1152.34 507.40,1154.68 507.70,1157.33 508.00,1160.05 508.30,1162.69 508.60,1165.08 508.90,1167.14 509.20,1168.84 509.50,1170.17 509.80,1171.17 510.10,1171.89 510.40,1172.40 510.70,1172.73 511.00,1172.95 511.30,1173.09 511.60,1173.17 511.90,1173.22 512.20,1173.25 514.00,1173.24 514.30,1173.21 514.60,1173.17 514.90,1173.11 515.20,1173.03 515.50,1172.93 515.80,1172.81 516.10,1172.69 516.40,1172.57 516.70,1172.46 517.00,1172.38 517.30,1172.34 517.60,1172.33 517.90,1172.37 518.20,1172.45 518.50,1172.55 518.80,1172.67 519.10,1172.79 519.40,1172.90 519.70,1173.00 520.00,1173.08 520.30,1173.14 520.60,1173.18 520.90,1173.20 521.80,1173.18 522.10,1173.16 522.40,1173.13 522.70,1173.09 523.00,1173.05 523.30,1173.01 523.60,1172.96 523.90,1172.92 524.20,1172.87 524.50,1172.83 524.80,1172.79 525.10,1172.75 525.40,1172.71 525.70,1172.67 526.00,1172.62 526.30,1172.58 526.60,1172.52 526.90,1172.45 527.20,1172.38 527.50,1172.30 527.80,1172.22 528.10,1172.14 528.40,1172.09 528.70,1172.06 529.00,1172.06 529.30,1172.10 529.60,1172.17 529.90,1172.27 530.20,1172.38 530.50,1172.50 530.80,1172.61 531.10,1172.71 531.40,1172.79 531.70,1172.85 532.00,1172.88 532.60,1172.87 532.90,1172.84 533.20,1172.80 533.50,1172.76 533.80,1172.71 534.10,1172.66 534.40,1172.62 534.70,1172.58 535.00,1172.55 536.20,1172.54 536.50,1172.56 536.80,1172.60 537.10,1172.64 537.40,1172.69 537.70,1172.74 538.00,1172.80 538.30,1172.85 538.60,1172.91 538.90,1172.96 539.20,1173.01 539.50,1173.06 539.80,1173.10 540.10,1173.13 540.40,1173.16 542.20,1173.17 542.50,1173.14 542.80,1173.11 543.10,1173.08 543.40,1173.03 543.70,1172.98 544.00,1172.93 544.30,1172.87 544.60,1172.82 544.90,1172.76 545.20,1172.71 545.50,1172.66 545.80,1172.62 546.10,1172.59 546.40,1172.56 547.30,1172.57 547.60,1172.59 547.90,1172.63 548.20,1172.67 548.50,1172.72 548.80,1172.78 549.10,1172.83 549.40,1172.89 549.70,1172.95 550.00,1173.00 550.30,1173.05 550.60,1173.10 550.90,1173.13 551.20,1173.17 551.50,1173.20 551.80,1173.22 563.20,1173.22 563.50,1173.20 563.80,1173.17 564.10,1173.15 564.40,1173.11 564.70,1173.08 565.00,1173.04 565.30,1173.01 565.60,1172.97 565.90,1172.94 566.20,1172.91 566.50,1172.88 568.30,1172.89 568.60,1172.91 568.90,1172.94 569.20,1172.97 569.50,1173.01 569.80,1173.03 570.10,1173.06 571.00,1173.05 571.30,1173.01 571.60,1172.95 571.90,1172.86 572.20,1172.74 572.50,1172.58 572.80,1172.40 573.10,1172.19 573.40,1171.97 573.70,1171.74 574.00,1171.52 574.30,1171.33 574.60,1171.17 574.90,1171.05 575.20,1171.00 575.50,1171.01 575.80,1171.09 576.10,1171.22 576.40,1171.39 576.70,1171.60 577.00,1171.83 577.30,1172.06 577.60,1172.28 577.90,1172.49 578.20,1172.67 578.50,1172.83 578.80,1172.95 579.10,1173.05 579.40,1173.13 579.70,1173.18 580.00,1173.22 580.30,1173.25 582.10,1173.24 582.40,1173.22 582.70,1173.19 583.00,1173.15 583.30,1173.10 583.60,1173.05 583.90,1172.98 584.20,1172.90 584.50,1172.82 584.80,1172.73 585.10,1172.65 585.40,1172.57 585.70,1172.51 586.00,1172.45 586.30,1172.42 586.90,1172.42 587.20,1172.45 587.50,1172.50 587.80,1172.57 588.10,1172.64 588.40,1172.73 588.70,1172.81 589.00,1172.90 589.30,1172.97 589.60,1173.04 589.90,1173.10 590.20,1173.15 590.50,1173.19 590.80,1173.22 591.10,1173.25 594.70,1173.25 595.00,1173.23 595.30,1173.20 595.60,1173.16 595.90,1173.12 596.20,1173.07 596.50,1173.01 596.80,1172.95 597.10,1172.88 597.40,1172.80 597.70,1172.73 598.00,1172.65 598.30,1172.58 598.60,1172.52 598.90,1172.47 599.20,1172.44 600.10,1172.44 600.40,1172.47 600.70,1172.52 601.00,1172.58 601.30,1172.65 601.60,1172.73 601.90,1172.80 602.20,1172.87 602.50,1172.94 602.80,1172.99 603.10,1173.04 603.40,1173.07 603.70,1173.10 604.90,1173.08 605.20,1173.06 605.50,1173.02 605.80,1172.99 606.10,1172.95 606.40,1172.92 606.70,1172.88 607.00,1172.86 608.50,1172.85 608.80,1172.87 609.10,1172.90 609.40,1172.94 609.70,1172.98 610.00,1173.02 610.30,1173.05 610.60,1173.09 610.90,1173.12 611.20,1173.14 625.60,1173.26 625.90,1173.23 626.20,1173.17 626.50,1173.07 626.80,1172.91 627.10,1172.67 627.40,1172.34 627.70,1171.93 628.00,1171.42 628.30,1170.87 628.60,1170.33 628.90,1169.84 629.20,1169.49 629.50,1169.31 629.80,1169.35 630.10,1169.58 630.40,1169.98 630.70,1170.47 631.00,1171.00 631.30,1171.47 631.60,1171.83 631.90,1172.03 632.20,1172.03 632.50,1171.82 632.80,1171.42 633.10,1170.85 633.40,1170.19 633.70,1169.50 634.00,1168.89 634.30,1168.42 634.60,1168.12 634.90,1167.98 635.20,1167.96 636.40,1167.96 636.70,1168.02 637.00,1168.20 637.30,1168.55 637.60,1169.06 637.90,1169.68 638.20,1170.33 638.50,1170.90 638.80,1171.30 639.10,1171.48 639.40,1171.41 639.70,1171.07 640.00,1170.51 640.30,1169.78 640.60,1168.99 640.90,1168.23 641.20,1167.63 641.50,1167.27 641.80,1167.22 642.10,1167.48 642.40,1168.02 642.70,1168.76 643.00,1169.60 643.30,1170.44 643.60,1171.20 643.90,1171.84 644.20,1172.34 644.50,1172.70 644.80,1172.94 645.10,1173.10 645.40,1173.19 645.70,1173.25 646.00,1173.27 652.30,1173.23 652.60,1173.20 652.90,1173.17 653.20,1173.13 653.50,1173.09 653.80,1173.04 654.10,1172.98 654.40,1172.92 654.70,1172.85 655.00,1172.77 655.30,1172.70 655.60,1172.62 655.90,1172.55 656.20,1172.48 656.50,1172.42 656.80,1172.37 657.10,1172.32 657.40,1172.28 657.70,1172.26 660.70,1172.27 661.00,1172.29 661.30,1172.32 661.60,1172.36 661.90,1172.41 662.20,1172.46 662.50,1172.51 662.80,1172.56 663.10,1172.60 663.40,1172.63 664.00,1172.65 664.30,1172.63 664.60,1172.59 664.90,1172.54 665.20,1172.48 665.50,1172.43 665.80,1172.39 666.40,1172.39 666.70,1172.43 667.00,1172.50 667.30,1172.59 667.60,1172.69 667.90,1172.80 668.20,1172.90 668.50,1173.00 668.80,1173.08 669.10,1173.15 669.40,1173.20 669.70,1173.23 670.00,1173.26 681.70,1172.99 682.00,1172.97 685.90,1172.82 686.20,1172.80 686.50,1172.77 686.80,1172.74 687.10,1172.72 687.40,1172.68 687.70,1172.65 688.00,1172.63 688.30,1172.60 688.60,1172.58 690.10,1172.56 690.40,1172.58 690.70,1172.61 691.00,1172.65 691.30,1172.69 691.60,1172.74 691.90,1172.79 692.20,1172.84 692.50,1172.90 692.80,1172.96 693.10,1173.01 693.40,1173.06 693.70,1173.10 694.00,1173.14 694.30,1173.18 694.60,1173.21 694.90,1173.23 697.90,1173.25 698.20,1173.23 698.50,1173.20 698.80,1173.17 699.10,1173.14 699.40,1173.10 699.70,1173.07 700.00,1173.03 700.30,1173.01 701.50,1172.99 701.80,1173.02 702.10,1173.05 702.40,1173.08 702.70,1173.12 703.00,1173.15 703.30,1173.19 703.60,1173.22 703.90,1173.24 706.60,1173.28 706.90,1173.26 707.20,1173.20 707.50,1173.07 707.80,1172.82 708.10,1172.32 708.40,1171.38 708.70,1169.68 709.00,1166.75 709.30,1161.91 709.60,1154.27 709.90,1142.74 710.20,1126.17 710.50,1103.46 710.80,1073.86 711.10,1037.27 711.40,994.51 711.70,947.52 712.00,899.36 712.30,853.97 712.60,815.64 712.90,788.43 713.20,775.39 713.50,778.03 713.80,796.05 714.10,827.36 714.40,868.51 714.70,915.27 715.00,963.40 715.30,1009.19 715.60,1049.93 715.90,1084.01 716.20,1110.92 716.50,1130.94 716.80,1144.90 717.10,1153.88 717.40,1158.97 717.70,1161.15 718.00,1161.27 718.30,1159.99 718.60,1157.88 718.90,1155.40 719.20,1152.97 719.50,1150.95 719.80,1149.60 720.10,1149.12 720.40,1149.57 720.70,1150.91 721.00,1152.98 721.30,1155.57 721.60,1158.42 721.90,1161.29 722.20,1163.97 722.50,1166.32 722.80,1168.27 723.10,1169.80 723.40,1170.95 723.70,1171.78 724.00,1172.34 724.30,1172.71 724.60,1172.95 724.90,1173.10 725.20,1173.18 725.50,1173.23 725.80,1173.26 732.10,1173.26 732.40,1173.24 732.70,1173.19 733.00,1173.13 733.30,1173.03 733.60,1172.89 733.90,1172.70 734.20,1172.46 734.50,1172.15 734.80,1171.79 735.10,1171.37 735.40,1170.93 735.70,1170.48 736.00,1170.05 736.30,1169.69 736.60,1169.41 736.90,1169.24 737.20,1169.20 737.50,1169.29 737.80,1169.48 738.10,1169.76 738.40,1170.10 738.70,1170.46 739.00,1170.82 739.30,1171.16 739.60,1171.46 739.90,1171.72 740.20,1171.93 740.50,1172.10 740.80,1172.24 741.10,1172.35 741.40,1172.45 741.70,1172.53 742.00,1172.61 742.30,1172.68 742.60,1172.75 742.90,1172.82 743.20,1172.88 743.50,1172.94 743.80,1172.99 744.10,1173.04 744.40,1173.09 744.70,1173.13 745.00,1173.16 745.30,1173.19 745.60,1173.21 757.00,1173.25 757.30,1173.23 757.60,1173.20 757.90,1173.16 758.20,1173.11 758.50,1173.05 758.80,1172.98 759.10,1172.91 759.40,1172.82 759.70,1172.73 760.00,1172.65 760.30,1172.57 760.60,1172.50 760.90,1172.45 761.20,1172.41 761.80,1172.41 762.10,1172.45 762.40,1172.50 762.70,1172.57 763.00,1172.65 763.30,1172.74 763.60,1172.83 763.90,1172.91 764.20,1172.98 764.50,1173.05 764.80,1173.10 765.10,1173.14 765.40,1173.16 766.30,1173.15 766.60,1173.12 766.90,1173.08 767.20,1173.03 767.50,1172.98 767.80,1172.93 768.10,1172.89 768.40,1172.86 768.70,1172.83 771.10,1172.84 771.40,1172.82 771.70,1172.79 772.00,1172.74 772.30,1172.70 772.60,1172.64 772.90,1172.59 773.20,1172.54 773.50,1172.49 773.80,1172.45 774.10,1172.41 774.40,1172.37 774.70,1172.33 775.00,1172.28 775.30,1172.20 775.60,1172.08 775.90,1171.92 776.20,1171.70 776.50,1171.41 776.80,1171.04 777.10,1170.62 777.40,1170.15 777.70,1169.67 778.00,1169.21 778.30,1168.81 778.60,1168.52 778.90,1168.37 779.20,1168.37 779.50,1168.54 779.80,1168.85 780.10,1169.27 780.40,1169.77 780.70,1170.30 781.00,1170.82 781.30,1171.29 781.60,1171.69 781.90,1172.01 782.20,1172.23 782.50,1172.36 782.80,1172.41 783.10,1172.40 783.40,1172.34 783.70,1172.25 784.00,1172.14 784.30,1172.03 784.60,1171.92 784.90,1171.83 785.20,1171.77 785.50,1171.73 787.00,1171.74 787.30,1171.71 787.60,1171.62 787.90,1171.46 788.20,1171.22 788.50,1170.87 788.80,1170.42 789.10,1169.87 789.40,1169.24 789.70,1168.57 790.00,1167.92 790.30,1167.33 790.60,1166.86 790.90,1166.56 791.20,1166.47 791.50,1166.59 791.80,1166.92 792.10,1167.42 792.40,1168.05 792.70,1168.75 793.00,1169.47 793.30,1170.16 793.60,1170.79 793.90,1171.32 794.20,1171.77 794.50,1172.12 794.80,1172.39 795.10,1172.59 795.40,1172.73 795.70,1172.84 796.00,1172.92 796.30,1172.99 796.60,1173.04 796.90,1173.08 797.20,1173.11 797.50,1173.14 797.80,1173.17 798.10,1173.19 799.00,1173.21 799.30,1173.18 799.60,1173.14 799.90,1173.06 800.20,1172.93 800.50,1172.74 800.80,1172.47 801.10,1172.10 801.40,1171.63 801.70,1171.06 802.00,1170.38 802.30,1169.63 802.60,1168.85 802.90,1168.09 803.20,1167.41 803.50,1166.87 803.80,1166.52 804.10,1166.40 804.40,1166.52 804.70,1166.87 805.00,1167.41 805.30,1168.09 805.60,1168.85 805.90,1169.64 806.20,1170.38 806.50,1171.06 806.80,1171.64 807.10,1172.11 807.40,1172.48 807.70,1172.75 808.00,1172.94 808.30,1173.07 808.60,1173.15 808.90,1173.19 809.20,1173.19 809.50,1173.16 809.80,1173.08 810.10,1172.96 810.40,1172.75 810.70,1172.46 811.00,1172.03 811.30,1171.44 811.60,1170.67 811.90,1169.69 812.20,1168.50 812.50,1167.11 812.80,1165.56 813.10,1163.93 813.40,1162.29 813.70,1160.76 814.00,1159.46 814.30,1158.49 814.60,1157.92 814.90,1157.82 815.20,1158.16 815.50,1158.92 815.80,1159.99 816.10,1161.27 816.40,1162.61 816.70,1163.89 817.00,1165.00 817.30,1165.86 817.60,1166.42 817.90,1166.71 818.20,1166.77 818.50,1166.68 818.80,1166.53 819.10,1166.43 819.40,1166.46 819.70,1166.65 820.00,1167.04 820.30,1167.61 820.60,1168.32 820.90,1169.10 821.20,1169.89 821.50,1170.64 821.80,1171.30 822.10,1171.86 822.40,1172.30 822.70,1172.63 823.00,1172.87 823.30,1173.02 823.60,1173.12 823.90,1173.16 824.20,1173.17 824.50,1173.15 824.80,1173.09 825.10,1173.01 825.40,1172.89 825.70,1172.74 826.00,1172.56 826.30,1172.35 826.60,1172.13 826.90,1171.88 827.20,1171.61 827.50,1171.31 827.80,1170.96 828.10,1170.53 828.40,1170.01 828.70,1169.37 829.00,1168.61 829.30,1167.76 829.60,1166.84 829.90,1165.94 830.20,1165.14 830.50,1164.54 830.80,1164.22 831.10,1164.22 831.40,1164.55 831.70,1165.19 832.00,1166.07 832.30,1167.10 832.60,1168.19 832.90,1169.25 833.20,1170.22 833.50,1171.03 833.80,1171.69 834.10,1172.19 834.40,1172.54 834.70,1172.77 835.00,1172.91 835.30,1172.97 835.60,1172.99 835.90,1172.97 836.20,1172.92 836.50,1172.87 836.80,1172.81 837.10,1172.76 837.40,1172.71 837.70,1172.68 839.20,1172.66 839.50,1172.63 839.80,1172.55 840.10,1172.37 840.40,1172.07 840.70,1171.58 841.00,1170.86 841.30,1169.85 841.60,1168.52 841.90,1166.83 842.20,1164.82 842.50,1162.55 842.80,1160.12 843.10,1157.69 843.40,1155.44 843.70,1153.58 844.00,1152.27 844.30,1151.64 844.60,1151.77 844.90,1152.63 845.20,1154.15 845.50,1156.17 845.80,1158.50 846.10,1160.96 846.40,1163.36 846.70,1165.57 847.00,1167.50 847.30,1169.09 847.60,1170.35 847.90,1171.30 848.20,1171.98 848.50,1172.45 848.80,1172.75 849.10,1172.94 849.40,1173.05 849.70,1173.10 850.00,1173.12 855.70,1173.09 856.00,1173.07 856.30,1173.04 856.60,1173.01 856.90,1172.99 857.20,1172.96 857.50,1172.94 858.70,1172.93 859.00,1172.96 859.30,1172.99 859.60,1173.03 859.90,1173.07 860.20,1173.12 860.50,1173.15 860.80,1173.18 861.10,1173.21 862.60,1173.21 862.90,1173.19 863.20,1173.16 863.50,1173.13 863.80,1173.09 864.10,1173.05 864.40,1173.01 864.70,1172.96 865.00,1172.92 865.30,1172.88 865.60,1172.84 865.90,1172.81 866.20,1172.79 867.40,1172.79 867.70,1172.81 868.00,1172.84 868.30,1172.88 868.60,1172.91 868.90,1172.95 869.20,1172.99 869.50,1173.02 869.80,1173.04 871.30,1173.04 871.60,1173.02 871.90,1172.98 872.20,1172.94 872.50,1172.89 872.80,1172.84 873.10,1172.78 873.40,1172.73 873.70,1172.67 874.00,1172.62 874.30,1172.57 874.60,1172.53 874.90,1172.50 875.20,1172.48 876.10,1172.48 876.40,1172.50 876.70,1172.53 877.00,1172.58 877.30,1172.62 877.60,1172.68 877.90,1172.74 878.20,1172.79 878.50,1172.85 878.80,1172.91 879.10,1172.95 879.40,1172.99 880.00,1172.99 880.30,1172.94 880.60,1172.81 880.90,1172.58 881.20,1172.19 881.50,1171.59 881.80,1170.71 882.10,1169.46 882.40,1167.79 882.70,1165.64 883.00,1163.00 883.30,1159.92 883.60,1156.51 883.90,1152.95 884.20,1149.48 884.50,1146.37 884.80,1143.91 885.10,1142.32 885.40,1141.76 885.70,1142.30 886.00,1143.87 886.30,1146.32 886.60,1149.41 886.90,1152.88 887.20,1156.43 887.50,1159.84 887.80,1162.92 888.10,1165.57 888.40,1167.73 888.70,1169.42 889.00,1170.68 889.30,1171.59 889.60,1172.22 889.90,1172.64 890.20,1172.90 890.50,1173.07 890.80,1173.17 891.10,1173.23 891.40,1173.26 894.10,1173.24 894.40,1173.22 894.70,1173.19 895.00,1173.15 895.30,1173.09 895.60,1173.01 895.90,1172.89 896.20,1172.71 896.50,1172.45 896.80,1172.07 897.10,1171.55 897.40,1170.85 897.70,1169.99 898.00,1169.00 898.30,1167.93 898.60,1166.87 898.90,1165.94 899.20,1165.22 899.50,1164.77 899.80,1164.58 900.10,1164.59 900.40,1164.69 900.70,1164.79 901.00,1164.80 901.30,1164.69 901.60,1164.50 901.90,1164.33 902.20,1164.28 902.50,1164.46 902.80,1164.92 903.10,1165.66 903.40,1166.59 903.70,1167.59 904.00,1168.52 904.30,1169.22 904.60,1169.60 904.90,1169.54 905.20,1169.01 905.50,1168.00 905.80,1166.52 906.10,1164.67 906.40,1162.54 906.70,1160.32 907.00,1158.20 907.30,1156.39 907.60,1155.08 907.90,1154.43 908.20,1154.51 908.50,1155.30 908.80,1156.72 909.10,1158.61 909.40,1160.77 909.70,1163.02 910.00,1165.17 910.30,1167.11 910.60,1168.75 910.90,1170.07 911.20,1171.08 911.50,1171.82 911.80,1172.35 912.10,1172.70 912.40,1172.93 912.70,1173.08 913.00,1173.17 913.30,1173.22 913.60,1173.25 918.10,1173.26 918.40,1173.24 918.70,1173.20 919.00,1173.15 919.30,1173.09 919.60,1173.00 919.90,1172.91 920.20,1172.79 920.50,1172.66 920.80,1172.53 921.10,1172.38 921.40,1172.21 921.70,1172.02 922.00,1171.78 922.30,1171.44 922.60,1170.97 922.90,1170.30 923.20,1169.40 923.50,1168.21 923.80,1166.72 924.10,1164.96 924.40,1162.98 924.70,1160.90 925.00,1158.85 925.30,1157.01 925.60,1155.55 925.90,1154.61 926.20,1154.29 926.50,1154.62 926.80,1155.59 927.10,1157.08 927.40,1158.96 927.70,1161.06 928.00,1163.21 928.30,1165.27 928.60,1167.13 928.90,1168.72 929.20,1170.02 929.50,1171.04 929.80,1171.79 930.10,1172.33 930.40,1172.69 930.70,1172.94 931.00,1173.09 931.30,1173.18 931.60,1173.24 931.90,1173.27 938.80,1173.26 939.10,1173.23 939.40,1173.15 939.70,1173.02 940.00,1172.79 940.30,1172.40 940.60,1171.78 940.90,1170.83 941.20,1169.44 941.50,1167.51 941.80,1164.95 942.10,1161.73 942.40,1157.89 942.70,1153.59 943.00,1149.08 943.30,1144.69 943.60,1140.83 943.90,1137.89 944.20,1136.19 944.50,1135.92 944.80,1137.12 945.10,1139.64 945.40,1143.19 945.70,1147.40 946.00,1151.86 946.30,1156.21 946.60,1160.17 946.90,1163.54 947.20,1166.26 947.50,1168.33 947.80,1169.82 948.10,1170.85 948.40,1171.51 948.70,1171.92 949.00,1172.15 949.30,1172.27 949.60,1172.33 952.30,1172.37 952.60,1172.40 952.90,1172.42 953.20,1172.46 953.50,1172.49 953.80,1172.53 954.10,1172.58 954.40,1172.63 954.70,1172.69 955.00,1172.74 955.30,1172.80 955.60,1172.86 955.90,1172.91 956.20,1172.96 956.50,1173.01 956.80,1173.05 957.10,1173.09 957.40,1173.11 957.70,1173.12 958.00,1173.09 958.30,1173.01 958.60,1172.84 958.90,1172.53 959.20,1172.00 959.50,1171.13 959.80,1169.79 960.10,1167.83 960.40,1165.09 960.70,1161.46 961.00,1156.89 961.30,1151.44 961.60,1145.32 961.90,1138.90 962.20,1132.64 962.50,1127.13 962.80,1122.93 963.10,1120.48 963.40,1120.07 963.70,1121.74 964.00,1125.29 964.30,1130.31 964.60,1136.26 964.90,1142.59 965.20,1148.76 965.50,1154.38 965.80,1159.19 966.10,1163.08 966.40,1166.08 966.70,1168.28 967.00,1169.83 967.30,1170.89 967.60,1171.59 967.90,1172.05 968.20,1172.36 968.50,1172.57 968.80,1172.72 969.10,1172.84 969.40,1172.93 969.70,1173.01 970.00,1173.07 970.30,1173.11 970.60,1173.15 970.90,1173.17 972.40,1173.15 972.70,1173.13 973.00,1173.11 973.30,1173.09 973.60,1173.06 973.90,1173.04 974.20,1173.02 976.60,1172.96 976.90,1172.91 977.20,1172.79 977.50,1172.54 977.80,1172.06 978.10,1171.20 978.40,1169.75 978.70,1167.40 979.00,1163.79 979.30,1158.50 979.60,1151.13 979.90,1141.35 980.20,1129.04 980.50,1114.36 980.80,1097.89 981.10,1080.58 981.40,1063.78 981.70,1048.99 982.00,1037.74 982.30,1031.26 982.60,1030.31 982.90,1034.99 983.20,1044.77 983.50,1058.53 983.80,1074.83 984.10,1092.12 984.40,1108.99 984.70,1124.33 985.00,1137.45 985.30,1148.04 985.60,1156.16 985.90,1162.06 986.20,1166.14 986.50,1168.81 986.80,1170.46 987.10,1171.43 987.40,1171.94 987.70,1172.17 988.00,1172.24 988.30,1172.23 988.60,1172.17 988.90,1172.09 989.20,1172.02 989.50,1171.95 989.80,1171.89 990.10,1171.85 990.40,1171.83 991.00,1171.83 991.30,1171.87 991.60,1171.91 991.90,1171.98 992.20,1172.05 992.50,1172.13 992.80,1172.22 993.10,1172.32 993.40,1172.41 993.70,1172.51 994.00,1172.60 994.30,1172.69 994.60,1172.77 994.90,1172.85 995.20,1172.92 995.50,1172.98 995.80,1173.04 996.10,1173.09 996.40,1173.13 996.70,1173.17 997.00,1173.19 997.30,1173.22 1004.80,1173.28 1005.10,1173.25 1005.40,1173.21 1005.70,1173.14 1006.00,1173.02 1006.30,1172.83 1006.60,1172.55 1006.90,1172.14 1007.20,1171.58 1007.50,1170.86 1007.80,1169.96 1008.10,1168.91 1008.40,1167.75 1008.70,1166.57 1009.00,1165.45 1009.30,1164.51 1009.60,1163.84 1009.90,1163.52 1010.20,1163.59 1010.50,1164.03 1010.80,1164.80 1011.10,1165.81 1011.40,1166.96 1011.70,1168.14 1012.00,1169.27 1012.30,1170.28 1012.60,1171.12 1012.90,1171.79 1013.20,1172.29 1013.50,1172.66 1013.80,1172.90 1014.10,1173.07 1014.40,1173.17 1014.70,1173.23 1015.00,1173.26 1016.80,1173.27 1017.10,1173.24 1017.40,1173.19 1017.70,1173.09 1018.00,1172.90 1018.30,1172.57 1018.60,1172.01 1018.90,1171.07 1019.20,1169.57 1019.50,1167.29 1019.80,1163.98 1020.10,1159.37 1020.40,1153.27 1020.70,1145.61 1021.00,1136.48 1021.30,1126.25 1021.60,1115.50 1021.90,1105.05 1022.20,1095.85 1022.50,1088.84 1022.80,1084.77 1023.10,1084.12 1023.40,1086.95 1023.70,1092.93 1024.00,1101.37 1024.30,1111.40 1024.60,1122.04 1024.90,1132.43 1025.20,1141.90 1025.50,1150.01 1025.80,1156.58 1026.10,1161.63 1026.40,1165.33 1026.70,1167.92 1027.00,1169.65 1027.30,1170.77 1027.60,1171.48 1027.90,1171.91 1028.20,1172.18 1028.50,1172.35 1028.80,1172.47 1029.10,1172.55 1029.40,1172.62 1029.70,1172.68 1030.00,1172.73 1030.30,1172.76 1030.90,1172.76 1031.20,1172.71 1031.50,1172.60 1031.80,1172.42 1032.10,1172.17 1032.40,1171.83 1032.70,1171.41 1033.00,1170.93 1033.30,1170.40 1033.60,1169.87 1033.90,1169.37 1034.20,1168.94 1034.50,1168.63 1034.80,1168.45 1035.10,1168.42 1035.40,1168.53 1035.70,1168.76 1036.00,1169.08 1036.30,1169.46 1036.60,1169.88 1036.90,1170.30 1037.20,1170.72 1037.50,1171.11 1037.80,1171.47 1038.10,1171.80 1038.40,1172.08 1038.70,1172.34 1039.00,1172.55 1039.30,1172.72 1039.60,1172.87 1039.90,1172.98 1040.20,1173.06 1040.50,1173.11 1040.80,1173.14 1041.10,1173.14 1041.40,1173.10 1041.70,1173.02 1042.00,1172.87 1042.30,1172.65 1042.60,1172.33 1042.90,1171.89 1043.20,1171.31 1043.50,1170.58 1043.80,1169.72 1044.10,1168.75 1044.40,1167.72 1044.70,1166.68 1045.00,1165.73 1045.30,1164.93 1045.60,1164.37 1045.90,1164.10 1046.20,1164.15 1046.50,1164.51 1046.80,1165.13 1047.10,1165.97 1047.40,1166.94 1047.70,1167.96 1048.00,1168.95 1048.30,1169.86 1048.60,1170.65 1048.90,1171.30 1049.20,1171.81 1049.50,1172.19 1049.80,1172.46 1050.10,1172.66 1050.40,1172.79 1050.70,1172.89 1051.00,1172.96 1051.30,1173.01 1051.60,1173.05 1051.90,1173.09 1052.20,1173.13 1052.50,1173.16 1052.80,1173.19 1053.10,1173.21 1053.40,1173.23 1060.30,1173.25 1060.60,1173.23 1060.90,1173.20 1061.20,1173.17 1061.50,1173.14 1061.80,1173.10 1062.10,1173.05 1062.40,1172.99 1062.70,1172.91 1063.00,1172.77 1063.30,1172.55 1063.60,1172.18 1063.90,1171.56 1064.20,1170.58 1064.50,1169.06 1064.80,1166.85 1065.10,1163.75 1065.40,1159.65 1065.70,1154.48 1066.00,1148.31 1066.30,1141.38 1066.60,1134.11 1066.90,1127.03 1067.20,1120.80 1067.50,1116.04 1067.80,1113.29 1068.10,1112.85 1068.40,1114.77 1068.70,1118.83 1069.00,1124.57 1069.30,1131.39 1069.60,1138.63 1069.90,1145.70 1070.20,1152.14 1070.50,1157.65 1070.80,1162.10 1071.10,1165.49 1071.40,1167.92 1071.70,1169.53 1072.00,1170.47 1072.30,1170.89 1072.60,1170.92 1072.90,1170.65 1073.20,1170.18 1073.50,1169.60 1073.80,1169.00 1074.10,1168.46 1074.40,1168.06 1074.70,1167.86 1075.00,1167.88 1075.30,1168.13 1075.60,1168.55 1075.90,1169.11 1076.20,1169.72 1076.50,1170.32 1076.80,1170.86 1077.10,1171.31 1077.40,1171.66 1077.70,1171.91 1078.00,1172.07 1078.30,1172.17 1078.60,1172.23 1078.90,1172.27 1079.20,1172.31 1079.50,1172.36 1079.80,1172.41 1080.10,1172.48 1080.40,1172.56 1080.70,1172.64 1081.00,1172.73 1081.30,1172.81 1081.60,1172.90 1081.90,1172.97 1082.20,1173.04 1082.50,1173.10 1082.80,1173.14 1083.10,1173.18 1083.40,1173.21 1084.30,1173.21 1084.60,1173.16 1084.90,1173.09 1085.20,1172.96 1085.50,1172.76 1085.80,1172.46 1086.10,1172.04 1086.40,1171.46 1086.70,1170.70 1087.00,1169.73 1087.30,1168.55 1087.60,1167.17 1087.90,1165.64 1088.20,1164.02 1088.50,1162.40 1088.80,1160.89 1089.10,1159.60 1089.40,1158.65 1089.70,1158.11 1090.00,1158.03 1090.30,1158.42 1090.60,1159.24 1090.90,1160.43 1091.20,1161.88 1091.50,1163.47 1091.80,1165.11 1092.10,1166.68 1092.40,1168.11 1092.70,1169.36 1093.00,1170.40 1093.30,1171.23 1093.60,1171.87 1093.90,1172.34 1094.20,1172.68 1094.50,1172.91 1094.80,1173.06 1095.10,1173.16 1095.40,1173.22 1095.70,1173.25 1096.60,1173.25 1096.90,1173.23 1097.20,1173.18 1097.50,1173.10 1097.80,1172.99 1098.10,1172.83 1098.40,1172.63 1098.70,1172.38 1099.00,1172.10 1099.30,1171.80 1099.60,1171.51 1099.90,1171.26 1100.20,1171.07 1100.50,1170.97 1100.80,1170.98 1101.10,1171.08 1101.40,1171.27 1101.70,1171.51 1102.00,1171.78 1102.30,1172.05 1102.60,1172.30 1102.90,1172.51 1103.20,1172.68 1103.50,1172.81 1103.80,1172.90 1104.10,1172.97 1104.40,1173.01 1104.70,1173.05 1105.00,1173.08 1105.30,1173.10 1107.10,1173.10 1107.40,1173.08 1107.70,1173.05 1108.00,1173.03 1108.30,1173.00 1108.60,1172.97 1108.90,1172.95 1109.20,1172.93 1110.70,1172.87 1111.00,1172.84 1111.30,1172.78 1111.60,1172.67 1111.90,1172.48 1112.20,1172.16 1112.50,1171.64 1112.80,1170.86 1113.10,1169.72 1113.40,1168.12 1113.70,1165.98 1114.00,1163.23 1114.30,1159.82 1114.60,1155.78 1114.90,1151.20 1115.20,1146.27 1115.50,1141.23 1115.80,1136.41 1116.10,1132.16 1116.40,1128.82 1116.70,1126.67 1117.00,1125.91 1117.30,1126.60 1117.60,1128.68 1117.90,1131.96 1118.20,1136.15 1118.50,1140.93 1118.80,1145.93 1119.10,1150.85 1119.40,1155.43 1119.70,1159.48 1120.00,1162.92 1120.30,1165.71 1120.60,1167.89 1120.90,1169.53 1121.20,1170.73 1121.50,1171.56 1121.80,1172.13 1122.10,1172.49 1122.40,1172.71 1122.70,1172.84 1123.00,1172.90 1123.60,1172.90 1123.90,1172.86 1124.20,1172.79 1124.50,1172.69 1124.80,1172.56 1125.10,1172.40 1125.40,1172.18 1125.70,1171.92 1126.00,1171.60 1126.30,1171.24 1126.60,1170.84 1126.90,1170.42 1127.20,1170.02 1127.50,1169.67 1127.80,1169.39 1128.10,1169.23 1128.40,1169.19 1128.70,1169.29 1129.00,1169.51 1129.30,1169.84 1129.60,1170.25 1129.90,1170.70 1130.20,1171.16 1130.50,1171.60 1130.80,1172.00 1131.10,1172.33 1131.40,1172.61 1131.70,1172.82 1132.00,1172.98 1132.30,1173.09 1132.60,1173.17 1132.90,1173.22 1133.20,1173.26 1136.80,1173.26 1137.10,1173.24 1137.40,1173.21 1137.70,1173.16 1138.00,1173.11 1138.30,1173.04 1138.60,1172.96 1138.90,1172.86 1139.20,1172.74 1139.50,1172.61 1139.80,1172.44 1140.10,1172.21 1140.40,1171.85 1140.70,1171.28 1141.00,1170.31 1141.30,1168.70 1141.60,1166.09 1141.90,1162.04 1142.20,1156.00 1142.50,1147.42 1142.80,1135.83 1143.10,1120.95 1143.40,1102.86 1143.70,1082.10 1144.00,1059.78 1144.30,1037.47 1144.60,1017.11 1144.90,1000.72 1145.20,990.07 1145.50,986.38 1145.80,990.09 1146.10,1000.76 1146.40,1017.18 1146.70,1037.58 1147.00,1059.94 1147.30,1082.33 1147.60,1103.15 1147.90,1121.33 1148.20,1136.31 1148.50,1148.01 1148.80,1156.68 1149.10,1162.81 1149.40,1166.94 1149.70,1169.59 1150.00,1171.22 1150.30,1172.18 1150.60,1172.71 1150.90,1173.00 1151.20,1173.14 1151.50,1173.20 1151.80,1173.22 1152.10,1173.22 1152.40,1173.20 1152.70,1173.17 1153.00,1173.12 1153.30,1173.06 1153.60,1172.98 1153.90,1172.88 1154.20,1172.75 1154.50,1172.58 1154.80,1172.34 1155.10,1172.02 1155.40,1171.61 1155.70,1171.07 1156.00,1170.42 1156.30,1169.65 1156.60,1168.79 1156.90,1167.91 1157.20,1167.08 1157.50,1166.38 1157.80,1165.91 1158.10,1165.72 1158.40,1165.85 1158.70,1166.29 1159.00,1166.97 1159.30,1167.83 1159.60,1168.77 1159.90,1169.70 1160.20,1170.55 1160.50,1171.27 1160.80,1171.84 1161.10,1172.26 1161.40,1172.54 1161.70,1172.70 1162.00,1172.75 1162.30,1172.70 1162.60,1172.54 1162.90,1172.26 1163.20,1171.83 1163.50,1171.23 1163.80,1170.43 1164.10,1169.45 1164.40,1168.30 1164.70,1167.06 1165.00,1165.82 1165.30,1164.72 1165.60,1163.87 1165.90,1163.38 1166.20,1163.32 1166.50,1163.70 1166.80,1164.45 1167.10,1165.49 1167.40,1166.68 1167.70,1167.89 1168.00,1169.03 1168.30,1170.01 1168.60,1170.79 1168.90,1171.39 1169.20,1171.82 1169.50,1172.12 1169.80,1172.33 1170.10,1172.49 1170.40,1172.62 1170.70,1172.73 1171.00,1172.84 1171.30,1172.93 1171.60,1173.02 1171.90,1173.09 1172.20,1173.15 1172.50,1173.20 1172.80,1173.24 1173.10,1173.26 1194.70,1173.24 1195.00,1173.22 1195.30,1173.19 1195.60,1173.15 1195.90,1173.09 1196.20,1173.02 1196.50,1172.90 1196.80,1172.73 1197.10,1172.46 1197.40,1172.00 1197.70,1171.23 1198.00,1169.95 1198.30,1167.89 1198.60,1164.65 1198.90,1159.76 1199.20,1152.62 1199.50,1142.63 1199.80,1129.22 1200.10,1112.00 1200.40,1090.86 1200.70,1066.16 1201.00,1038.80 1201.30,1010.23 1201.60,982.36 1201.90,957.43 1202.20,937.65 1202.50,924.92 1202.80,920.54 1203.10,924.96 1203.40,937.73 1203.70,957.56 1204.00,982.54 1204.30,1010.46 1204.60,1039.09 1204.90,1066.51 1205.20,1091.26 1205.50,1112.45 1205.80,1129.73 1206.10,1143.17 1206.40,1153.19 1206.70,1160.33 1207.00,1165.22 1207.30,1168.43 1207.60,1170.45 1207.90,1171.67 1208.20,1172.37 1208.50,1172.75 1208.80,1172.93 1209.10,1173.01 1209.40,1173.02 1209.70,1172.99 1210.00,1172.95 1210.30,1172.90 1210.60,1172.85 1210.90,1172.79 1211.20,1172.75 1211.50,1172.71 1211.80,1172.68 1212.70,1172.69 1213.00,1172.72 1213.30,1172.76 1213.60,1172.81 1213.90,1172.86 1214.20,1172.92 1214.50,1172.97 1214.80,1173.03 1215.10,1173.07 1215.40,1173.11 1216.00,1173.12 1216.30,1173.07 1216.60,1172.96 1216.90,1172.75 1217.20,1172.38 1217.50,1171.78 1217.80,1170.84 1218.10,1169.46 1218.40,1167.49 1218.70,1164.81 1219.00,1161.32 1219.30,1156.97 1219.60,1151.80 1219.90,1145.97 1220.20,1139.76 1220.50,1133.55 1220.80,1127.81 1221.10,1123.03 1221.40,1119.67 1221.70,1118.04 1222.00,1118.32 1222.30,1120.47 1222.60,1124.27 1222.90,1129.34 1223.20,1135.20 1223.50,1141.38 1223.80,1147.43 1224.10,1152.98 1224.40,1157.81 1224.70,1161.81 1225.00,1164.95 1225.30,1167.32 1225.60,1169.02 1225.90,1170.18 1226.20,1170.94 1226.50,1171.39 1226.80,1171.61 1227.10,1171.66 1227.40,1171.51 1227.70,1171.12 1228.00,1170.37 1228.30,1169.03 1228.60,1166.79 1228.90,1163.20 1229.20,1157.70 1229.50,1149.67 1229.80,1138.46 1230.10,1123.59 1230.40,1104.85 1230.70,1082.51 1231.00,1057.42 1231.30,1031.05 1231.60,1005.43 1231.90,982.88 1232.20,965.71 1232.50,955.81 1232.80,954.33 1233.10,961.42 1233.40,976.22 1233.70,997.01 1234.00,1021.52 1234.30,1047.27 1234.60,1071.97 1234.90,1093.77 1235.20,1111.46 1235.50,1124.49 1235.80,1132.91 1236.10,1137.31 1236.40,1138.61 1236.70,1137.98 1237.00,1136.59 1237.30,1135.50 1237.60,1135.48 1237.90,1136.94 1238.20,1139.92 1238.50,1144.10 1238.80,1149.00 1239.10,1154.04 1239.40,1158.72 1239.70,1162.69 1240.00,1165.75 1240.30,1167.87 1240.60,1169.08 1240.90,1169.50 1241.20,1169.21 1241.50,1168.30 1241.80,1166.83 1242.10,1164.84 1242.40,1162.41 1242.70,1159.61 1243.00,1156.57 1243.30,1153.46 1243.60,1150.46 1243.90,1147.81 1244.20,1145.72 1244.50,1144.34 1244.80,1143.82 1245.10,1144.18 1245.40,1145.39 1245.70,1147.33 1246.00,1149.85 1246.30,1152.73 1246.60,1155.76 1246.90,1158.77 1247.20,1161.58 1247.50,1164.11 1247.80,1166.27 1248.10,1168.07 1248.40,1169.50 1248.70,1170.60 1249.00,1171.43 1249.30,1172.03 1249.60,1172.46 1249.90,1172.73 1250.20,1172.90 1250.50,1172.95 1250.80,1172.89 1251.10,1172.66 1251.40,1172.18 1251.70,1171.30 1252.00,1169.79 1252.30,1167.33 1252.60,1163.48 1252.90,1157.70 1253.20,1149.38 1253.50,1137.88 1253.80,1122.67 1254.10,1103.41 1254.40,1080.17 1254.70,1053.48 1255.00,1024.48 1255.30,994.83 1255.60,966.67 1255.90,942.34 1256.20,924.05 1256.50,913.61 1256.80,912.07 1257.10,919.59 1257.40,935.40 1257.70,957.91 1258.00,985.02 1258.30,1014.37 1258.60,1043.75 1258.90,1071.30 1259.20,1095.71 1259.50,1116.25 1259.80,1132.72 1260.10,1145.34 1260.40,1154.58 1260.70,1161.08 1261.00,1165.45 1261.30,1168.28 1261.60,1170.04 1261.90,1171.09 1262.20,1171.67 1262.50,1171.95 1262.80,1172.02 1263.10,1171.90 1263.40,1171.58 1263.70,1170.99 1264.00,1170.04 1264.30,1168.63 1264.60,1166.62 1264.90,1163.89 1265.20,1160.33 1265.50,1155.91 1265.80,1150.68 1266.10,1144.79 1266.40,1138.53 1266.70,1132.28 1267.00,1126.53 1267.30,1121.76 1267.60,1118.44 1267.90,1116.89 1268.20,1117.28 1268.50,1119.57 1268.80,1123.54 1269.10,1128.80 1269.40,1134.88 1269.70,1141.26 1270.00,1147.51 1270.30,1153.26 1270.60,1158.26 1270.90,1162.40 1271.20,1165.67 1271.50,1168.14 1271.80,1169.93 1272.10,1171.17 1272.40,1171.98 1272.70,1172.50 1273.00,1172.82 1273.30,1172.99 1273.60,1173.08 1273.90,1173.12 1274.50,1173.10 1274.80,1173.08 1275.10,1173.05 1275.40,1173.01 1275.70,1172.98 1276.00,1172.94 1276.30,1172.91 1276.60,1172.88 1276.90,1172.86 1282.00,1172.88 1282.30,1172.86 1282.60,1172.84 1284.10,1172.83 1284.40,1172.85 1284.70,1172.88 1285.00,1172.92 1285.30,1172.96 1285.60,1173.00 1285.90,1173.04 1286.20,1173.08 1286.50,1173.11 1286.80,1173.13 1287.70,1173.12 1288.00,1173.09 1288.30,1173.04 1288.60,1172.95 1288.90,1172.82 1289.20,1172.62 1289.50,1172.32 1289.80,1171.87 1290.10,1171.22 1290.40,1170.30 1290.70,1169.06 1291.00,1167.44 1291.30,1165.42 1291.60,1163.01 1291.90,1160.30 1292.20,1157.40 1292.50,1154.51 1292.80,1151.83 1293.10,1149.60 1293.40,1148.03 1293.70,1147.28 1294.00,1147.42 1294.30,1148.43 1294.60,1150.22 1294.90,1152.60 1295.20,1155.36 1295.50,1158.25 1295.80,1161.08 1296.10,1163.67 1296.40,1165.92 1296.70,1167.77 1297.00,1169.22 1297.30,1170.31 1297.60,1171.10 1297.90,1171.64 1298.20,1172.00 1298.50,1172.24 1298.80,1172.38 1299.10,1172.45 1299.40,1172.45 1299.70,1172.38 1300.00,1172.20 1300.30,1171.89 1300.60,1171.41 1300.90,1170.71 1301.20,1169.78 1301.50,1168.63 1301.80,1167.31 1302.10,1165.90 1302.40,1164.53 1302.70,1163.35 1303.00,1162.50 1303.30,1162.09 1303.60,1162.19 1303.90,1162.78 1304.20,1163.78 1304.50,1165.06 1304.80,1166.49 1305.10,1167.92 1305.40,1169.22 1305.70,1170.30 1306.00,1171.11 1306.30,1171.61 1306.60,1171.73 1306.90,1171.40 1307.20,1170.46 1307.50,1168.71 1307.80,1165.81 1308.10,1161.37 1308.40,1154.95 1308.70,1146.13 1309.00,1134.62 1309.30,1120.40 1309.60,1103.77 1309.90,1085.50 1310.20,1066.77 1310.50,1049.10 1310.80,1034.17 1311.10,1023.55 1311.40,1018.42 1311.70,1019.37 1312.00,1026.29 1312.30,1038.36 1312.60,1054.25 1312.90,1072.32 1313.20,1090.93 1313.50,1108.65 1313.80,1124.44 1314.10,1137.68 1314.40,1148.20 1314.70,1156.12 1315.00,1161.80 1315.30,1165.68 1315.60,1168.18 1315.90,1169.70 1316.20,1170.54 1316.50,1170.90 1316.80,1170.92 1317.10,1170.69 1317.40,1170.23 1317.70,1169.58 1318.00,1168.76 1318.30,1167.83 1318.60,1166.83 1318.90,1165.87 1319.20,1165.02 1319.50,1164.39 1319.80,1164.05 1320.10,1164.05 1320.40,1164.40 1320.70,1165.06 1321.00,1165.96 1321.30,1167.01 1321.60,1168.13 1321.90,1169.21 1322.20,1170.19 1322.50,1171.02 1322.80,1171.70 1323.10,1172.22 1323.40,1172.60 1323.70,1172.86 1324.00,1173.04 1324.30,1173.15 1324.60,1173.22 1324.90,1173.26 1325.20,1173.28 1332.40,1173.24 1332.70,1173.21 1333.00,1173.18 1333.30,1173.15 1333.60,1173.11 1333.90,1173.07 1334.20,1173.03 1334.50,1172.98 1334.80,1172.95 1335.10,1172.92 1335.40,1172.89 1337.20,1172.88 1337.50,1172.82 1337.80,1172.71 1338.10,1172.49 1338.40,1172.13 1338.70,1171.56 1339.00,1170.72 1339.30,1169.54 1339.60,1167.97 1339.90,1165.98 1340.20,1163.56 1340.50,1160.79 1340.80,1157.77 1341.10,1154.68 1341.40,1151.74 1341.70,1149.21 1342.00,1147.30 1342.30,1146.21 1342.60,1146.05 1342.90,1146.84 1343.20,1148.49 1343.50,1150.84 1343.80,1153.67 1344.10,1156.74 1344.40,1159.81 1344.70,1162.69 1345.00,1165.25 1345.30,1167.40 1345.60,1169.12 1345.90,1170.44 1346.20,1171.42 1346.50,1172.10 1346.80,1172.56 1347.10,1172.86 1347.40,1173.05 1347.70,1173.16 1348.00,1173.23 1348.30,1173.26 1353.40,1173.18 1353.70,1173.16 1354.00,1173.14 1354.30,1173.12 1354.60,1173.09 1354.90,1173.07 1355.20,1173.05 1355.50,1173.02 1355.80,1172.99 1356.10,1172.96 1356.40,1172.92 1356.70,1172.86 1357.00,1172.76 1357.30,1172.61 1357.60,1172.38 1357.90,1172.06 1358.20,1171.61 1358.50,1171.03 1358.80,1170.32 1359.10,1169.51 1359.40,1168.65 1359.70,1167.82 1360.00,1167.11 1360.30,1166.61 1360.60,1166.38 1360.90,1166.45 1361.20,1166.82 1361.50,1167.44 1361.80,1168.24 1362.10,1169.12 1362.40,1170.00 1362.70,1170.81 1363.00,1171.50 1363.30,1172.05 1363.60,1172.46 1363.90,1172.72 1364.20,1172.86 1364.50,1172.86 1364.80,1172.72 1365.10,1172.39 1365.40,1171.79 1365.70,1170.85 1366.00,1169.43 1366.30,1167.41 1366.60,1164.69 1366.90,1161.20 1367.20,1156.97 1367.50,1152.13 1367.80,1146.92 1368.10,1141.71 1368.40,1136.97 1368.70,1133.14 1369.00,1130.66 1369.30,1129.80 1369.60,1130.66 1369.90,1133.14 1370.20,1136.96 1370.50,1141.71 1370.80,1146.91 1371.10,1152.12 1371.40,1156.96 1371.70,1161.18 1372.00,1164.66 1372.30,1167.36 1372.60,1169.36 1372.90,1170.77 1373.20,1171.70 1373.50,1172.30 1373.80,1172.65 1374.10,1172.84 1374.40,1172.94 1374.70,1172.99 1375.00,1173.01 1376.20,1173.06 1376.50,1173.09 1376.80,1173.11 1377.10,1173.14 1377.40,1173.17 1377.70,1173.20 1378.00,1173.22 1378.30,1173.24 1383.10,1173.25 1383.40,1173.23 1383.70,1173.20 1384.00,1173.17 1384.30,1173.13 1384.60,1173.09 1384.90,1173.04 1385.20,1173.00 1385.50,1172.97 1385.80,1172.94 1387.60,1172.94 1387.90,1172.90 1388.20,1172.79 1388.50,1172.60 1388.80,1172.30 1389.10,1171.86 1389.40,1171.28 1389.70,1170.57 1390.00,1169.75 1390.30,1168.87 1390.60,1168.03 1390.90,1167.30 1391.20,1166.77 1391.50,1166.52 1391.80,1166.57 1392.10,1166.91 1392.40,1167.51 1392.70,1168.27 1393.00,1169.11 1393.30,1169.90 1393.60,1170.57 1393.90,1171.03 1394.20,1171.18 1394.50,1170.94 1394.80,1170.23 1395.10,1168.93 1395.40,1166.94 1395.70,1164.15 1396.00,1160.54 1396.30,1156.11 1396.60,1151.03 1396.90,1145.55 1397.20,1140.06 1397.50,1135.05 1397.80,1130.99 1398.10,1128.33 1398.40,1127.35 1398.70,1128.17 1399.00,1130.67 1399.30,1134.57 1399.60,1139.44 1399.90,1144.79 1400.20,1150.15 1400.50,1155.13 1400.80,1159.49 1401.10,1163.08 1401.40,1165.88 1401.70,1167.98 1402.00,1169.47 1402.30,1170.50 1402.60,1171.18 1402.90,1171.64 1403.20,1171.95 1403.50,1172.17 1403.80,1172.34 1404.10,1172.47 1404.40,1172.59 1404.70,1172.70 1405.00,1172.79 1405.30,1172.87 1405.60,1172.94 1405.90,1172.98 1406.20,1173.00 1406.50,1172.97 1406.80,1172.87 1407.10,1172.69 1407.40,1172.37 1407.70,1171.89 1408.00,1171.19 1408.30,1170.25 1408.60,1169.03 1408.90,1167.55 1409.20,1165.85 1409.50,1164.02 1409.80,1162.19 1410.10,1160.52 1410.40,1159.18 1410.70,1158.30 1411.00,1158.00 1411.30,1158.30 1411.30,1158.30" fill="none" stroke="#d4d4d4" stroke-width="2.9" stroke-linejoin="round"/>
<path d="M99.40,1173.13 99.70,1173.09 100.00,1173.05 100.30,1173.01 100.60,1172.97 100.90,1172.92 101.20,1172.88 101.50,1172.83 101.80,1172.79 102.10,1172.75 102.40,1172.72 102.70,1172.69 103.00,1172.67 106.00,1172.59 106.30,1172.56 106.60,1172.53 106.90,1172.48 107.20,1172.44 107.50,1172.39 107.80,1172.33 108.10,1172.29 108.40,1172.24 108.70,1172.21 109.00,1172.19 109.60,1172.19 109.90,1172.22 110.20,1172.26 110.50,1172.31 110.80,1172.38 111.10,1172.45 111.40,1172.53 111.70,1172.62 112.00,1172.70 112.30,1172.78 112.60,1172.86 112.90,1172.93 113.20,1173.00 113.50,1173.06 113.80,1173.11 114.10,1173.15 114.40,1173.19 114.70,1173.21 115.00,1173.24 118.00,1173.25 118.30,1173.23 118.60,1173.20 118.90,1173.16 119.20,1173.12 119.50,1173.06 119.80,1172.99 120.10,1172.91 120.40,1172.81 120.70,1172.69 121.00,1172.56 121.30,1172.42 121.60,1172.26 121.90,1172.10 122.20,1171.94 122.50,1171.79 122.80,1171.64 123.10,1171.52 123.40,1171.41 123.70,1171.33 124.00,1171.29 125.20,1171.29 125.50,1171.26 125.80,1171.13 126.10,1170.83 126.40,1170.25 126.70,1169.26 127.00,1167.72 127.30,1165.50 127.60,1162.50 127.90,1158.72 128.20,1154.28 128.50,1149.43 128.80,1144.58 129.10,1140.20 129.40,1136.82 129.70,1134.85 130.00,1134.56 130.30,1135.98 130.60,1138.91 130.90,1142.96 131.20,1147.60 131.50,1152.30 131.80,1156.58 132.10,1160.03 132.40,1162.39 132.70,1163.48 133.00,1163.22 133.30,1161.57 133.60,1158.59 133.90,1154.39 134.20,1149.23 134.50,1143.50 134.80,1137.74 135.10,1132.55 135.40,1128.56 135.70,1126.29 136.00,1126.07 136.30,1127.92 136.60,1131.63 136.90,1136.72 137.20,1142.60 137.50,1148.65 137.80,1154.36 138.10,1159.36 138.40,1163.44 138.70,1166.57 139.00,1168.84 139.30,1170.39 139.60,1171.39 139.90,1171.99 140.20,1172.34 140.50,1172.52 140.80,1172.58 141.10,1172.56 141.40,1172.46 141.70,1172.24 142.00,1171.87 142.30,1171.28 142.60,1170.39 142.90,1169.12 143.20,1167.39 143.50,1165.18 143.80,1162.48 144.10,1159.38 144.40,1156.04 144.70,1152.71 145.00,1149.66 145.30,1147.19 145.60,1145.58 145.90,1145.01 146.20,1145.54 146.50,1147.10 146.80,1149.54 147.10,1152.57 147.40,1155.90 147.70,1159.26 148.00,1162.39 148.30,1165.13 148.60,1167.41 148.90,1169.20 149.20,1170.54 149.50,1171.50 149.80,1172.16 150.10,1172.59 150.40,1172.87 150.70,1173.04 151.00,1173.14 151.30,1173.19 151.60,1173.21 152.20,1173.21 152.50,1173.19 152.80,1173.16 153.10,1173.12 153.40,1173.07 153.70,1173.02 154.00,1172.96 154.30,1172.91 154.60,1172.86 154.90,1172.81 155.20,1172.78 156.10,1172.77 156.40,1172.80 156.70,1172.83 157.00,1172.86 157.30,1172.89 157.60,1172.90 157.90,1172.88 158.20,1172.81 158.50,1172.68 158.80,1172.46 159.10,1172.14 159.40,1171.70 159.70,1171.13 160.00,1170.43 160.30,1169.62 160.60,1168.74 160.90,1167.84 161.20,1166.98 161.50,1166.24 161.80,1165.68 162.10,1165.36 162.40,1165.32 162.70,1165.55 163.00,1166.03 163.30,1166.72 163.60,1167.55 163.90,1168.45 164.20,1169.35 164.50,1170.19 164.80,1170.94 165.10,1171.57 165.40,1172.08 165.70,1172.46 166.00,1172.75 166.30,1172.95 166.60,1173.08 166.90,1173.17 167.20,1173.23 167.50,1173.26 180.40,1173.27 180.70,1173.23 181.00,1173.15 181.30,1173.00 181.60,1172.72 181.90,1172.23 182.20,1171.39 182.50,1170.01 182.80,1167.88 183.10,1164.72 183.40,1160.24 183.70,1154.20 184.00,1146.47 184.30,1137.08 184.60,1126.33 184.90,1114.77 185.20,1103.23 185.50,1092.70 185.80,1084.22 186.10,1078.71 186.40,1076.80 186.70,1078.71 187.00,1084.22 187.30,1092.70 187.60,1103.23 187.90,1114.77 188.20,1126.33 188.50,1137.08 188.80,1146.47 189.10,1154.20 189.40,1160.24 189.70,1164.72 190.00,1167.88 190.30,1170.01 190.60,1171.39 190.90,1172.23 191.20,1172.72 191.50,1173.00 191.80,1173.15 192.10,1173.23 192.40,1173.27 193.90,1173.27 194.20,1173.24 194.50,1173.18 194.80,1173.08 195.10,1172.91 195.40,1172.61 195.70,1172.15 196.00,1171.46 196.30,1170.46 196.60,1169.10 196.90,1167.31 197.20,1165.11 197.50,1162.54 197.80,1159.71 198.10,1156.81 198.40,1154.08 198.70,1151.77 199.00,1150.13 199.30,1149.34 199.60,1149.49 199.90,1150.56 200.20,1152.43 200.50,1154.90 200.80,1157.69 201.10,1160.56 201.40,1163.29 201.70,1165.71 202.00,1167.73 202.30,1169.32 202.60,1170.50 202.90,1171.32 203.20,1171.86 203.50,1172.18 203.80,1172.36 204.10,1172.43 204.40,1172.44 204.70,1172.42 205.00,1172.39 205.30,1172.35 205.60,1172.33 206.50,1172.31 206.80,1172.34 207.10,1172.38 207.40,1172.43 207.70,1172.49 208.00,1172.56 208.30,1172.63 208.60,1172.70 208.90,1172.78 209.20,1172.85 209.50,1172.92 209.80,1172.98 210.10,1173.04 210.40,1173.09 210.70,1173.13 211.00,1173.17 211.30,1173.19 211.60,1173.21 212.50,1173.22 212.80,1173.20 213.10,1173.15 213.40,1173.07 213.70,1172.92 214.00,1172.68 214.30,1172.29 214.60,1171.72 214.90,1170.88 215.20,1169.72 215.50,1168.21 215.80,1166.35 216.10,1164.19 216.40,1161.87 216.70,1159.55 217.00,1157.49 217.30,1155.90 217.60,1154.99 217.90,1154.88 218.20,1155.58 218.50,1157.00 218.80,1158.96 219.10,1161.23 219.40,1163.56 219.70,1165.76 220.00,1167.67 220.30,1169.23 220.60,1170.41 220.90,1171.24 221.20,1171.78 221.50,1172.09 221.80,1172.22 222.10,1172.20 222.40,1172.06 222.70,1171.77 223.00,1171.31 223.30,1170.61 223.60,1169.60 223.90,1168.24 224.20,1166.47 224.50,1164.33 224.80,1161.88 225.10,1159.30 225.40,1156.81 225.70,1154.68 226.00,1153.16 226.30,1152.47 226.60,1152.69 226.90,1153.80 227.20,1155.68 227.50,1158.08 227.80,1160.74 228.10,1163.40 228.40,1165.85 228.70,1167.94 229.00,1169.62 229.30,1170.88 229.60,1171.78 229.90,1172.38 230.20,1172.75 230.50,1172.95 230.80,1173.02 231.10,1172.96 231.40,1172.75 231.70,1172.33 232.00,1171.59 232.30,1170.37 232.60,1168.48 232.90,1165.66 233.20,1161.68 233.50,1156.30 233.80,1149.42 234.10,1141.06 234.40,1131.49 234.70,1121.20 235.00,1110.93 235.30,1101.55 235.60,1094.01 235.90,1089.10 236.20,1087.40 236.50,1089.10 236.80,1093.99 237.10,1101.52 237.40,1110.86 237.70,1121.08 238.00,1131.29 238.30,1140.74 238.60,1148.92 238.90,1155.55 239.20,1160.59 239.50,1164.15 239.80,1166.44 240.10,1167.73 240.40,1168.27 240.70,1168.30 241.00,1168.05 241.30,1167.68 241.60,1167.32 241.90,1167.08 242.20,1167.00 242.50,1167.13 242.80,1167.45 243.10,1167.94 243.40,1168.57 243.70,1169.26 244.00,1169.97 244.30,1170.65 244.60,1171.26 244.90,1171.79 245.20,1172.21 245.50,1172.54 245.80,1172.78 246.10,1172.95 246.40,1173.05 246.70,1173.09 247.00,1173.09 247.30,1173.05 247.60,1172.98 247.90,1172.87 248.20,1172.74 248.50,1172.58 248.80,1172.41 249.10,1172.24 249.40,1172.08 249.70,1171.95 250.00,1171.85 250.30,1171.80 250.60,1171.78 250.90,1171.80 251.20,1171.85 251.50,1171.93 251.80,1172.02 252.10,1172.12 252.40,1172.22 252.70,1172.32 253.00,1172.43 253.30,1172.53 253.60,1172.64 253.90,1172.73 254.20,1172.83 254.50,1172.91 254.80,1172.99 255.10,1173.05 255.40,1173.10 255.70,1173.14 256.00,1173.16 256.30,1173.16 256.60,1173.13 256.90,1173.05 257.20,1172.90 257.50,1172.65 257.80,1172.26 258.10,1171.69 258.40,1170.89 258.70,1169.82 259.00,1168.48 259.30,1166.89 259.60,1165.09 259.90,1163.21 260.20,1161.38 260.50,1159.77 260.80,1158.54 261.10,1157.84 261.40,1157.73 261.70,1158.24 262.00,1159.31 262.30,1160.80 262.60,1162.57 262.90,1164.43 263.20,1166.24 263.50,1167.87 263.80,1169.22 264.10,1170.25 264.40,1170.96 264.70,1171.35 265.00,1171.45 265.30,1171.30 265.60,1170.94 265.90,1170.43 266.20,1169.83 266.50,1169.20 266.80,1168.61 267.10,1168.12 267.40,1167.81 267.70,1167.70 268.00,1167.81 268.30,1168.13 268.60,1168.62 268.90,1169.23 269.20,1169.90 269.50,1170.58 269.80,1171.20 270.10,1171.74 270.40,1172.19 270.70,1172.54 271.00,1172.80 271.30,1172.99 271.60,1173.11 271.90,1173.19 272.20,1173.23 272.80,1173.24 273.10,1173.20 273.40,1173.12 273.70,1172.97 274.00,1172.70 274.30,1172.27 274.60,1171.61 274.90,1170.65 275.20,1169.32 275.50,1167.60 275.80,1165.49 276.10,1163.07 276.40,1160.50 276.70,1157.98 277.00,1155.74 277.30,1154.00 277.60,1152.91 277.90,1152.51 278.20,1152.71 278.50,1153.34 278.80,1154.15 279.10,1154.90 279.40,1155.40 279.70,1155.59 280.00,1155.52 280.30,1155.34 280.60,1155.27 280.90,1155.50 281.20,1156.19 281.50,1157.39 281.80,1159.04 282.10,1161.02 282.40,1163.14 282.70,1165.22 283.00,1167.12 283.30,1168.72 283.60,1170.00 283.90,1170.95 284.20,1171.62 284.50,1172.08 284.80,1172.37 285.10,1172.54 285.40,1172.63 285.70,1172.63 286.00,1172.52 286.30,1172.28 286.60,1171.86 286.90,1171.17 287.20,1170.14 287.50,1168.71 287.80,1166.82 288.10,1164.48 288.40,1161.73 288.70,1158.69 289.00,1155.57 289.30,1152.61 289.60,1150.09 289.90,1148.27 290.20,1147.35 290.50,1147.43 290.80,1148.47 291.10,1150.37 291.40,1152.90 291.70,1155.79 292.00,1158.78 292.30,1161.64 292.60,1164.21 292.90,1166.38 293.20,1168.12 293.50,1169.47 293.80,1170.47 294.10,1171.20 294.40,1171.71 294.70,1172.08 295.00,1172.34 295.30,1172.53 295.60,1172.68 295.90,1172.80 296.20,1172.89 296.50,1172.96 296.80,1173.02 297.10,1173.07 297.40,1173.11 297.70,1173.13 298.30,1173.12 298.60,1173.07 298.90,1172.97 299.20,1172.81 299.50,1172.58 299.80,1172.24 300.10,1171.78 300.40,1171.21 300.70,1170.52 301.00,1169.75 301.30,1168.93 301.60,1168.13 301.90,1167.42 302.20,1166.88 302.50,1166.54 302.80,1166.47 303.10,1166.64 303.40,1167.05 303.70,1167.63 304.00,1168.31 304.30,1169.02 304.60,1169.67 304.90,1170.20 305.20,1170.53 305.50,1170.62 305.80,1170.41 306.10,1169.86 306.40,1168.97 306.70,1167.74 307.00,1166.22 307.30,1164.53 307.60,1162.79 307.90,1161.15 308.20,1159.75 308.50,1158.66 308.80,1157.88 309.10,1157.37 309.40,1157.04 309.70,1156.83 310.00,1156.70 310.30,1156.71 310.60,1156.93 310.90,1157.45 311.20,1158.32 311.50,1159.46 311.80,1160.64 312.10,1161.48 312.40,1161.38 312.70,1159.54 313.00,1154.93 313.30,1146.32 313.60,1132.32 313.90,1111.59 314.20,1083.12 314.50,1046.60 314.80,1002.82 315.10,953.99 315.40,903.72 315.70,856.74 316.00,818.22 316.30,792.88 316.60,784.01 316.90,792.80 317.20,818.05 317.50,856.50 317.80,903.43 318.10,953.68 318.40,1002.56 318.70,1046.46 319.00,1083.24 319.30,1112.16 319.60,1133.57 319.90,1148.57 320.20,1158.50 320.50,1164.75 320.80,1168.49 321.10,1170.62 321.40,1171.79 321.70,1172.40 322.00,1172.71 322.30,1172.87 322.60,1172.95 322.90,1172.99 323.50,1172.97 323.80,1172.92 324.10,1172.83 324.40,1172.70 324.70,1172.51 325.00,1172.26 325.30,1171.95 325.60,1171.60 325.90,1171.21 326.20,1170.80 326.50,1170.42 326.80,1170.08 327.10,1169.81 327.40,1169.64 327.70,1169.56 328.00,1169.57 328.30,1169.64 328.60,1169.72 328.90,1169.75 329.20,1169.70 329.50,1169.50 329.80,1169.15 330.10,1168.65 330.40,1168.05 330.70,1167.41 331.00,1166.82 331.30,1166.38 331.60,1166.15 331.90,1166.16 332.20,1166.40 332.50,1166.83 332.80,1167.34 333.10,1167.82 333.40,1168.17 333.70,1168.29 334.00,1168.11 334.30,1167.62 334.60,1166.84 334.90,1165.83 335.20,1164.71 335.50,1163.61 335.80,1162.66 336.10,1161.99 336.40,1161.69 336.70,1161.82 337.00,1162.37 337.30,1163.28 337.60,1164.46 337.90,1165.79 338.20,1167.16 338.50,1168.46 338.80,1169.62 339.10,1170.60 339.40,1171.38 339.70,1171.96 340.00,1172.39 340.30,1172.68 340.60,1172.86 340.90,1172.97 341.20,1173.03 341.50,1173.06 342.10,1173.05 342.40,1173.03 342.70,1173.00 343.00,1172.97 343.30,1172.94 343.60,1172.90 343.90,1172.87 344.20,1172.83 344.50,1172.80 344.80,1172.78 345.10,1172.75 346.00,1172.70 346.30,1172.68 346.60,1172.65 346.90,1172.61 347.20,1172.54 347.50,1172.44 347.80,1172.29 348.10,1172.08 348.40,1171.80 348.70,1171.42 349.00,1170.94 349.30,1170.34 349.60,1169.62 349.90,1168.77 350.20,1167.79 350.50,1166.72 350.80,1165.57 351.10,1164.41 351.40,1163.29 351.70,1162.28 352.00,1161.45 352.30,1160.86 352.60,1160.57 352.90,1160.60 353.20,1160.96 353.50,1161.61 353.80,1162.52 354.10,1163.62 354.40,1164.83 354.70,1166.07 355.00,1167.29 355.30,1168.41 355.60,1169.41 355.90,1170.26 356.20,1170.95 356.50,1171.49 356.80,1171.90 357.10,1172.19 357.40,1172.40 357.70,1172.55 358.00,1172.65 358.30,1172.72 358.60,1172.77 358.90,1172.82 359.20,1172.87 359.50,1172.91 359.80,1172.96 360.10,1173.00 360.40,1173.05 360.70,1173.09 361.00,1173.13 361.30,1173.16 361.60,1173.20 361.90,1173.22 362.20,1173.24 372.10,1173.28 372.40,1173.26 372.70,1173.22 373.00,1173.16 373.30,1173.06 373.60,1172.90 373.90,1172.67 374.20,1172.34 374.50,1171.89 374.80,1171.33 375.10,1170.64 375.40,1169.84 375.70,1168.99 376.00,1168.14 376.30,1167.37 376.60,1166.75 376.90,1166.34 377.20,1166.20 377.50,1166.34 377.80,1166.74 378.10,1167.37 378.40,1168.14 378.70,1168.99 379.00,1169.83 379.30,1170.62 379.60,1171.30 379.90,1171.86 380.20,1172.29 380.50,1172.61 380.80,1172.82 381.10,1172.95 381.40,1173.02 381.70,1173.05 382.00,1173.04 382.30,1173.02 382.60,1172.98 382.90,1172.94 383.20,1172.89 383.50,1172.85 383.80,1172.81 384.10,1172.78 384.40,1172.75 385.30,1172.75 385.60,1172.77 385.90,1172.80 386.20,1172.84 386.50,1172.88 386.80,1172.93 387.10,1172.97 387.40,1173.02 387.70,1173.05 388.30,1173.06 388.60,1173.02 388.90,1172.91 389.20,1172.72 389.50,1172.40 389.80,1171.91 390.10,1171.22 390.40,1170.27 390.70,1169.06 391.00,1167.59 391.30,1165.90 391.60,1164.08 391.90,1162.26 392.20,1160.60 392.50,1159.27 392.80,1158.40 393.10,1158.10 393.40,1158.40 393.70,1159.27 394.00,1160.60 394.30,1162.26 394.60,1164.08 394.90,1165.90 395.20,1167.60 395.50,1169.07 395.80,1170.29 396.10,1171.24 396.40,1171.95 396.70,1172.44 397.00,1172.77 397.30,1172.97 397.60,1173.08 397.90,1173.10 398.20,1173.04 398.50,1172.86 398.80,1172.50 399.10,1171.86 399.40,1170.78 399.70,1169.02 400.00,1166.30 400.30,1162.29 400.60,1156.61 400.90,1148.98 401.20,1139.23 401.50,1127.40 401.80,1113.86 402.10,1099.31 402.40,1084.80 402.70,1071.57 403.00,1060.93 403.30,1054.03 403.60,1051.65 403.90,1054.09 404.20,1061.06 404.50,1071.75 404.80,1085.03 405.10,1099.58 405.40,1114.14 405.70,1127.69 406.00,1139.51 406.30,1149.25 406.60,1156.85 406.90,1162.49 407.20,1166.48 407.50,1169.16 407.80,1170.88 408.10,1171.93 408.40,1172.54 408.70,1172.87 409.00,1173.01 409.30,1173.05 409.60,1173.00 409.90,1172.90 410.20,1172.74 410.50,1172.53 410.80,1172.27 411.10,1171.98 411.40,1171.68 411.70,1171.39 412.00,1171.13 412.30,1170.94 412.60,1170.82 412.90,1170.81 413.20,1170.89 413.50,1171.06 413.80,1171.30 414.10,1171.58 414.40,1171.88 414.70,1172.18 415.00,1172.44 415.30,1172.67 415.60,1172.85 415.90,1172.99 416.20,1173.09 416.50,1173.15 416.80,1173.18 417.40,1173.18 417.70,1173.15 418.00,1173.11 418.30,1173.04 418.60,1172.96 418.90,1172.85 419.20,1172.73 419.50,1172.59 419.80,1172.44 420.10,1172.27 420.40,1172.10 420.70,1171.93 421.00,1171.77 421.30,1171.63 421.60,1171.51 421.90,1171.41 422.20,1171.34 422.50,1171.30 423.40,1171.30 423.70,1171.34 424.00,1171.38 424.30,1171.44 424.60,1171.50 424.90,1171.58 425.20,1171.66 425.50,1171.75 425.80,1171.85 426.10,1171.95 426.40,1172.06 426.70,1172.18 427.00,1172.29 427.30,1172.41 427.60,1172.52 427.90,1172.62 428.20,1172.71 428.50,1172.79 428.80,1172.86 429.10,1172.90 429.40,1172.92 429.70,1172.92 430.00,1172.89 430.30,1172.83 430.60,1172.74 430.90,1172.63 431.20,1172.49 431.50,1172.34 431.80,1172.19 432.10,1172.05 432.40,1171.93 432.70,1171.85 433.00,1171.80 433.30,1171.79 433.60,1171.81 433.90,1171.86 434.20,1171.90 434.50,1171.92 434.80,1171.88 435.10,1171.78 435.40,1171.59 435.70,1171.29 436.00,1170.89 436.30,1170.41 436.60,1169.86 436.90,1169.31 437.20,1168.78 437.50,1168.33 437.80,1168.02 438.10,1167.86 438.40,1167.89 438.70,1168.10 439.00,1168.46 439.30,1168.95 439.60,1169.51 439.90,1170.10 440.20,1170.67 440.50,1171.20 440.80,1171.65 441.10,1172.02 441.40,1172.31 441.70,1172.52 442.00,1172.67 442.30,1172.76 442.60,1172.83 442.90,1172.87 443.20,1172.89 444.40,1172.96 444.70,1172.98 445.00,1173.01 445.30,1173.03 445.60,1173.06 445.90,1173.09 446.20,1173.11 446.50,1173.13 448.30,1173.15 448.60,1173.13 448.90,1173.09 449.20,1173.06 449.50,1173.02 449.80,1172.98 450.10,1172.94 450.40,1172.92 451.30,1172.91 451.60,1172.93 451.90,1172.97 452.20,1173.01 452.50,1173.05 452.80,1173.10 453.10,1173.14 453.40,1173.18 453.70,1173.21 454.00,1173.23 454.30,1173.26 458.80,1173.24 459.10,1173.21 459.40,1173.18 459.70,1173.13 460.00,1173.07 460.30,1172.98 460.60,1172.87 460.90,1172.71 461.20,1172.50 461.50,1172.22 461.80,1171.88 462.10,1171.47 462.40,1170.99 462.70,1170.45 463.00,1169.90 463.30,1169.35 463.60,1168.86 463.90,1168.46 464.20,1168.20 464.50,1168.09 464.80,1168.14 465.10,1168.34 465.40,1168.68 465.70,1169.11 466.00,1169.58 466.30,1170.07 466.60,1170.52 466.90,1170.91 467.20,1171.23 467.50,1171.47 467.80,1171.63 468.10,1171.72 468.40,1171.75 468.70,1171.73 469.00,1171.67 469.30,1171.59 469.60,1171.51 469.90,1171.42 470.20,1171.35 470.50,1171.31 470.80,1171.30 471.10,1171.32 471.40,1171.39 471.70,1171.50 472.00,1171.64 472.30,1171.80 472.60,1171.99 472.90,1172.17 473.20,1172.36 473.50,1172.53 473.80,1172.69 474.10,1172.82 474.40,1172.93 474.70,1173.02 475.00,1173.08 475.30,1173.13 475.60,1173.15 477.10,1173.12 477.40,1173.10 477.70,1173.08 479.80,1173.07 480.10,1173.09 480.40,1173.12 480.70,1173.14 481.00,1173.17 481.30,1173.19 481.60,1173.21 486.40,1173.28 486.70,1173.25 487.00,1173.22 487.30,1173.15 487.60,1173.05 487.90,1172.89 488.20,1172.65 488.50,1172.30 488.80,1171.82 489.10,1171.19 489.40,1170.39 489.70,1169.42 490.00,1168.31 490.30,1167.10 490.60,1165.86 490.90,1164.68 491.20,1163.66 491.50,1162.89 491.80,1162.44 492.10,1162.36 492.40,1162.66 492.70,1163.29 493.00,1164.19 493.30,1165.28 493.60,1166.46 493.90,1167.62 494.20,1168.71 494.50,1169.66 494.80,1170.44 495.10,1171.04 495.40,1171.49 495.70,1171.80 496.00,1172.00 496.30,1172.12 496.60,1172.19 496.90,1172.23 497.20,1172.26 497.50,1172.29 497.80,1172.32 498.10,1172.37 498.40,1172.43 498.70,1172.49 499.00,1172.57 499.30,1172.64 499.60,1172.72 499.90,1172.80 500.20,1172.86 500.50,1172.91 500.80,1172.94 501.10,1172.93 501.40,1172.86 501.70,1172.70 502.00,1172.43 502.30,1171.99 502.60,1171.33 502.90,1170.40 503.20,1169.14 503.50,1167.51 503.80,1165.50 504.10,1163.15 504.40,1160.54 504.70,1157.80 505.00,1155.12 505.30,1152.70 505.60,1150.77 505.90,1149.49 506.20,1149.01 506.50,1149.36 506.80,1150.51 507.10,1152.34 507.40,1154.68 507.70,1157.33 508.00,1160.05 508.30,1162.69 508.60,1165.08 508.90,1167.14 509.20,1168.84 509.50,1170.17 509.80,1171.17 510.10,1171.89 510.40,1172.40 510.70,1172.73 511.00,1172.95 511.30,1173.09 511.60,1173.17 511.90,1173.22 512.20,1173.25 514.00,1173.24 514.30,1173.21 514.60,1173.17 514.90,1173.11 515.20,1173.03 515.50,1172.93 515.80,1172.81 516.10,1172.69 516.40,1172.57 516.70,1172.46 517.00,1172.38 517.30,1172.34 517.60,1172.33 517.90,1172.37 518.20,1172.45 518.50,1172.55 518.80,1172.67 519.10,1172.79 519.40,1172.90 519.70,1173.00 520.00,1173.08 520.30,1173.14 520.60,1173.18 520.90,1173.20 521.80,1173.18 522.10,1173.16 522.40,1173.13 522.70,1173.09 523.00,1173.05 523.30,1173.01 523.60,1172.96 523.90,1172.92 524.20,1172.87 524.50,1172.83 524.80,1172.79 525.10,1172.75 525.40,1172.71 525.70,1172.67 526.00,1172.62 526.30,1172.58 526.60,1172.52 526.90,1172.45 527.20,1172.38 527.50,1172.30 527.80,1172.22 528.10,1172.14 528.40,1172.09 528.70,1172.06 529.00,1172.06 529.30,1172.10 529.60,1172.17 529.90,1172.27 530.20,1172.38 530.50,1172.50 530.80,1172.61 531.10,1172.71 531.40,1172.79 531.70,1172.85 532.00,1172.88 532.60,1172.87 532.90,1172.84 533.20,1172.80 533.50,1172.76 533.80,1172.71 534.10,1172.66 534.40,1172.62 534.70,1172.58 535.00,1172.55 536.20,1172.54 536.50,1172.56 536.80,1172.60 537.10,1172.64 537.40,1172.69 537.70,1172.74 538.00,1172.80 538.30,1172.85 538.60,1172.91 538.90,1172.96 539.20,1173.01 539.50,1173.06 539.80,1173.10 540.10,1173.13 540.40,1173.16 542.20,1173.17 542.50,1173.14 542.80,1173.11 543.10,1173.08 543.40,1173.03 543.70,1172.98 544.00,1172.93 544.30,1172.87 544.60,1172.82 544.90,1172.76 545.20,1172.71 545.50,1172.66 545.80,1172.62 546.10,1172.59 546.40,1172.56 547.30,1172.57 547.60,1172.59 547.90,1172.63 548.20,1172.67 548.50,1172.72 548.80,1172.78 549.10,1172.83 549.40,1172.89 549.70,1172.95 550.00,1173.00 550.30,1173.05 550.60,1173.10 550.90,1173.13 551.20,1173.17 551.50,1173.20 551.80,1173.22 563.20,1173.22 563.50,1173.20 563.80,1173.17 564.10,1173.15 564.40,1173.11 564.70,1173.08 565.00,1173.04 565.30,1173.01 565.60,1172.97 565.90,1172.94 566.20,1172.91 566.50,1172.88 568.30,1172.89 568.60,1172.91 568.90,1172.94 569.20,1172.97 569.50,1173.01 569.80,1173.03 570.10,1173.06 571.00,1173.05 571.30,1173.01 571.60,1172.95 571.90,1172.86 572.20,1172.74 572.50,1172.58 572.80,1172.40 573.10,1172.19 573.40,1171.97 573.70,1171.74 574.00,1171.52 574.30,1171.33 574.60,1171.17 574.90,1171.05 575.20,1171.00 575.50,1171.01 575.80,1171.09 576.10,1171.22 576.40,1171.39 576.70,1171.60 577.00,1171.83 577.30,1172.06 577.60,1172.28 577.90,1172.49 578.20,1172.67 578.50,1172.83 578.80,1172.95 579.10,1173.05 579.40,1173.13 579.70,1173.18 580.00,1173.22 580.30,1173.25 582.10,1173.24 582.40,1173.22 582.70,1173.19 583.00,1173.15 583.30,1173.10 583.60,1173.05 583.90,1172.98 584.20,1172.90 584.50,1172.82 584.80,1172.73 585.10,1172.65 585.40,1172.57 585.70,1172.51 586.00,1172.45 586.30,1172.42 586.90,1172.42 587.20,1172.45 587.50,1172.50 587.80,1172.57 588.10,1172.64 588.40,1172.73 588.70,1172.81 589.00,1172.90 589.30,1172.97 589.60,1173.04 589.90,1173.10 590.20,1173.15 590.50,1173.19 590.80,1173.22 591.10,1173.25 594.70,1173.25 595.00,1173.23 595.30,1173.20 595.60,1173.16 595.90,1173.12 596.20,1173.07 596.50,1173.01 596.80,1172.95 597.10,1172.88 597.40,1172.80 597.70,1172.73 598.00,1172.65 598.30,1172.58 598.60,1172.52 598.90,1172.47 599.20,1172.44 600.10,1172.44 600.40,1172.47 600.70,1172.52 601.00,1172.58 601.30,1172.65 601.60,1172.73 601.90,1172.80 602.20,1172.87 602.50,1172.94 602.80,1172.99 603.10,1173.04 603.40,1173.07 603.70,1173.10 604.90,1173.08 605.20,1173.06 605.50,1173.02 605.80,1172.99 606.10,1172.95 606.40,1172.92 606.70,1172.88 607.00,1172.86 608.50,1172.85 608.80,1172.87 609.10,1172.90 609.40,1172.94 609.70,1172.98 610.00,1173.02 610.30,1173.05 610.60,1173.09 610.90,1173.12 611.20,1173.14 625.60,1173.26 625.90,1173.23 626.20,1173.17 626.50,1173.07 626.80,1172.91 627.10,1172.67 627.40,1172.34 627.70,1171.93 628.00,1171.42 628.30,1170.87 628.60,1170.33 628.90,1169.84 629.20,1169.49 629.50,1169.31 629.80,1169.35 630.10,1169.58 630.40,1169.98 630.70,1170.47 631.00,1171.00 631.30,1171.47 631.60,1171.83 631.90,1172.03 632.20,1172.03 632.50,1171.82 632.80,1171.42 633.10,1170.85 633.40,1170.19 633.70,1169.50 634.00,1168.89 634.30,1168.42 634.60,1168.12 634.90,1167.98 635.20,1167.96 636.40,1167.96 636.70,1168.02 637.00,1168.20 637.30,1168.55 637.60,1169.06 637.90,1169.68 638.20,1170.33 638.50,1170.90 638.80,1171.30 639.10,1171.48 639.40,1171.41 639.70,1171.07 640.00,1170.51 640.30,1169.78 640.60,1168.99 640.90,1168.23 641.20,1167.63 641.50,1167.27 641.80,1167.22 642.10,1167.48 642.40,1168.02 642.70,1168.76 643.00,1169.60 643.30,1170.44 643.60,1171.20 643.90,1171.84 644.20,1172.34 644.50,1172.70 644.80,1172.94 645.10,1173.10 645.40,1173.19 645.70,1173.25 646.00,1173.27 652.30,1173.23 652.60,1173.20 652.90,1173.17 653.20,1173.13 653.50,1173.09 653.80,1173.04 654.10,1172.98 654.40,1172.92 654.70,1172.85 655.00,1172.77 655.30,1172.70 655.60,1172.62 655.90,1172.55 656.20,1172.48 656.50,1172.42 656.80,1172.37 657.10,1172.32 657.40,1172.28 657.70,1172.26 660.70,1172.27 661.00,1172.29 661.30,1172.32 661.60,1172.36 661.90,1172.41 662.20,1172.46 662.50,1172.51 662.80,1172.56 663.10,1172.60 663.40,1172.63 664.00,1172.65 664.30,1172.63 664.60,1172.59 664.90,1172.54 665.20,1172.48 665.50,1172.43 665.80,1172.39 666.40,1172.39 666.70,1172.43 667.00,1172.50 667.30,1172.59 667.60,1172.69 667.90,1172.80 668.20,1172.90 668.50,1173.00 668.80,1173.08 669.10,1173.15 669.40,1173.20 669.70,1173.23 670.00,1173.26 681.70,1172.99 682.00,1172.97 685.90,1172.82 686.20,1172.80 686.50,1172.77 686.80,1172.74 687.10,1172.72 687.40,1172.68 687.70,1172.65 688.00,1172.63 688.30,1172.60 688.60,1172.58 690.10,1172.56 690.40,1172.58 690.70,1172.61 691.00,1172.65 691.30,1172.69 691.60,1172.74 691.90,1172.79 692.20,1172.84 692.50,1172.90 692.80,1172.96 693.10,1173.01 693.40,1173.06 693.70,1173.10 694.00,1173.14 694.30,1173.18 694.60,1173.21 694.90,1173.23 697.90,1173.25 698.20,1173.23 698.50,1173.20 698.80,1173.17 699.10,1173.14 699.40,1173.10 699.70,1173.07 700.00,1173.03 700.30,1173.01 701.50,1172.99 701.80,1173.02 702.10,1173.05 702.40,1173.08 702.70,1173.12 703.00,1173.15 703.30,1173.19 703.60,1173.22 703.90,1173.24 706.60,1173.28 706.90,1173.26 707.20,1173.20 707.50,1173.07 707.80,1172.82 708.10,1172.32 708.40,1171.38 708.70,1169.68 709.00,1166.75 709.30,1161.91 709.60,1154.27 709.90,1142.74 710.20,1126.17 710.50,1103.46 710.80,1073.86 711.10,1037.27 711.40,994.51 711.70,947.52 712.00,899.36 712.30,853.97 712.60,815.64 712.90,788.43 713.20,775.39 713.50,778.03 713.80,796.05 714.10,827.36 714.40,868.51 714.70,915.27 715.00,963.40 715.30,1009.19 715.60,1049.93 715.90,1084.01 716.20,1110.92 716.50,1130.94 716.80,1144.90 717.10,1153.88 717.40,1158.97 717.70,1161.15 718.00,1161.27 718.30,1159.99 718.60,1157.88 718.90,1155.40 719.20,1152.97 719.50,1150.95 719.80,1149.60 720.10,1149.12 720.40,1149.57 720.70,1150.91 721.00,1152.98 721.30,1155.57 721.60,1158.42 721.90,1161.29 722.20,1163.97 722.50,1166.32 722.80,1168.27 723.10,1169.80 723.40,1170.95 723.70,1171.78 724.00,1172.34 724.30,1172.71 724.60,1172.95 724.90,1173.10 725.20,1173.18 725.50,1173.23 725.80,1173.26 732.10,1173.26 732.40,1173.24 732.70,1173.19 733.00,1173.13 733.30,1173.03 733.60,1172.89 733.90,1172.70 734.20,1172.46 734.50,1172.15 734.80,1171.79 735.10,1171.37 735.40,1170.93 735.70,1170.48 736.00,1170.05 736.30,1169.69 736.60,1169.41 736.90,1169.24 737.20,1169.20 737.50,1169.29 737.80,1169.48 738.10,1169.76 738.40,1170.10 738.70,1170.46 739.00,1170.82 739.30,1171.16 739.60,1171.46 739.90,1171.72 740.20,1171.93 740.50,1172.10 740.80,1172.24 741.10,1172.35 741.40,1172.45 741.70,1172.53 742.00,1172.61 742.30,1172.68 742.60,1172.75 742.90,1172.82 743.20,1172.88 743.50,1172.94 743.80,1172.99 744.10,1173.04 744.40,1173.09 744.70,1173.13 745.00,1173.16 745.30,1173.19 745.60,1173.21 757.00,1173.25 757.30,1173.23 757.60,1173.20 757.90,1173.16 758.20,1173.11 758.50,1173.05 758.80,1172.98 759.10,1172.91 759.40,1172.82 759.70,1172.73 760.00,1172.65 760.30,1172.57 760.60,1172.50 760.90,1172.45 761.20,1172.41 761.80,1172.41 762.10,1172.45 762.40,1172.50 762.70,1172.57 763.00,1172.65 763.30,1172.74 763.60,1172.83 763.90,1172.91 764.20,1172.98 764.50,1173.05 764.80,1173.10 765.10,1173.14 765.40,1173.16 766.30,1173.15 766.60,1173.12 766.90,1173.08 767.20,1173.03 767.50,1172.98 767.80,1172.93 768.10,1172.89 768.40,1172.86 768.70,1172.83 771.10,1172.84 771.40,1172.82 771.70,1172.79 772.00,1172.74 772.30,1172.70 772.60,1172.64 772.90,1172.59 773.20,1172.54 773.50,1172.49 773.80,1172.45 774.10,1172.41 774.40,1172.37 774.70,1172.33 775.00,1172.28 775.30,1172.20 775.60,1172.08 775.90,1171.92 776.20,1171.70 776.50,1171.41 776.80,1171.04 777.10,1170.62 777.40,1170.15 777.70,1169.67 778.00,1169.21 778.30,1168.81 778.60,1168.52 778.90,1168.37 779.20,1168.37 779.50,1168.54 779.80,1168.85 780.10,1169.27 780.40,1169.77 780.70,1170.30 781.00,1170.82 781.30,1171.29 781.60,1171.69 781.90,1172.01 782.20,1172.23 782.50,1172.36 782.80,1172.41 783.10,1172.40 783.40,1172.34 783.70,1172.25 784.00,1172.14 784.30,1172.03 784.60,1171.92 784.90,1171.83 785.20,1171.77 785.50,1171.73 787.00,1171.74 787.30,1171.71 787.60,1171.62 787.90,1171.46 788.20,1171.22 788.50,1170.87 788.80,1170.42 789.10,1169.87 789.40,1169.24 789.70,1168.57 790.00,1167.92 790.30,1167.33 790.60,1166.86 790.90,1166.56 791.20,1166.47 791.50,1166.59 791.80,1166.92 792.10,1167.42 792.40,1168.05 792.70,1168.75 793.00,1169.47 793.30,1170.16 793.60,1170.79 793.90,1171.32 794.20,1171.77 794.50,1172.12 794.80,1172.39 795.10,1172.59 795.40,1172.73 795.70,1172.84 796.00,1172.92 796.30,1172.99 796.60,1173.04 796.90,1173.08 797.20,1173.11 797.50,1173.14 797.80,1173.17 798.10,1173.19 799.00,1173.21 799.30,1173.18 799.60,1173.14 799.90,1173.06 800.20,1172.93 800.50,1172.74 800.80,1172.47 801.10,1172.10 801.40,1171.63 801.70,1171.06 802.00,1170.38 802.30,1169.63 802.60,1168.85 802.90,1168.09 803.20,1167.41 803.50,1166.87 803.80,1166.52 804.10,1166.40 804.40,1166.52 804.70,1166.87 805.00,1167.41 805.30,1168.09 805.60,1168.85 805.90,1169.64 806.20,1170.38 806.50,1171.06 806.80,1171.64 807.10,1172.11 807.40,1172.48 807.70,1172.75 808.00,1172.94 808.30,1173.07 808.60,1173.15 808.90,1173.19 809.20,1173.19 809.50,1173.16 809.80,1173.08 810.10,1172.96 810.40,1172.75 810.70,1172.46 811.00,1172.03 811.30,1171.44 811.60,1170.67 811.90,1169.69 812.20,1168.50 812.50,1167.11 812.80,1165.56 813.10,1163.93 813.40,1162.29 813.70,1160.76 814.00,1159.46 814.30,1158.49 814.60,1157.92 814.90,1157.82 815.20,1158.16 815.50,1158.92 815.80,1159.99 816.10,1161.27 816.40,1162.61 816.70,1163.89 817.00,1165.00 817.30,1165.86 817.60,1166.42 817.90,1166.71 818.20,1166.77 818.50,1166.68 818.80,1166.53 819.10,1166.43 819.40,1166.46 819.70,1166.65 820.00,1167.04 820.30,1167.61 820.60,1168.32 820.90,1169.10 821.20,1169.89 821.50,1170.64 821.80,1171.30 822.10,1171.86 822.40,1172.30 822.70,1172.63 823.00,1172.87 823.30,1173.02 823.60,1173.12 823.90,1173.16 824.20,1173.17 824.50,1173.15 824.80,1173.09 825.10,1173.01 825.40,1172.89 825.70,1172.74 826.00,1172.56 826.30,1172.35 826.60,1172.13 826.90,1171.88 827.20,1171.61 827.50,1171.31 827.80,1170.96 828.10,1170.53 828.40,1170.01 828.70,1169.37 829.00,1168.61 829.30,1167.76 829.60,1166.84 829.90,1165.94 830.20,1165.14 830.50,1164.54 830.80,1164.22 831.10,1164.22 831.40,1164.55 831.70,1165.19 832.00,1166.07 832.30,1167.10 832.60,1168.19 832.90,1169.25 833.20,1170.22 833.50,1171.03 833.80,1171.69 834.10,1172.19 834.40,1172.54 834.70,1172.77 835.00,1172.91 835.30,1172.97 835.60,1172.99 835.90,1172.97 836.20,1172.92 836.50,1172.87 836.80,1172.81 837.10,1172.76 837.40,1172.71 837.70,1172.68 839.20,1172.66 839.50,1172.63 839.80,1172.55 840.10,1172.37 840.40,1172.07 840.70,1171.58 841.00,1170.86 841.30,1169.85 841.60,1168.52 841.90,1166.83 842.20,1164.82 842.50,1162.55 842.80,1160.12 843.10,1157.69 843.40,1155.44 843.70,1153.58 844.00,1152.27 844.30,1151.64 844.60,1151.77 844.90,1152.63 845.20,1154.15 845.50,1156.17 845.80,1158.50 846.10,1160.96 846.40,1163.36 846.70,1165.57 847.00,1167.50 847.30,1169.09 847.60,1170.35 847.90,1171.30 848.20,1171.98 848.50,1172.45 848.80,1172.75 849.10,1172.94 849.40,1173.05 849.70,1173.10 850.00,1173.12 855.70,1173.09 856.00,1173.07 856.30,1173.04 856.60,1173.01 856.90,1172.99 857.20,1172.96 857.50,1172.94 858.70,1172.93 859.00,1172.96 859.30,1172.99 859.60,1173.03 859.90,1173.07 860.20,1173.12 860.50,1173.15 860.80,1173.18 861.10,1173.21 862.60,1173.21 862.90,1173.19 863.20,1173.16 863.50,1173.13 863.80,1173.09 864.10,1173.05 864.40,1173.01 864.70,1172.96 865.00,1172.92 865.30,1172.88 865.60,1172.84 865.90,1172.81 866.20,1172.79 867.40,1172.79 867.70,1172.81 868.00,1172.84 868.30,1172.88 868.60,1172.91 868.90,1172.95 869.20,1172.99 869.50,1173.02 869.80,1173.04 871.30,1173.04 871.60,1173.02 871.90,1172.98 872.20,1172.94 872.50,1172.89 872.80,1172.84 873.10,1172.78 873.40,1172.73 873.70,1172.67 874.00,1172.62 874.30,1172.57 874.60,1172.53 874.90,1172.50 875.20,1172.48 876.10,1172.48 876.40,1172.50 876.70,1172.53 877.00,1172.58 877.30,1172.62 877.60,1172.68 877.90,1172.74 878.20,1172.79 878.50,1172.85 878.80,1172.91 879.10,1172.95 879.40,1172.99 880.00,1172.99 880.30,1172.94 880.60,1172.81 880.90,1172.58 881.20,1172.19 881.50,1171.59 881.80,1170.71 882.10,1169.46 882.40,1167.79 882.70,1165.64 883.00,1163.00 883.30,1159.92 883.60,1156.51 883.90,1152.95 884.20,1149.48 884.50,1146.37 884.80,1143.91 885.10,1142.32 885.40,1141.76 885.70,1142.30 886.00,1143.87 886.30,1146.32 886.60,1149.41 886.90,1152.88 887.20,1156.43 887.50,1159.84 887.80,1162.92 888.10,1165.57 888.40,1167.73 888.70,1169.42 889.00,1170.68 889.30,1171.59 889.60,1172.22 889.90,1172.64 890.20,1172.90 890.50,1173.07 890.80,1173.17 891.10,1173.23 891.40,1173.26 894.10,1173.24 894.40,1173.22 894.70,1173.19 895.00,1173.15 895.30,1173.09 895.60,1173.01 895.90,1172.89 896.20,1172.71 896.50,1172.45 896.80,1172.07 897.10,1171.55 897.40,1170.85 897.70,1169.99 898.00,1169.00 898.30,1167.93 898.60,1166.87 898.90,1165.94 899.20,1165.22 899.50,1164.77 899.80,1164.58 900.10,1164.59 900.40,1164.69 900.70,1164.79 901.00,1164.80 901.30,1164.69 901.60,1164.50 901.90,1164.33 902.20,1164.28 902.50,1164.46 902.80,1164.92 903.10,1165.66 903.40,1166.59 903.70,1167.59 904.00,1168.52 904.30,1169.22 904.60,1169.60 904.90,1169.54 905.20,1169.01 905.50,1168.00 905.80,1166.52 906.10,1164.67 906.40,1162.54 906.70,1160.32 907.00,1158.20 907.30,1156.39 907.60,1155.08 907.90,1154.43 908.20,1154.51 908.50,1155.30 908.80,1156.72 909.10,1158.61 909.40,1160.77 909.70,1163.02 910.00,1165.17 910.30,1167.11 910.60,1168.75 910.90,1170.07 911.20,1171.08 911.50,1171.82 911.80,1172.35 912.10,1172.70 912.40,1172.93 912.70,1173.08 913.00,1173.17 913.30,1173.22 913.60,1173.25 918.10,1173.26 918.40,1173.24 918.70,1173.20 919.00,1173.15 919.30,1173.09 919.60,1173.00 919.90,1172.91 920.20,1172.79 920.50,1172.66 920.80,1172.53 921.10,1172.38 921.40,1172.21 921.70,1172.02 922.00,1171.78 922.30,1171.44 922.60,1170.97 922.90,1170.30 923.20,1169.40 923.50,1168.21 923.80,1166.72 924.10,1164.96 924.40,1162.98 924.70,1160.90 925.00,1158.85 925.30,1157.01 925.60,1155.55 925.90,1154.61 926.20,1154.29 926.50,1154.62 926.80,1155.59 927.10,1157.08 927.40,1158.96 927.70,1161.06 928.00,1163.21 928.30,1165.27 928.60,1167.13 928.90,1168.72 929.20,1170.02 929.50,1171.04 929.80,1171.79 930.10,1172.33 930.40,1172.69 930.70,1172.94 931.00,1173.09 931.30,1173.18 931.60,1173.24 931.90,1173.27 938.80,1173.26 939.10,1173.23 939.40,1173.15 939.70,1173.02 940.00,1172.79 940.30,1172.40 940.60,1171.78 940.90,1170.83 941.20,1169.44 941.50,1167.51 941.80,1164.95 942.10,1161.73 942.40,1157.89 942.70,1153.59 943.00,1149.08 943.30,1144.69 943.60,1140.83 943.90,1137.89 944.20,1136.19 944.50,1135.92 944.80,1137.12 945.10,1139.64 945.40,1143.19 945.70,1147.40 946.00,1151.86 946.30,1156.21 946.60,1160.17 946.90,1163.54 947.20,1166.26 947.50,1168.33 947.80,1169.82 948.10,1170.85 948.40,1171.51 948.70,1171.92 949.00,1172.15 949.30,1172.27 949.60,1172.33 952.30,1172.37 952.60,1172.40 952.90,1172.42 953.20,1172.46 953.50,1172.49 953.80,1172.53 954.10,1172.58 954.40,1172.63 954.70,1172.69 955.00,1172.74 955.30,1172.80 955.60,1172.86 955.90,1172.91 956.20,1172.96 956.50,1173.01 956.80,1173.05 957.10,1173.09 957.40,1173.11 957.70,1173.12 958.00,1173.09 958.30,1173.01 958.60,1172.84 958.90,1172.53 959.20,1172.00 959.50,1171.13 959.80,1169.79 960.10,1167.83 960.40,1165.09 960.70,1161.46 961.00,1156.89 961.30,1151.44 961.60,1145.32 961.90,1138.90 962.20,1132.64 962.50,1127.13 962.80,1122.93 963.10,1120.48 963.40,1120.07 963.70,1121.74 964.00,1125.29 964.30,1130.31 964.60,1136.26 964.90,1142.59 965.20,1148.76 965.50,1154.38 965.80,1159.19 966.10,1163.08 966.40,1166.08 966.70,1168.28 967.00,1169.83 967.30,1170.89 967.60,1171.59 967.90,1172.05 968.20,1172.36 968.50,1172.57 968.80,1172.72 969.10,1172.84 969.40,1172.93 969.70,1173.01 970.00,1173.07 970.30,1173.11 970.60,1173.15 970.90,1173.17 972.40,1173.15 972.70,1173.13 973.00,1173.11 973.30,1173.09 973.60,1173.06 973.90,1173.04 974.20,1173.02 976.60,1172.96 976.90,1172.91 977.20,1172.79 977.50,1172.54 977.80,1172.06 978.10,1171.20 978.40,1169.75 978.70,1167.40 979.00,1163.79 979.30,1158.50 979.60,1151.13 979.90,1141.35 980.20,1129.04 980.50,1114.36 980.80,1097.89 981.10,1080.58 981.40,1063.78 981.70,1048.99 982.00,1037.74 982.30,1031.26 982.60,1030.31 982.90,1034.99 983.20,1044.77 983.50,1058.53 983.80,1074.83 984.10,1092.12 984.40,1108.99 984.70,1124.33 985.00,1137.45 985.30,1148.04 985.60,1156.16 985.90,1162.06 986.20,1166.14 986.50,1168.81 986.80,1170.46 987.10,1171.43 987.40,1171.94 987.70,1172.17 988.00,1172.24 988.30,1172.23 988.60,1172.17 988.90,1172.09 989.20,1172.02 989.50,1171.95 989.80,1171.89 990.10,1171.85 990.40,1171.83 991.00,1171.83 991.30,1171.87 991.60,1171.91 991.90,1171.98 992.20,1172.05 992.50,1172.13 992.80,1172.22 993.10,1172.32 993.40,1172.41 993.70,1172.51 994.00,1172.60 994.30,1172.69 994.60,1172.77 994.90,1172.85 995.20,1172.92 995.50,1172.98 995.80,1173.04 996.10,1173.09 996.40,1173.13 996.70,1173.17 997.00,1173.19 997.30,1173.22 1004.80,1173.28 1005.10,1173.25 1005.40,1173.21 1005.70,1173.14 1006.00,1173.02 1006.30,1172.83 1006.60,1172.55 1006.90,1172.14 1007.20,1171.58 1007.50,1170.86 1007.80,1169.96 1008.10,1168.91 1008.40,1167.75 1008.70,1166.57 1009.00,1165.45 1009.30,1164.51 1009.60,1163.84 1009.90,1163.52 1010.20,1163.59 1010.50,1164.03 1010.80,1164.80 1011.10,1165.81 1011.40,1166.96 1011.70,1168.14 1012.00,1169.27 1012.30,1170.28 1012.60,1171.12 1012.90,1171.79 1013.20,1172.29 1013.50,1172.66 1013.80,1172.90 1014.10,1173.07 1014.40,1173.17 1014.70,1173.23 1015.00,1173.26 1016.80,1173.27 1017.10,1173.24 1017.40,1173.19 1017.70,1173.09 1018.00,1172.90 1018.30,1172.57 1018.60,1172.01 1018.90,1171.07 1019.20,1169.57 1019.50,1167.29 1019.80,1163.98 1020.10,1159.37 1020.40,1153.27 1020.70,1145.61 1021.00,1136.48 1021.30,1126.25 1021.60,1115.50 1021.90,1105.05 1022.20,1095.85 1022.50,1088.84 1022.80,1084.77 1023.10,1084.12 1023.40,1086.95 1023.70,1092.93 1024.00,1101.37 1024.30,1111.40 1024.60,1122.04 1024.90,1132.43 1025.20,1141.90 1025.50,1150.01 1025.80,1156.58 1026.10,1161.63 1026.40,1165.33 1026.70,1167.92 1027.00,1169.65 1027.30,1170.77 1027.60,1171.48 1027.90,1171.91 1028.20,1172.18 1028.50,1172.35 1028.80,1172.47 1029.10,1172.55 1029.40,1172.62 1029.70,1172.68 1030.00,1172.73 1030.30,1172.76 1030.90,1172.76 1031.20,1172.71 1031.50,1172.60 1031.80,1172.42 1032.10,1172.17 1032.40,1171.83 1032.70,1171.41 1033.00,1170.93 1033.30,1170.40 1033.60,1169.87 1033.90,1169.37 1034.20,1168.94 1034.50,1168.63 1034.80,1168.45 1035.10,1168.42 1035.40,1168.53 1035.70,1168.76 1036.00,1169.08 1036.30,1169.46 1036.60,1169.88 1036.90,1170.30 1037.20,1170.72 1037.50,1171.11 1037.80,1171.47 1038.10,1171.80 1038.40,1172.08 1038.70,1172.34 1039.00,1172.55 1039.30,1172.72 1039.60,1172.87 1039.90,1172.98 1040.20,1173.06 1040.50,1173.11 1040.80,1173.14 1041.10,1173.14 1041.40,1173.10 1041.70,1173.02 1042.00,1172.87 1042.30,1172.65 1042.60,1172.33 1042.90,1171.89 1043.20,1171.31 1043.50,1170.58 1043.80,1169.72 1044.10,1168.75 1044.40,1167.72 1044.70,1166.68 1045.00,1165.73 1045.30,1164.93 1045.60,1164.37 1045.90,1164.10 1046.20,1164.15 1046.50,1164.51 1046.80,1165.13 1047.10,1165.97 1047.40,1166.94 1047.70,1167.96 1048.00,1168.95 1048.30,1169.86 1048.60,1170.65 1048.90,1171.30 1049.20,1171.81 1049.50,1172.19 1049.80,1172.46 1050.10,1172.66 1050.40,1172.79 1050.70,1172.89 1051.00,1172.96 1051.30,1173.01 1051.60,1173.05 1051.90,1173.09 1052.20,1173.13 1052.50,1173.16 1052.80,1173.19 1053.10,1173.21 1053.40,1173.23 1060.30,1173.25 1060.60,1173.23 1060.90,1173.20 1061.20,1173.17 1061.50,1173.14 1061.80,1173.10 1062.10,1173.05 1062.40,1172.99 1062.70,1172.91 1063.00,1172.77 1063.30,1172.55 1063.60,1172.18 1063.90,1171.56 1064.20,1170.58 1064.50,1169.06 1064.80,1166.85 1065.10,1163.75 1065.40,1159.65 1065.70,1154.48 1066.00,1148.31 1066.30,1141.38 1066.60,1134.11 1066.90,1127.03 1067.20,1120.80 1067.50,1116.04 1067.80,1113.29 1068.10,1112.85 1068.40,1114.77 1068.70,1118.83 1069.00,1124.57 1069.30,1131.39 1069.60,1138.63 1069.90,1145.70 1070.20,1152.14 1070.50,1157.65 1070.80,1162.10 1071.10,1165.49 1071.40,1167.92 1071.70,1169.53 1072.00,1170.47 1072.30,1170.89 1072.60,1170.92 1072.90,1170.65 1073.20,1170.18 1073.50,1169.60 1073.80,1169.00 1074.10,1168.46 1074.40,1168.06 1074.70,1167.86 1075.00,1167.88 1075.30,1168.13 1075.60,1168.55 1075.90,1169.11 1076.20,1169.72 1076.50,1170.32 1076.80,1170.86 1077.10,1171.31 1077.40,1171.66 1077.70,1171.91 1078.00,1172.07 1078.30,1172.17 1078.60,1172.23 1078.90,1172.27 1079.20,1172.31 1079.50,1172.36 1079.80,1172.41 1080.10,1172.48 1080.40,1172.56 1080.70,1172.64 1081.00,1172.73 1081.30,1172.81 1081.60,1172.90 1081.90,1172.97 1082.20,1173.04 1082.50,1173.10 1082.80,1173.14 1083.10,1173.18 1083.40,1173.21 1084.30,1173.21 1084.60,1173.16 1084.90,1173.09 1085.20,1172.96 1085.50,1172.76 1085.80,1172.46 1086.10,1172.04 1086.40,1171.46 1086.70,1170.70 1087.00,1169.73 1087.30,1168.55 1087.60,1167.17 1087.90,1165.64 1088.20,1164.02 1088.50,1162.40 1088.80,1160.89 1089.10,1159.60 1089.40,1158.65 1089.70,1158.11 1090.00,1158.03 1090.30,1158.42 1090.60,1159.24 1090.90,1160.43 1091.20,1161.88 1091.50,1163.47 1091.80,1165.11 1092.10,1166.68 1092.40,1168.11 1092.70,1169.36 1093.00,1170.40 1093.30,1171.23 1093.60,1171.87 1093.90,1172.34 1094.20,1172.68 1094.50,1172.91 1094.80,1173.06 1095.10,1173.16 1095.40,1173.22 1095.70,1173.25 1096.60,1173.25 1096.90,1173.23 1097.20,1173.18 1097.50,1173.10 1097.80,1172.99 1098.10,1172.83 1098.40,1172.63 1098.70,1172.38 1099.00,1172.10 1099.30,1171.80 1099.60,1171.51 1099.90,1171.26 1100.20,1171.07 1100.50,1170.97 1100.80,1170.98 1101.10,1171.08 1101.40,1171.27 1101.70,1171.51 1102.00,1171.78 1102.30,1172.05 1102.60,1172.30 1102.90,1172.51 1103.20,1172.68 1103.50,1172.81 1103.80,1172.90 1104.10,1172.97 1104.40,1173.01 1104.70,1173.05 1105.00,1173.08 1105.30,1173.10 1107.10,1173.10 1107.40,1173.08 1107.70,1173.05 1108.00,1173.03 1108.30,1173.00 1108.60,1172.97 1108.90,1172.95 1109.20,1172.93 1110.70,1172.87 1111.00,1172.84 1111.30,1172.78 1111.60,1172.67 1111.90,1172.48 1112.20,1172.16 1112.50,1171.64 1112.80,1170.86 1113.10,1169.72 1113.40,1168.12 1113.70,1165.98 1114.00,1163.23 1114.30,1159.82 1114.60,1155.78 1114.90,1151.20 1115.20,1146.27 1115.50,1141.23 1115.80,1136.41 1116.10,1132.16 1116.40,1128.82 1116.70,1126.67 1117.00,1125.91 1117.30,1126.60 1117.60,1128.68 1117.90,1131.96 1118.20,1136.15 1118.50,1140.93 1118.80,1145.93 1119.10,1150.85 1119.40,1155.43 1119.70,1159.48 1120.00,1162.92 1120.30,1165.71 1120.60,1167.89 1120.90,1169.53 1121.20,1170.73 1121.50,1171.56 1121.80,1172.13 1122.10,1172.49 1122.40,1172.71 1122.70,1172.84 1123.00,1172.90 1123.60,1172.90 1123.90,1172.86 1124.20,1172.79 1124.50,1172.69 1124.80,1172.56 1125.10,1172.40 1125.40,1172.18 1125.70,1171.92 1126.00,1171.60 1126.30,1171.24 1126.60,1170.84 1126.90,1170.42 1127.20,1170.02 1127.50,1169.67 1127.80,1169.39 1128.10,1169.23 1128.40,1169.19 1128.70,1169.29 1129.00,1169.51 1129.30,1169.84 1129.60,1170.25 1129.90,1170.70 1130.20,1171.16 1130.50,1171.60 1130.80,1172.00 1131.10,1172.33 1131.40,1172.61 1131.70,1172.82 1132.00,1172.98 1132.30,1173.09 1132.60,1173.17 1132.90,1173.22 1133.20,1173.26 1136.80,1173.26 1137.10,1173.24 1137.40,1173.21 1137.70,1173.16 1138.00,1173.11 1138.30,1173.04 1138.60,1172.96 1138.90,1172.86 1139.20,1172.74 1139.50,1172.61 1139.80,1172.44 1140.10,1172.21 1140.40,1171.85 1140.70,1171.28 1141.00,1170.31 1141.30,1168.70 1141.60,1166.09 1141.90,1162.04 1142.20,1156.00 1142.50,1147.42 1142.80,1135.83 1143.10,1120.95 1143.40,1102.86 1143.70,1082.10 1144.00,1059.78 1144.30,1037.47 1144.60,1017.11 1144.90,1000.72 1145.20,990.07 1145.50,986.38 1145.80,990.09 1146.10,1000.76 1146.40,1017.18 1146.70,1037.58 1147.00,1059.94 1147.30,1082.33 1147.60,1103.15 1147.90,1121.33 1148.20,1136.31 1148.50,1148.01 1148.80,1156.68 1149.10,1162.81 1149.40,1166.94 1149.70,1169.59 1150.00,1171.22 1150.30,1172.18 1150.60,1172.71 1150.90,1173.00 1151.20,1173.14 1151.50,1173.20 1151.80,1173.22 1152.10,1173.22 1152.40,1173.20 1152.70,1173.17 1153.00,1173.12 1153.30,1173.06 1153.60,1172.98 1153.90,1172.88 1154.20,1172.75 1154.50,1172.58 1154.80,1172.34 1155.10,1172.02 1155.40,1171.61 1155.70,1171.07 1156.00,1170.42 1156.30,1169.65 1156.60,1168.79 1156.90,1167.91 1157.20,1167.08 1157.50,1166.38 1157.80,1165.91 1158.10,1165.72 1158.40,1165.85 1158.70,1166.29 1159.00,1166.97 1159.30,1167.83 1159.60,1168.77 1159.90,1169.70 1160.20,1170.55 1160.50,1171.27 1160.80,1171.84 1161.10,1172.26 1161.40,1172.54 1161.70,1172.70 1162.00,1172.75 1162.30,1172.70 1162.60,1172.54 1162.90,1172.26 1163.20,1171.83 1163.50,1171.23 1163.80,1170.43 1164.10,1169.45 1164.40,1168.30 1164.70,1167.06 1165.00,1165.82 1165.30,1164.72 1165.60,1163.87 1165.90,1163.38 1166.20,1163.32 1166.50,1163.70 1166.80,1164.45 1167.10,1165.49 1167.40,1166.68 1167.70,1167.89 1168.00,1169.03 1168.30,1170.01 1168.60,1170.79 1168.90,1171.39 1169.20,1171.82 1169.50,1172.12 1169.80,1172.33 1170.10,1172.49 1170.40,1172.62 1170.70,1172.73 1171.00,1172.84 1171.30,1172.93 1171.60,1173.02 1171.90,1173.09 1172.20,1173.15 1172.50,1173.20 1172.80,1173.24 1173.10,1173.26 1194.70,1173.24 1195.00,1173.22 1195.30,1173.19 1195.60,1173.15 1195.90,1173.09 1196.20,1173.02 1196.50,1172.90 1196.80,1172.73 1197.10,1172.46 1197.40,1172.00 1197.70,1171.23 1198.00,1169.95 1198.30,1167.89 1198.60,1164.65 1198.90,1159.76 1199.20,1152.62 1199.50,1142.63 1199.80,1129.22 1200.10,1112.00 1200.40,1090.86 1200.70,1066.16 1201.00,1038.80 1201.30,1010.23 1201.60,982.36 1201.90,957.43 1202.20,937.65 1202.50,924.92 1202.80,920.54 1203.10,924.96 1203.40,937.73 1203.70,957.56 1204.00,982.54 1204.30,1010.46 1204.60,1039.09 1204.90,1066.51 1205.20,1091.26 1205.50,1112.45 1205.80,1129.73 1206.10,1143.17 1206.40,1153.19 1206.70,1160.33 1207.00,1165.22 1207.30,1168.43 1207.60,1170.45 1207.90,1171.67 1208.20,1172.37 1208.50,1172.75 1208.80,1172.93 1209.10,1173.01 1209.40,1173.02 1209.70,1172.99 1210.00,1172.95 1210.30,1172.90 1210.60,1172.85 1210.90,1172.79 1211.20,1172.75 1211.50,1172.71 1211.80,1172.68 1212.70,1172.69 1213.00,1172.72 1213.30,1172.76 1213.60,1172.81 1213.90,1172.86 1214.20,1172.92 1214.50,1172.97 1214.80,1173.03 1215.10,1173.07 1215.40,1173.11 1216.00,1173.12 1216.30,1173.07 1216.60,1172.96 1216.90,1172.75 1217.20,1172.38 1217.50,1171.78 1217.80,1170.84 1218.10,1169.46 1218.40,1167.49 1218.70,1164.81 1219.00,1161.32 1219.30,1156.97 1219.60,1151.80 1219.90,1145.97 1220.20,1139.76 1220.50,1133.55 1220.80,1127.81 1221.10,1123.03 1221.40,1119.67 1221.70,1118.04 1222.00,1118.32 1222.30,1120.47 1222.60,1124.27 1222.90,1129.34 1223.20,1135.20 1223.50,1141.38 1223.80,1147.43 1224.10,1152.98 1224.40,1157.81 1224.70,1161.81 1225.00,1164.95 1225.30,1167.32 1225.60,1169.02 1225.90,1170.18 1226.20,1170.94 1226.50,1171.39 1226.80,1171.61 1227.10,1171.66 1227.40,1171.51 1227.70,1171.12 1228.00,1170.37 1228.30,1169.03 1228.60,1166.79 1228.90,1163.20 1229.20,1157.70 1229.50,1149.67 1229.80,1138.46 1230.10,1123.59 1230.40,1104.85 1230.70,1082.51 1231.00,1057.42 1231.30,1031.05 1231.60,1005.43 1231.90,982.88 1232.20,965.71 1232.50,955.81 1232.80,954.33 1233.10,961.42 1233.40,976.22 1233.70,997.01 1234.00,1021.52 1234.30,1047.27 1234.60,1071.97 1234.90,1093.77 1235.20,1111.46 1235.50,1124.49 1235.80,1132.91 1236.10,1137.31 1236.40,1138.61 1236.70,1137.98 1237.00,1136.59 1237.30,1135.50 1237.60,1135.48 1237.90,1136.94 1238.20,1139.92 1238.50,1144.10 1238.80,1149.00 1239.10,1154.04 1239.40,1158.72 1239.70,1162.69 1240.00,1165.75 1240.30,1167.87 1240.60,1169.08 1240.90,1169.50 1241.20,1169.21 1241.50,1168.30 1241.80,1166.83 1242.10,1164.84 1242.40,1162.41 1242.70,1159.61 1243.00,1156.57 1243.30,1153.46 1243.60,1150.46 1243.90,1147.81 1244.20,1145.72 1244.50,1144.34 1244.80,1143.82 1245.10,1144.18 1245.40,1145.39 1245.70,1147.33 1246.00,1149.85 1246.30,1152.73 1246.60,1155.76 1246.90,1158.77 1247.20,1161.58 1247.50,1164.11 1247.80,1166.27 1248.10,1168.07 1248.40,1169.50 1248.70,1170.60 1249.00,1171.43 1249.30,1172.03 1249.60,1172.46 1249.90,1172.73 1250.20,1172.90 1250.50,1172.95 1250.80,1172.89 1251.10,1172.66 1251.40,1172.18 1251.70,1171.30 1252.00,1169.79 1252.30,1167.33 1252.60,1163.48 1252.90,1157.70 1253.20,1149.38 1253.50,1137.88 1253.80,1122.67 1254.10,1103.41 1254.40,1080.17 1254.70,1053.48 1255.00,1024.48 1255.30,994.83 1255.60,966.67 1255.90,942.34 1256.20,924.05 1256.50,913.61 1256.80,912.07 1257.10,919.59 1257.40,935.40 1257.70,957.91 1258.00,985.02 1258.30,1014.37 1258.60,1043.75 1258.90,1071.30 1259.20,1095.71 1259.50,1116.25 1259.80,1132.72 1260.10,1145.34 1260.40,1154.58 1260.70,1161.08 1261.00,1165.45 1261.30,1168.28 1261.60,1170.04 1261.90,1171.09 1262.20,1171.67 1262.50,1171.95 1262.80,1172.02 1263.10,1171.90 1263.40,1171.58 1263.70,1170.99 1264.00,1170.04 1264.30,1168.63 1264.60,1166.62 1264.90,1163.89 1265.20,1160.33 1265.50,1155.91 1265.80,1150.68 1266.10,1144.79 1266.40,1138.53 1266.70,1132.28 1267.00,1126.53 1267.30,1121.76 1267.60,1118.44 1267.90,1116.89 1268.20,1117.28 1268.50,1119.57 1268.80,1123.54 1269.10,1128.80 1269.40,1134.88 1269.70,1141.26 1270.00,1147.51 1270.30,1153.26 1270.60,1158.26 1270.90,1162.40 1271.20,1165.67 1271.50,1168.14 1271.80,1169.93 1272.10,1171.17 1272.40,1171.98 1272.70,1172.50 1273.00,1172.82 1273.30,1172.99 1273.60,1173.08 1273.90,1173.12 1274.50,1173.10 1274.80,1173.08 1275.10,1173.05 1275.40,1173.01 1275.70,1172.98 1276.00,1172.94 1276.30,1172.91 1276.60,1172.88 1276.90,1172.86 1282.00,1172.88 1282.30,1172.86 1282.60,1172.84 1284.10,1172.83 1284.40,1172.85 1284.70,1172.88 1285.00,1172.92 1285.30,1172.96 1285.60,1173.00 1285.90,1173.04 1286.20,1173.08 1286.50,1173.11 1286.80,1173.13 1287.70,1173.12 1288.00,1173.09 1288.30,1173.04 1288.60,1172.95 1288.90,1172.82 1289.20,1172.62 1289.50,1172.32 1289.80,1171.87 1290.10,1171.22 1290.40,1170.30 1290.70,1169.06 1291.00,1167.44 1291.30,1165.42 1291.60,1163.01 1291.90,1160.30 1292.20,1157.40 1292.50,1154.51 1292.80,1151.83 1293.10,1149.60 1293.40,1148.03 1293.70,1147.28 1294.00,1147.42 1294.30,1148.43 1294.60,1150.22 1294.90,1152.60 1295.20,1155.36 1295.50,1158.25 1295.80,1161.08 1296.10,1163.67 1296.40,1165.92 1296.70,1167.77 1297.00,1169.22 1297.30,1170.31 1297.60,1171.10 1297.90,1171.64 1298.20,1172.00 1298.50,1172.24 1298.80,1172.38 1299.10,1172.45 1299.40,1172.45 1299.70,1172.38 1300.00,1172.20 1300.30,1171.89 1300.60,1171.41 1300.90,1170.71 1301.20,1169.78 1301.50,1168.63 1301.80,1167.31 1302.10,1165.90 1302.40,1164.53 1302.70,1163.35 1303.00,1162.50 1303.30,1162.09 1303.60,1162.19 1303.90,1162.78 1304.20,1163.78 1304.50,1165.06 1304.80,1166.49 1305.10,1167.92 1305.40,1169.22 1305.70,1170.30 1306.00,1171.11 1306.30,1171.61 1306.60,1171.73 1306.90,1171.40 1307.20,1170.46 1307.50,1168.71 1307.80,1165.81 1308.10,1161.37 1308.40,1154.95 1308.70,1146.13 1309.00,1134.62 1309.30,1120.40 1309.60,1103.77 1309.90,1085.50 1310.20,1066.77 1310.50,1049.10 1310.80,1034.17 1311.10,1023.55 1311.40,1018.42 1311.70,1019.37 1312.00,1026.29 1312.30,1038.36 1312.60,1054.25 1312.90,1072.32 1313.20,1090.93 1313.50,1108.65 1313.80,1124.44 1314.10,1137.68 1314.40,1148.20 1314.70,1156.12 1315.00,1161.80 1315.30,1165.68 1315.60,1168.18 1315.90,1169.70 1316.20,1170.54 1316.50,1170.90 1316.80,1170.92 1317.10,1170.69 1317.40,1170.23 1317.70,1169.58 1318.00,1168.76 1318.30,1167.83 1318.60,1166.83 1318.90,1165.87 1319.20,1165.02 1319.50,1164.39 1319.80,1164.05 1320.10,1164.05 1320.40,1164.40 1320.70,1165.06 1321.00,1165.96 1321.30,1167.01 1321.60,1168.13 1321.90,1169.21 1322.20,1170.19 1322.50,1171.02 1322.80,1171.70 1323.10,1172.22 1323.40,1172.60 1323.70,1172.86 1324.00,1173.04 1324.30,1173.15 1324.60,1173.22 1324.90,1173.26 1325.20,1173.28 1332.40,1173.24 1332.70,1173.21 1333.00,1173.18 1333.30,1173.15 1333.60,1173.11 1333.90,1173.07 1334.20,1173.03 1334.50,1172.98 1334.80,1172.95 1335.10,1172.92 1335.40,1172.89 1337.20,1172.88 1337.50,1172.82 1337.80,1172.71 1338.10,1172.49 1338.40,1172.13 1338.70,1171.56 1339.00,1170.72 1339.30,1169.54 1339.60,1167.97 1339.90,1165.98 1340.20,1163.56 1340.50,1160.79 1340.80,1157.77 1341.10,1154.68 1341.40,1151.74 1341.70,1149.21 1342.00,1147.30 1342.30,1146.21 1342.60,1146.05 1342.90,1146.84 1343.20,1148.49 1343.50,1150.84 1343.80,1153.67 1344.10,1156.74 1344.40,1159.81 1344.70,1162.69 1345.00,1165.25 1345.30,1167.40 1345.60,1169.12 1345.90,1170.44 1346.20,1171.42 1346.50,1172.10 1346.80,1172.56 1347.10,1172.86 1347.40,1173.05 1347.70,1173.16 1348.00,1173.23 1348.30,1173.26 1353.40,1173.18 1353.70,1173.16 1354.00,1173.14 1354.30,1173.12 1354.60,1173.09 1354.90,1173.07 1355.20,1173.05 1355.50,1173.02 1355.80,1172.99 1356.10,1172.96 1356.40,1172.92 1356.70,1172.86 1357.00,1172.76 1357.30,1172.61 1357.60,1172.38 1357.90,1172.06 1358.20,1171.61 1358.50,1171.03 1358.80,1170.32 1359.10,1169.51 1359.40,1168.65 1359.70,1167.82 1360.00,1167.11 1360.30,1166.61 1360.60,1166.38 1360.90,1166.45 1361.20,1166.82 1361.50,1167.44 1361.80,1168.24 1362.10,1169.12 1362.40,1170.00 1362.70,1170.81 1363.00,1171.50 1363.30,1172.05 1363.60,1172.46 1363.90,1172.72 1364.20,1172.86 1364.50,1172.86 1364.80,1172.72 1365.10,1172.39 1365.40,1171.79 1365.70,1170.85 1366.00,1169.43 1366.30,1167.41 1366.60,1164.69 1366.90,1161.20 1367.20,1156.97 1367.50,1152.13 1367.80,1146.92 1368.10,1141.71 1368.40,1136.97 1368.70,1133.14 1369.00,1130.66 1369.30,1129.80 1369.60,1130.66 1369.90,1133.14 1370.20,1136.96 1370.50,1141.71 1370.80,1146.91 1371.10,1152.12 1371.40,1156.96 1371.70,1161.18 1372.00,1164.66 1372.30,1167.36 1372.60,1169.36 1372.90,1170.77 1373.20,1171.70 1373.50,1172.30 1373.80,1172.65 1374.10,1172.84 1374.40,1172.94 1374.70,1172.99 1375.00,1173.01 1376.20,1173.06 1376.50,1173.09 1376.80,1173.11 1377.10,1173.14 1377.40,1173.17 1377.70,1173.20 1378.00,1173.22 1378.30,1173.24 1383.10,1173.25 1383.40,1173.23 1383.70,1173.20 1384.00,1173.17 1384.30,1173.13 1384.60,1173.09 1384.90,1173.04 1385.20,1173.00 1385.50,1172.97 1385.80,1172.94 1387.60,1172.94 1387.90,1172.90 1388.20,1172.79 1388.50,1172.60 1388.80,1172.30 1389.10,1171.86 1389.40,1171.28 1389.70,1170.57 1390.00,1169.75 1390.30,1168.87 1390.60,1168.03 1390.90,1167.30 1391.20,1166.77 1391.50,1166.52 1391.80,1166.57 1392.10,1166.91 1392.40,1167.51 1392.70,1168.27 1393.00,1169.11 1393.30,1169.90 1393.60,1170.57 1393.90,1171.03 1394.20,1171.18 1394.50,1170.94 1394.80,1170.23 1395.10,1168.93 1395.40,1166.94 1395.70,1164.15 1396.00,1160.54 1396.30,1156.11 1396.60,1151.03 1396.90,1145.55 1397.20,1140.06 1397.50,1135.05 1397.80,1130.99 1398.10,1128.33 1398.40,1127.35 1398.70,1128.17 1399.00,1130.67 1399.30,1134.57 1399.60,1139.44 1399.90,1144.79 1400.20,1150.15 1400.50,1155.13 1400.80,1159.49 1401.10,1163.08 1401.40,1165.88 1401.70,1167.98 1402.00,1169.47 1402.30,1170.50 1402.60,1171.18 1402.90,1171.64 1403.20,1171.95 1403.50,1172.17 1403.80,1172.34 1404.10,1172.47 1404.40,1172.59 1404.70,1172.70 1405.00,1172.79 1405.30,1172.87 1405.60,1172.94 1405.90,1172.98 1406.20,1173.00 1406.50,1172.97 1406.80,1172.87 1407.10,1172.69 1407.40,1172.37 1407.70,1171.89 1408.00,1171.19 1408.30,1170.25 1408.60,1169.03 1408.90,1167.55 1409.20,1165.85 1409.50,1164.02 1409.80,1162.19 1410.10,1160.52 1410.40,1159.18 1410.70,1158.30 1411.00,1158.00 1411.30,1158.30 1411.30,1158.30" fill="none" stroke="#444444" stroke-width="1.9" stroke-linejoin="round"/>
<line x1="98.40" y1="1147.27" x2="102.20" y2="1147.27" stroke="#707070" stroke-width="1.5" />
<line x1="1412.30" y1="1147.27" x2="1408.50" y2="1147.27" stroke="#707070" stroke-width="1.5" />
<line x1="98.40" y1="1107.74" x2="102.20" y2="1107.74" stroke="#707070" stroke-width="1.5" />
<line x1="1412.30" y1="1107.74" x2="1408.50" y2="1107.74" stroke="#707070" stroke-width="1.5" />
<line x1="98.40" y1="1068.21" x2="102.20" y2="1068.21" stroke="#707070" stroke-width="1.5" />
<line x1="1412.30" y1="1068.21" x2="1408.50" y2="1068.21" stroke="#707070" stroke-width="1.5" />
<line x1="98.40" y1="1028.68" x2="102.20" y2="1028.68" stroke="#707070" stroke-width="1.5" />
<line x1="1412.30" y1="1028.68" x2="1408.50" y2="1028.68" stroke="#707070" stroke-width="1.5" />
<line x1="98.40" y1="949.62" x2="102.20" y2="949.62" stroke="#707070" stroke-width="1.5" />
<line x1="1412.30" y1="949.62" x2="1408.50" y2="949.62" stroke="#707070" stroke-width="1.5" />
<line x1="98.40" y1="910.09" x2="102.20" y2="910.09" stroke="#707070" stroke-width="1.5" />
<line x1="1412.30" y1="910.09" x2="1408.50" y2="910.09" stroke="#707070" stroke-width="1.5" />
<line x1="98.40" y1="870.56" x2="102.20" y2="870.56" stroke="#707070" stroke-width="1.5" />
<line x1="1412.30" y1="870.56" x2="1408.50" y2="870.56" stroke="#707070" stroke-width="1.5" />
<line x1="98.40" y1="831.03" x2="102.20" y2="831.03" stroke="#707070" stroke-width="1.5" />
<line x1="1412.30" y1="831.03" x2="1408.50" y2="831.03" stroke="#707070" stroke-width="1.5" />
<line x1="98.40" y1="751.97" x2="102.20" y2="751.97" stroke="#707070" stroke-width="1.5" />
<line x1="1412.30" y1="751.97" x2="1408.50" y2="751.97" stroke="#707070" stroke-width="1.5" />
<line x1="98.40" y1="712.44" x2="102.20" y2="712.44" stroke="#707070" stroke-width="1.5" />
<line x1="1412.30" y1="712.44" x2="1408.50" y2="712.44" stroke="#707070" stroke-width="1.5" />
<line x1="98.40" y1="672.91" x2="102.20" y2="672.91" stroke="#707070" stroke-width="1.5" />
<line x1="1412.30" y1="672.91" x2="1408.50" y2="672.91" stroke="#707070" stroke-width="1.5" />
<line x1="98.40" y1="989.15" x2="105.90" y2="989.15" stroke="#707070" stroke-width="1.6" />
<line x1="1412.30" y1="989.15" x2="1404.80" y2="989.15" stroke="#707070" stroke-width="1.6" />
<line x1="98.40" y1="791.50" x2="105.90" y2="791.50" stroke="#707070" stroke-width="1.6" />
<line x1="1412.30" y1="791.50" x2="1404.80" y2="791.50" stroke="#707070" stroke-width="1.6" />
<line x1="146.18" y1="672.30" x2="146.18" y2="678.80" stroke="#858585" stroke-width="1.9" />
<line x1="146.18" y1="1186.30" x2="146.18" y2="1179.80" stroke="#858585" stroke-width="1.9" />
<line x1="193.96" y1="672.30" x2="193.96" y2="678.80" stroke="#858585" stroke-width="1.9" />
<line x1="193.96" y1="1186.30" x2="193.96" y2="1179.80" stroke="#858585" stroke-width="1.9" />
<line x1="241.73" y1="672.30" x2="241.73" y2="678.80" stroke="#858585" stroke-width="1.9" />
<line x1="241.73" y1="1186.30" x2="241.73" y2="1179.80" stroke="#858585" stroke-width="1.9" />
<line x1="289.51" y1="672.30" x2="289.51" y2="678.80" stroke="#858585" stroke-width="1.9" />
<line x1="289.51" y1="1186.30" x2="289.51" y2="1179.80" stroke="#858585" stroke-width="1.9" />
<line x1="337.29" y1="672.30" x2="337.29" y2="685.30" stroke="#858585" stroke-width="1.9" />
<line x1="337.29" y1="1186.30" x2="337.29" y2="1173.30" stroke="#858585" stroke-width="1.9" />
<line x1="385.07" y1="672.30" x2="385.07" y2="678.80" stroke="#858585" stroke-width="1.9" />
<line x1="385.07" y1="1186.30" x2="385.07" y2="1179.80" stroke="#858585" stroke-width="1.9" />
<line x1="432.85" y1="672.30" x2="432.85" y2="678.80" stroke="#858585" stroke-width="1.9" />
<line x1="432.85" y1="1186.30" x2="432.85" y2="1179.80" stroke="#858585" stroke-width="1.9" />
<line x1="480.63" y1="672.30" x2="480.63" y2="678.80" stroke="#858585" stroke-width="1.9" />
<line x1="480.63" y1="1186.30" x2="480.63" y2="1179.80" stroke="#858585" stroke-width="1.9" />
<line x1="528.40" y1="672.30" x2="528.40" y2="678.80" stroke="#858585" stroke-width="1.9" />
<line x1="528.40" y1="1186.30" x2="528.40" y2="1179.80" stroke="#858585" stroke-width="1.9" />
<line x1="576.18" y1="672.30" x2="576.18" y2="685.30" stroke="#858585" stroke-width="1.9" />
<line x1="576.18" y1="1186.30" x2="576.18" y2="1173.30" stroke="#858585" stroke-width="1.9" />
<line x1="623.96" y1="672.30" x2="623.96" y2="678.80" stroke="#858585" stroke-width="1.9" />
<line x1="623.96" y1="1186.30" x2="623.96" y2="1179.80" stroke="#858585" stroke-width="1.9" />
<line x1="671.74" y1="672.30" x2="671.74" y2="678.80" stroke="#858585" stroke-width="1.9" />
<line x1="671.74" y1="1186.30" x2="671.74" y2="1179.80" stroke="#858585" stroke-width="1.9" />
<line x1="719.52" y1="672.30" x2="719.52" y2="678.80" stroke="#858585" stroke-width="1.9" />
<line x1="719.52" y1="1186.30" x2="719.52" y2="1179.80" stroke="#858585" stroke-width="1.9" />
<line x1="767.29" y1="672.30" x2="767.29" y2="678.80" stroke="#858585" stroke-width="1.9" />
<line x1="767.29" y1="1186.30" x2="767.29" y2="1179.80" stroke="#858585" stroke-width="1.9" />
<line x1="815.07" y1="672.30" x2="815.07" y2="685.30" stroke="#858585" stroke-width="1.9" />
<line x1="815.07" y1="1186.30" x2="815.07" y2="1173.30" stroke="#858585" stroke-width="1.9" />
<line x1="862.85" y1="672.30" x2="862.85" y2="678.80" stroke="#858585" stroke-width="1.9" />
<line x1="862.85" y1="1186.30" x2="862.85" y2="1179.80" stroke="#858585" stroke-width="1.9" />
<line x1="910.63" y1="672.30" x2="910.63" y2="678.80" stroke="#858585" stroke-width="1.9" />
<line x1="910.63" y1="1186.30" x2="910.63" y2="1179.80" stroke="#858585" stroke-width="1.9" />
<line x1="958.41" y1="672.30" x2="958.41" y2="678.80" stroke="#858585" stroke-width="1.9" />
<line x1="958.41" y1="1186.30" x2="958.41" y2="1179.80" stroke="#858585" stroke-width="1.9" />
<line x1="1006.19" y1="672.30" x2="1006.19" y2="678.80" stroke="#858585" stroke-width="1.9" />
<line x1="1006.19" y1="1186.30" x2="1006.19" y2="1179.80" stroke="#858585" stroke-width="1.9" />
<line x1="1053.96" y1="672.30" x2="1053.96" y2="685.30" stroke="#858585" stroke-width="1.9" />
<line x1="1053.96" y1="1186.30" x2="1053.96" y2="1173.30" stroke="#858585" stroke-width="1.9" />
<line x1="1101.74" y1="672.30" x2="1101.74" y2="678.80" stroke="#858585" stroke-width="1.9" />
<line x1="1101.74" y1="1186.30" x2="1101.74" y2="1179.80" stroke="#858585" stroke-width="1.9" />
<line x1="1149.52" y1="672.30" x2="1149.52" y2="678.80" stroke="#858585" stroke-width="1.9" />
<line x1="1149.52" y1="1186.30" x2="1149.52" y2="1179.80" stroke="#858585" stroke-width="1.9" />
<line x1="1197.30" y1="672.30" x2="1197.30" y2="678.80" stroke="#858585" stroke-width="1.9" />
<line x1="1197.30" y1="1186.30" x2="1197.30" y2="1179.80" stroke="#858585" stroke-width="1.9" />
<line x1="1245.08" y1="672.30" x2="1245.08" y2="678.80" stroke="#858585" stroke-width="1.9" />
<line x1="1245.08" y1="1186.30" x2="1245.08" y2="1179.80" stroke="#858585" stroke-width="1.9" />
<line x1="1292.85" y1="672.30" x2="1292.85" y2="685.30" stroke="#858585" stroke-width="1.9" />
<line x1="1292.85" y1="1186.30" x2="1292.85" y2="1173.30" stroke="#858585" stroke-width="1.9" />
<line x1="1340.63" y1="672.30" x2="1340.63" y2="678.80" stroke="#858585" stroke-width="1.9" />
<line x1="1340.63" y1="1186.30" x2="1340.63" y2="1179.80" stroke="#858585" stroke-width="1.9" />
<line x1="1388.41" y1="672.30" x2="1388.41" y2="678.80" stroke="#858585" stroke-width="1.9" />
<line x1="1388.41" y1="1186.30" x2="1388.41" y2="1179.80" stroke="#858585" stroke-width="1.9" />
<rect x="98.4" y="672.3" width="1313.90" height="514.00" fill="none" stroke="#707070" stroke-width="2.4"/>
<text id="t27" x="87.00" y="1189.60" font-family="Liberation Sans" font-size="20.5" text-anchor="middle" fill="#222" stroke="#222" stroke-width="0.3">0</text>
<text id="t28" x="73.60 87.00" y="995.75" font-family="Liberation Sans" font-size="20.5" text-anchor="middle" fill="#222" stroke="#222" stroke-width="0.3">50</text>
<text id="t29" x="60.20 73.60 87.00" y="798.10" font-family="Liberation Sans" font-size="20.5" text-anchor="middle" fill="#222" stroke="#222" stroke-width="0.3">100</text>
<text x="0" y="0" font-family="Liberation Mono" font-size="25.5" text-anchor="middle" fill="#2a2a2a" stroke="none" textLength="229.5" lengthAdjust="spacingAndGlyphs" transform="translate(29.8,927.9) rotate(-90)">Intensity [kR]</text>
<text id="t30" x="86.00 98.80 111.60" y="1211.50" font-family="Liberation Sans" font-size="20.5" text-anchor="middle" fill="#222" stroke="#222" stroke-width="0.3">300</text>
<text id="t31" x="324.89 337.69 350.49" y="1211.50" font-family="Liberation Sans" font-size="20.5" text-anchor="middle" fill="#222" stroke="#222" stroke-width="0.3">400</text>
<text id="t32" x="563.78 576.58 589.38" y="1211.50" font-family="Liberation Sans" font-size="20.5" text-anchor="middle" fill="#222" stroke="#222" stroke-width="0.3">500</text>
<text id="t33" x="802.67 815.47 828.27" y="1211.50" font-family="Liberation Sans" font-size="20.5" text-anchor="middle" fill="#222" stroke="#222" stroke-width="0.3">600</text>
<text id="t34" x="1041.56 1054.36 1067.16" y="1211.50" font-family="Liberation Sans" font-size="20.5" text-anchor="middle" fill="#222" stroke="#222" stroke-width="0.3">700</text>
<text id="t35" x="1280.45 1293.25 1306.05" y="1211.50" font-family="Liberation Sans" font-size="20.5" text-anchor="middle" fill="#222" stroke="#222" stroke-width="0.3">800</text>
<text x="760.5" y="1244.8" font-family="Liberation Mono" font-size="25.5" text-anchor="middle" fill="#2a2a2a" stroke="none" textLength="246.6" lengthAdjust="spacingAndGlyphs">Wavelength [nm]</text>
<text id="t36" x="213.00" y="986.50" font-family="Liberation Sans" font-size="24.5" text-anchor="middle" fill="#1c1c1c" stroke="#1c1c1c" stroke-width="0.6" transform="matrix(0.8988 0 0 1.0000 21.14 0.00)" >N<tspan font-size="15" dy="8.5">2</tspan><tspan dy="-8.5"> 2P</tspan></text>
<path d="M131.30,1022.30 L131.30,1006.70 L290.70,1006.70 L290.70,1022.30" fill="none" stroke="#5a5a5a" stroke-width="2" stroke-linejoin="round" stroke-linecap="butt" stroke-linejoin="miter"/>
<line x1="184.40" y1="1006.70" x2="184.40" y2="1022.30" stroke="#5a5a5a" stroke-width="2" />
<line x1="235.40" y1="1006.70" x2="235.40" y2="1022.30" stroke="#5a5a5a" stroke-width="2" />
<line x1="278.20" y1="1006.70" x2="278.20" y2="1022.30" stroke="#5a5a5a" stroke-width="2" />
<line x1="131.30" y1="1029.90" x2="131.30" y2="1127.70" stroke="#b8b8b8" stroke-width="2.6" stroke-dasharray="2.6 3.4"/>
<line x1="184.40" y1="1029.90" x2="184.40" y2="1051.80" stroke="#b8b8b8" stroke-width="2.6" stroke-dasharray="2.6 3.4"/>
<line x1="235.40" y1="1029.90" x2="235.40" y2="1074.80" stroke="#b8b8b8" stroke-width="2.6" stroke-dasharray="2.6 3.4"/>
<line x1="278.20" y1="1029.90" x2="278.20" y2="1134.70" stroke="#b8b8b8" stroke-width="2.6" stroke-dasharray="2.6 3.4"/>
<line x1="290.70" y1="1029.90" x2="290.70" y2="1134.70" stroke="#b8b8b8" stroke-width="2.6" stroke-dasharray="2.6 3.4"/>
<text id="t37" x="415.00" y="721.00" font-family="Liberation Sans" font-size="24.5" text-anchor="middle" fill="#1c1c1c" stroke="#1c1c1c" stroke-width="0.6" transform="matrix(0.9228 0 0 1.0000 32.14 0.00)" >N<tspan font-size="15" dy="8.5">2</tspan><tspan font-size="15" dy="-14.2" dx="0.5">+</tspan><tspan dy="5.7"> 1N</tspan></text>
<path d="M317.40,756.20 L317.40,740.60 L506.00,740.60 L506.00,756.20" fill="none" stroke="#5a5a5a" stroke-width="2" stroke-linejoin="round" stroke-linecap="butt" stroke-linejoin="miter"/>
<line x1="403.30" y1="740.60" x2="403.30" y2="756.20" stroke="#5a5a5a" stroke-width="2" />
<line x1="317.40" y1="764.50" x2="317.40" y2="773.00" stroke="#b8b8b8" stroke-width="2.6" stroke-dasharray="2.6 3.4"/>
<line x1="403.30" y1="764.50" x2="403.30" y2="1039.50" stroke="#b8b8b8" stroke-width="2.6" stroke-dasharray="2.6 3.4"/>
<line x1="506.00" y1="765.00" x2="506.00" y2="1133.30" stroke="#b8b8b8" stroke-width="2.6" stroke-dasharray="2.6 3.4"/>
<text id="t38" x="825.50" y="734.30" font-family="Liberation Mono" font-size="17.6" text-anchor="start" fill="#222222" stroke="#222222" stroke-width="0.85" >N<tspan font-size="11" dy="6">2</tspan><tspan dy="-6"> 2P</tspan></text>
<line x1="825.50" y1="738.60" x2="873.00" y2="738.60" stroke="#6a6a6a" stroke-width="1.8" />
<text id="t39" x="825.50" y="757.90" font-family="Liberation Mono" font-size="17.6" text-anchor="start" fill="#222222" stroke="#222222" stroke-width="0.85" >315.8</text>
<text id="t40" x="825.50" y="781.10" font-family="Liberation Mono" font-size="17.6" text-anchor="start" fill="#222222" stroke="#222222" stroke-width="0.85" >337.0</text>
<text id="t41" x="825.50" y="804.30" font-family="Liberation Mono" font-size="17.6" text-anchor="start" fill="#222222" stroke="#222222" stroke-width="0.85" >353.5, 357.6</text>
<text id="t42" x="825.50" y="827.50" font-family="Liberation Mono" font-size="17.6" text-anchor="start" fill="#222222" stroke="#222222" stroke-width="0.85" >375.4, 380.4</text>
<text id="t43" x="979.00" y="734.30" font-family="Liberation Mono" font-size="17.6" text-anchor="start" fill="#222222" stroke="#222222" stroke-width="0.85" >N<tspan font-size="11" dy="6">2</tspan><tspan font-size="11" dy="-14">+</tspan><tspan dy="8"> 1N</tspan></text>
<line x1="979.00" y1="738.60" x2="1034.00" y2="738.60" stroke="#6a6a6a" stroke-width="1.8" />
<text id="t44" x="979.00" y="757.90" font-family="Liberation Mono" font-size="17.6" text-anchor="start" fill="#222222" stroke="#222222" stroke-width="0.85" >391.4</text>
<text id="t45" x="979.00" y="781.10" font-family="Liberation Mono" font-size="17.6" text-anchor="start" fill="#222222" stroke="#222222" stroke-width="0.85" >427.8</text>
<text id="t46" x="979.00" y="804.30" font-family="Liberation Mono" font-size="17.6" text-anchor="start" fill="#222222" stroke="#222222" stroke-width="0.85" >470.8</text>
<text id="t47" x="1076.00" y="734.30" font-family="Liberation Mono" font-size="17.6" text-anchor="start" fill="#222222" stroke="#222222" stroke-width="0.85" >O<tspan font-size="11" dy="6">2</tspan><tspan font-size="11" dy="-14">+</tspan><tspan dy="8"> 1N</tspan></text>
<line x1="1076.00" y1="738.60" x2="1130.30" y2="738.60" stroke="#6a6a6a" stroke-width="1.8" />
<text id="t48" x="1076.00" y="757.90" font-family="Liberation Mono" font-size="17.6" text-anchor="start" fill="#222222" stroke="#222222" stroke-width="0.85" >525.3, 527.5</text>
<text id="t49" x="1225.50" y="734.30" font-family="Liberation Mono" font-size="17.6" text-anchor="start" fill="#222222" stroke="#222222" stroke-width="0.85" >[OI]</text>
<line x1="1225.50" y1="738.60" x2="1267.00" y2="738.60" stroke="#6a6a6a" stroke-width="1.8" />
<text id="t50" x="1225.50" y="757.90" font-family="Liberation Mono" font-size="17.6" text-anchor="start" fill="#222222" stroke="#222222" stroke-width="0.85" >557.7</text>
<text id="t51" x="1225.50" y="781.10" font-family="Liberation Mono" font-size="17.6" text-anchor="start" fill="#222222" stroke="#222222" stroke-width="0.85" >630.0</text>
<text id="t52" x="1225.50" y="804.30" font-family="Liberation Mono" font-size="17.6" text-anchor="start" fill="#222222" stroke="#222222" stroke-width="0.85" >636.4</text>
<text id="t53" x="1173.00" y="827.00" font-family="Liberation Sans" font-size="24.5" text-anchor="middle" fill="#1c1c1c" stroke="#1c1c1c" stroke-width="0.6" transform="matrix(0.8888 0 0 1.0000 130.32 0.00)" >N<tspan font-size="15" dy="8.5">2</tspan><tspan dy="-8.5"> 1P</tspan></text>
<text id="t54" x="1173.00" y="856.40" font-family="Liberation Sans" font-size="24.5" text-anchor="middle" fill="#1c1c1c" stroke="#1c1c1c" stroke-width="0.6" transform="matrix(0.9549 0 0 1.0000 52.89 0.00)" >N<tspan font-size="15" dy="8.5">2</tspan><tspan font-size="15" dy="-14.2" dx="0.5">+</tspan><tspan dy="5.7"> M</tspan></text>
<text id="t55" x="1173.00" y="886.80" font-family="Liberation Sans" font-size="24.5" text-anchor="middle" fill="#1c1c1c" stroke="#1c1c1c" stroke-width="0.6" transform="matrix(0.9418 0 0 1.0000 68.39 0.00)" >O<tspan font-size="15" dy="8.5">2</tspan><tspan dy="-8.5"> ATM</tspan></text>
<path d="M952.30,917.00 L952.30,902.30 L1384.70,902.30 L1384.70,917.00" fill="none" stroke="#5a5a5a" stroke-width="2" stroke-linejoin="round" stroke-linecap="butt" stroke-linejoin="miter"/>
<line x1="952.30" y1="921.00" x2="952.30" y2="1099.60" stroke="#b8b8b8" stroke-width="2.6" stroke-dasharray="2.6 3.4"/>
<line x1="1384.70" y1="921.00" x2="1384.70" y2="1113.40" stroke="#b8b8b8" stroke-width="2.6" stroke-dasharray="2.6 3.4"/>
<text id="t56" x="636.50" y="1125.30" font-family="Liberation Sans" font-size="24.5" text-anchor="middle" fill="#1c1c1c" stroke="#1c1c1c" stroke-width="0.6" transform="matrix(0.9117 0 0 1.0000 56.47 0.00)" >O<tspan font-size="15" dy="8.5">2</tspan><tspan font-size="15" dy="-14.2" dx="0.5">+</tspan><tspan dy="5.7"> 1N</tspan></text>
<line x1="635.80" y1="1136.90" x2="635.80" y2="1152.20" stroke="#5a5a5a" stroke-width="1.8" />
<line x1="735.10" y1="1029.00" x2="875.20" y2="1029.00" stroke="#b8b8b8" stroke-width="2.4" stroke-dasharray="2.4 3.6"/>
<path d="M875.20,1029.00 L892.70,1029.00 L892.70,1044.30" fill="none" stroke="#5a5a5a" stroke-width="2" stroke-linejoin="round" stroke-linecap="butt" stroke-linejoin="miter"/>
<text id="t57" x="893.70" y="1074.60" font-family="Liberation Sans" font-size="24.5" text-anchor="middle" fill="#1c1c1c" stroke="#1c1c1c" stroke-width="0.6" transform="matrix(1.1182 0 0 1.0000 -105.62 0.00)" >[O<tspan font-family="Liberation Serif">I</tspan>]</text>
<path d="M884.60,1101.40 L884.60,1086.40 L902.00,1086.40 L902.00,1101.40" fill="none" stroke="#5a5a5a" stroke-width="2" stroke-linejoin="round" stroke-linecap="butt" stroke-linejoin="miter"/>
<line x1="884.60" y1="1106.00" x2="884.60" y2="1139.60" stroke="#b8b8b8" stroke-width="2.6" stroke-dasharray="2.6 3.4"/>
<line x1="902.00" y1="1106.00" x2="902.00" y2="1149.00" stroke="#b8b8b8" stroke-width="2.6" stroke-dasharray="2.6 3.4"/>
</svg>
</body></html>
